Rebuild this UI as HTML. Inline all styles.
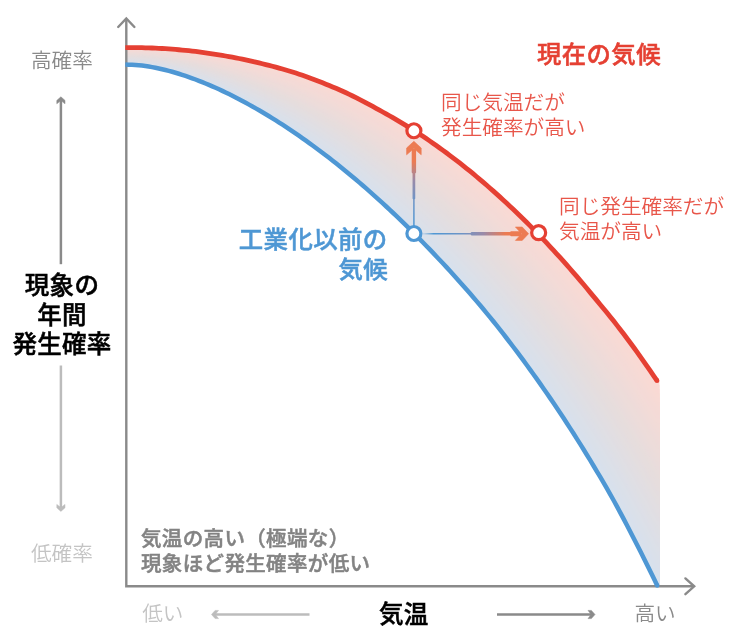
<!DOCTYPE html>
<html lang="ja"><head><meta charset="utf-8"><title>気温と現象の年間発生確率</title>
<style>
html,body{margin:0;padding:0;background:#fff;}
body{width:736px;height:636px;overflow:hidden;}
svg{display:block;}
text{font-family:"Liberation Sans","Noto Sans CJK JP",sans-serif;}
.b{font-weight:500;stroke-width:0.5px;}
.l{font-weight:350;}
</style></head><body>
<svg width="736" height="636" viewBox="0 0 736 636">
<defs>
<linearGradient id="gv" gradientUnits="userSpaceOnUse" x1="0" y1="226" x2="0" y2="150"><stop offset="0" stop-color="#4E97D4"/><stop offset="0.35" stop-color="#6E94C6"/><stop offset="0.6" stop-color="#9A8AA8"/><stop offset="0.85" stop-color="#EC7B52"/><stop offset="1" stop-color="#EC7B52"/></linearGradient>
<linearGradient id="gh" gradientUnits="userSpaceOnUse" x1="424" y1="0" x2="520" y2="0"><stop offset="0" stop-color="#4E97D4" stop-opacity="0.2"/><stop offset="0.1" stop-color="#4E97D4"/><stop offset="0.4" stop-color="#6E94C6"/><stop offset="0.62" stop-color="#9A8AA8"/><stop offset="0.85" stop-color="#EC7B52"/><stop offset="1" stop-color="#EC7B52"/></linearGradient>
</defs>
<rect width="736" height="636" fill="#fff"/>
<g>
<path d="M126.5,47.6 L131.4,47.6 L136.2,47.6 L141.1,47.7 L146.0,47.8 L150.8,48.0 L155.7,48.2 L160.6,48.4 L165.4,48.7 L170.3,49.0 L175.2,49.4 L180.0,49.8 L184.9,50.3 L189.8,50.8 L194.6,51.4 L199.5,52.0 L204.4,52.6 L209.2,53.3 L214.1,54.1 L219.0,54.9 L223.8,55.7 L228.7,56.5 L233.6,57.4 L238.4,58.4 L243.3,59.4 L248.2,60.4 L253.0,61.5 L257.9,62.7 L262.8,63.9 L267.6,65.1 L272.5,66.3 L277.4,67.6 L282.2,69.0 L287.1,70.4 L292.0,71.8 L296.8,73.4 L301.7,75.1 L306.6,76.8 L311.4,78.5 L316.3,80.4 L321.2,82.3 L326.0,84.2 L330.9,86.2 L335.8,88.2 L340.6,90.4 L345.5,92.6 L350.4,94.9 L355.2,97.3 L360.1,99.8 L365.0,102.3 L369.8,104.9 L374.7,107.5 L379.6,110.2 L384.4,112.9 L389.3,115.6 L394.2,118.4 L399.1,121.3 L403.9,124.2 L408.8,127.2 L413.7,130.3 L418.5,133.4 L423.4,136.7 L428.3,140.0 L433.1,143.3 L438.0,146.8 L442.9,150.3 L447.7,153.8 L452.6,157.5 L457.5,161.2 L462.3,165.0 L467.2,168.9 L472.1,172.9 L476.9,176.9 L481.8,181.0 L486.7,185.2 L491.5,189.5 L496.4,193.8 L501.3,198.2 L506.1,202.7 L511.0,207.2 L515.9,211.8 L520.7,216.5 L525.6,221.3 L530.5,226.1 L535.3,231.1 L540.2,236.1 L545.1,241.3 L549.9,246.4 L554.8,251.7 L559.7,257.0 L564.5,262.5 L569.4,268.0 L574.3,273.6 L579.1,279.2 L584.0,285.0 L588.9,290.8 L593.7,296.7 L598.6,302.6 L603.5,308.4 L608.3,314.4 L613.2,320.4 L618.1,326.7 L622.9,333.0 L627.8,339.4 L632.7,346.0 L637.5,352.7 L642.4,359.6 L647.3,366.5 L652.1,373.6 L657.0,380.7 L659.5,380.7 L659.5,585.4 L657.0,585.0 L652.1,575.0 L647.3,565.1 L642.4,555.4 L637.5,545.8 L632.7,536.2 L627.8,526.9 L622.9,517.6 L618.1,508.5 L613.2,499.6 L608.3,491.0 L603.5,482.6 L598.6,474.3 L593.7,466.1 L588.9,458.1 L584.0,450.2 L579.1,442.4 L574.3,434.7 L569.4,427.1 L564.5,419.6 L559.7,412.2 L554.8,405.0 L549.9,397.8 L545.1,390.7 L540.2,383.8 L535.3,376.9 L530.5,370.1 L525.6,363.4 L520.7,356.8 L515.9,350.3 L511.0,343.9 L506.1,337.6 L501.3,331.3 L496.4,325.1 L491.5,319.1 L486.7,313.2 L481.8,307.3 L476.9,301.5 L472.1,295.9 L467.2,290.3 L462.3,284.7 L457.5,279.2 L452.6,273.8 L447.7,268.5 L442.9,263.3 L438.0,258.1 L433.1,253.0 L428.3,247.9 L423.4,242.9 L418.5,237.9 L413.7,233.0 L408.8,228.1 L403.9,223.3 L399.1,218.6 L394.2,213.9 L389.3,209.4 L384.4,204.8 L379.6,200.4 L374.7,196.0 L369.8,191.6 L365.0,187.4 L360.1,183.2 L355.2,179.0 L350.4,175.0 L345.5,170.9 L340.6,167.0 L335.8,163.1 L330.9,159.3 L326.0,155.5 L321.2,151.8 L316.3,148.2 L311.4,144.6 L306.6,141.1 L301.7,137.7 L296.8,134.3 L292.0,131.0 L287.1,127.7 L282.2,124.5 L277.4,121.4 L272.5,118.4 L267.6,115.4 L262.8,112.5 L257.9,109.6 L253.0,106.8 L248.2,104.1 L243.3,101.5 L238.4,98.9 L233.6,96.4 L228.7,94.0 L223.8,91.6 L219.0,89.3 L214.1,87.1 L209.2,85.0 L204.4,83.0 L199.5,81.0 L194.6,79.2 L189.8,77.4 L184.9,75.7 L180.0,74.1 L175.2,72.6 L170.3,71.3 L165.4,70.0 L160.6,68.8 L155.7,67.8 L150.8,66.9 L146.0,66.1 L141.1,65.5 L136.2,65.0 L131.4,64.7 L126.5,64.6Z" fill="rgb(251,217,211)"/>
<path d="M126.5,47.9 L131.4,47.9 L136.2,48.0 L141.1,48.1 L146.0,48.2 L150.8,48.4 L155.7,48.6 L160.6,48.8 L165.4,49.2 L170.3,49.5 L175.2,49.9 L180.0,50.4 L184.9,50.8 L189.8,51.4 L194.6,52.0 L199.5,52.6 L204.4,53.3 L209.2,54.0 L214.1,54.8 L219.0,55.6 L223.8,56.4 L228.7,57.3 L233.6,58.3 L238.4,59.2 L243.3,60.3 L248.2,61.3 L253.0,62.5 L257.9,63.6 L262.8,64.9 L267.6,66.1 L272.5,67.4 L277.4,68.7 L282.2,70.1 L287.1,71.6 L292.0,73.1 L296.8,74.7 L301.7,76.4 L306.6,78.1 L311.4,79.9 L316.3,81.8 L321.2,83.7 L326.0,85.7 L330.9,87.7 L335.8,89.8 L340.6,92.0 L345.5,94.2 L350.4,96.5 L355.2,99.0 L360.1,101.5 L365.0,104.1 L369.8,106.7 L374.7,109.4 L379.6,112.1 L384.4,114.8 L389.3,117.6 L394.2,120.4 L399.1,123.3 L403.9,126.3 L408.8,129.3 L413.7,132.4 L418.5,135.6 L423.4,138.9 L428.3,142.2 L433.1,145.6 L438.0,149.1 L442.9,152.6 L447.7,156.2 L452.6,159.9 L457.5,163.7 L462.3,167.5 L467.2,171.5 L472.1,175.5 L476.9,179.5 L481.8,183.7 L486.7,187.9 L491.5,192.2 L496.4,196.5 L501.3,201.0 L506.1,205.5 L511.0,210.0 L515.9,214.7 L520.7,219.4 L525.6,224.2 L530.5,229.1 L535.3,234.1 L540.2,239.2 L545.1,244.4 L549.9,249.6 L554.8,254.9 L559.7,260.3 L564.5,265.7 L569.4,271.3 L574.3,276.9 L579.1,282.6 L584.0,288.4 L588.9,294.3 L593.7,300.2 L598.6,306.1 L603.5,312.1 L608.3,318.1 L613.2,324.2 L618.1,330.5 L622.9,336.8 L627.8,343.3 L632.7,349.9 L637.5,356.7 L642.4,363.7 L647.3,370.7 L652.1,377.8 L657.0,385.0 L659.5,385.0 L659.5,585.4 L657.0,585.0 L652.1,575.0 L647.3,565.1 L642.4,555.4 L637.5,545.8 L632.7,536.2 L627.8,526.9 L622.9,517.6 L618.1,508.5 L613.2,499.6 L608.3,491.0 L603.5,482.6 L598.6,474.3 L593.7,466.1 L588.9,458.1 L584.0,450.2 L579.1,442.4 L574.3,434.7 L569.4,427.1 L564.5,419.6 L559.7,412.2 L554.8,405.0 L549.9,397.8 L545.1,390.7 L540.2,383.8 L535.3,376.9 L530.5,370.1 L525.6,363.4 L520.7,356.8 L515.9,350.3 L511.0,343.9 L506.1,337.6 L501.3,331.3 L496.4,325.1 L491.5,319.1 L486.7,313.2 L481.8,307.3 L476.9,301.5 L472.1,295.9 L467.2,290.3 L462.3,284.7 L457.5,279.2 L452.6,273.8 L447.7,268.5 L442.9,263.3 L438.0,258.1 L433.1,253.0 L428.3,247.9 L423.4,242.9 L418.5,237.9 L413.7,233.0 L408.8,228.1 L403.9,223.3 L399.1,218.6 L394.2,213.9 L389.3,209.4 L384.4,204.8 L379.6,200.4 L374.7,196.0 L369.8,191.6 L365.0,187.4 L360.1,183.2 L355.2,179.0 L350.4,175.0 L345.5,170.9 L340.6,167.0 L335.8,163.1 L330.9,159.3 L326.0,155.5 L321.2,151.8 L316.3,148.2 L311.4,144.6 L306.6,141.1 L301.7,137.7 L296.8,134.3 L292.0,131.0 L287.1,127.7 L282.2,124.5 L277.4,121.4 L272.5,118.4 L267.6,115.4 L262.8,112.5 L257.9,109.6 L253.0,106.8 L248.2,104.1 L243.3,101.5 L238.4,98.9 L233.6,96.4 L228.7,94.0 L223.8,91.6 L219.0,89.3 L214.1,87.1 L209.2,85.0 L204.4,83.0 L199.5,81.0 L194.6,79.2 L189.8,77.4 L184.9,75.7 L180.0,74.1 L175.2,72.6 L170.3,71.3 L165.4,70.0 L160.6,68.8 L155.7,67.8 L150.8,66.9 L146.0,66.1 L141.1,65.5 L136.2,65.0 L131.4,64.7 L126.5,64.6Z" fill="rgb(250,217,212)"/>
<path d="M126.5,48.3 L131.4,48.3 L136.2,48.3 L141.1,48.4 L146.0,48.6 L150.8,48.8 L155.7,49.0 L160.6,49.3 L165.4,49.6 L170.3,50.0 L175.2,50.4 L180.0,50.9 L184.9,51.4 L189.8,51.9 L194.6,52.5 L199.5,53.2 L204.4,53.9 L209.2,54.7 L214.1,55.5 L219.0,56.3 L223.8,57.2 L228.7,58.1 L233.6,59.1 L238.4,60.1 L243.3,61.1 L248.2,62.3 L253.0,63.4 L257.9,64.6 L262.8,65.9 L267.6,67.2 L272.5,68.5 L277.4,69.9 L282.2,71.3 L287.1,72.8 L292.0,74.3 L296.8,75.9 L301.7,77.7 L306.6,79.5 L311.4,81.3 L316.3,83.2 L321.2,85.2 L326.0,87.2 L330.9,89.2 L335.8,91.4 L340.6,93.6 L345.5,95.8 L350.4,98.2 L355.2,100.7 L360.1,103.2 L365.0,105.8 L369.8,108.5 L374.7,111.2 L379.6,114.0 L384.4,116.7 L389.3,119.5 L394.2,122.4 L399.1,125.4 L403.9,128.4 L408.8,131.4 L413.7,134.6 L418.5,137.8 L423.4,141.1 L428.3,144.5 L433.1,147.9 L438.0,151.4 L442.9,155.0 L447.7,158.6 L452.6,162.3 L457.5,166.1 L462.3,170.0 L467.2,174.0 L472.1,178.0 L476.9,182.1 L481.8,186.3 L486.7,190.5 L491.5,194.9 L496.4,199.3 L501.3,203.7 L506.1,208.3 L511.0,212.9 L515.9,217.6 L520.7,222.4 L525.6,227.2 L530.5,232.1 L535.3,237.2 L540.2,242.3 L545.1,247.5 L549.9,252.8 L554.8,258.1 L559.7,263.5 L564.5,269.0 L569.4,274.6 L574.3,280.3 L579.1,286.0 L584.0,291.9 L588.9,297.8 L593.7,303.8 L598.6,309.7 L603.5,315.7 L608.3,321.7 L613.2,327.9 L618.1,334.2 L622.9,340.7 L627.8,347.2 L632.7,353.9 L637.5,360.8 L642.4,367.7 L647.3,374.8 L652.1,382.0 L657.0,389.2 L659.5,389.2 L659.5,585.4 L657.0,585.0 L652.1,575.0 L647.3,565.1 L642.4,555.4 L637.5,545.8 L632.7,536.2 L627.8,526.9 L622.9,517.6 L618.1,508.5 L613.2,499.6 L608.3,491.0 L603.5,482.6 L598.6,474.3 L593.7,466.1 L588.9,458.1 L584.0,450.2 L579.1,442.4 L574.3,434.7 L569.4,427.1 L564.5,419.6 L559.7,412.2 L554.8,405.0 L549.9,397.8 L545.1,390.7 L540.2,383.8 L535.3,376.9 L530.5,370.1 L525.6,363.4 L520.7,356.8 L515.9,350.3 L511.0,343.9 L506.1,337.6 L501.3,331.3 L496.4,325.1 L491.5,319.1 L486.7,313.2 L481.8,307.3 L476.9,301.5 L472.1,295.9 L467.2,290.3 L462.3,284.7 L457.5,279.2 L452.6,273.8 L447.7,268.5 L442.9,263.3 L438.0,258.1 L433.1,253.0 L428.3,247.9 L423.4,242.9 L418.5,237.9 L413.7,233.0 L408.8,228.1 L403.9,223.3 L399.1,218.6 L394.2,213.9 L389.3,209.4 L384.4,204.8 L379.6,200.4 L374.7,196.0 L369.8,191.6 L365.0,187.4 L360.1,183.2 L355.2,179.0 L350.4,175.0 L345.5,170.9 L340.6,167.0 L335.8,163.1 L330.9,159.3 L326.0,155.5 L321.2,151.8 L316.3,148.2 L311.4,144.6 L306.6,141.1 L301.7,137.7 L296.8,134.3 L292.0,131.0 L287.1,127.7 L282.2,124.5 L277.4,121.4 L272.5,118.4 L267.6,115.4 L262.8,112.5 L257.9,109.6 L253.0,106.8 L248.2,104.1 L243.3,101.5 L238.4,98.9 L233.6,96.4 L228.7,94.0 L223.8,91.6 L219.0,89.3 L214.1,87.1 L209.2,85.0 L204.4,83.0 L199.5,81.0 L194.6,79.2 L189.8,77.4 L184.9,75.7 L180.0,74.1 L175.2,72.6 L170.3,71.3 L165.4,70.0 L160.6,68.8 L155.7,67.8 L150.8,66.9 L146.0,66.1 L141.1,65.5 L136.2,65.0 L131.4,64.7 L126.5,64.6Z" fill="rgb(249,217,212)"/>
<path d="M126.5,48.7 L131.4,48.7 L136.2,48.7 L141.1,48.8 L146.0,49.0 L150.8,49.2 L155.7,49.4 L160.6,49.7 L165.4,50.0 L170.3,50.4 L175.2,50.9 L180.0,51.4 L184.9,51.9 L189.8,52.5 L194.6,53.1 L199.5,53.8 L204.4,54.5 L209.2,55.3 L214.1,56.1 L219.0,57.0 L223.8,57.9 L228.7,58.9 L233.6,59.9 L238.4,60.9 L243.3,62.0 L248.2,63.2 L253.0,64.4 L257.9,65.6 L262.8,66.9 L267.6,68.2 L272.5,69.6 L277.4,71.0 L282.2,72.4 L287.1,74.0 L292.0,75.5 L296.8,77.2 L301.7,79.0 L306.6,80.8 L311.4,82.7 L316.3,84.6 L321.2,86.6 L326.0,88.7 L330.9,90.8 L335.8,92.9 L340.6,95.2 L345.5,97.5 L350.4,99.9 L355.2,102.4 L360.1,105.0 L365.0,107.6 L369.8,110.3 L374.7,113.1 L379.6,115.8 L384.4,118.6 L389.3,121.5 L394.2,124.4 L399.1,127.4 L403.9,130.4 L408.8,133.5 L413.7,136.7 L418.5,140.0 L423.4,143.3 L428.3,146.7 L433.1,150.2 L438.0,153.7 L442.9,157.3 L447.7,161.0 L452.6,164.8 L457.5,168.6 L462.3,172.5 L467.2,176.5 L472.1,180.6 L476.9,184.7 L481.8,188.9 L486.7,193.2 L491.5,197.6 L496.4,202.0 L501.3,206.5 L506.1,211.1 L511.0,215.7 L515.9,220.5 L520.7,225.3 L525.6,230.2 L530.5,235.1 L535.3,240.2 L540.2,245.4 L545.1,250.6 L549.9,255.9 L554.8,261.3 L559.7,266.7 L564.5,272.3 L569.4,277.9 L574.3,283.6 L579.1,289.4 L584.0,295.3 L588.9,301.3 L593.7,307.3 L598.6,313.3 L603.5,319.3 L608.3,325.4 L613.2,331.6 L618.1,338.0 L622.9,344.5 L627.8,351.1 L632.7,357.9 L637.5,364.8 L642.4,371.8 L647.3,378.9 L652.1,386.2 L657.0,393.5 L659.5,393.5 L659.5,585.4 L657.0,585.0 L652.1,575.0 L647.3,565.1 L642.4,555.4 L637.5,545.8 L632.7,536.2 L627.8,526.9 L622.9,517.6 L618.1,508.5 L613.2,499.6 L608.3,491.0 L603.5,482.6 L598.6,474.3 L593.7,466.1 L588.9,458.1 L584.0,450.2 L579.1,442.4 L574.3,434.7 L569.4,427.1 L564.5,419.6 L559.7,412.2 L554.8,405.0 L549.9,397.8 L545.1,390.7 L540.2,383.8 L535.3,376.9 L530.5,370.1 L525.6,363.4 L520.7,356.8 L515.9,350.3 L511.0,343.9 L506.1,337.6 L501.3,331.3 L496.4,325.1 L491.5,319.1 L486.7,313.2 L481.8,307.3 L476.9,301.5 L472.1,295.9 L467.2,290.3 L462.3,284.7 L457.5,279.2 L452.6,273.8 L447.7,268.5 L442.9,263.3 L438.0,258.1 L433.1,253.0 L428.3,247.9 L423.4,242.9 L418.5,237.9 L413.7,233.0 L408.8,228.1 L403.9,223.3 L399.1,218.6 L394.2,213.9 L389.3,209.4 L384.4,204.8 L379.6,200.4 L374.7,196.0 L369.8,191.6 L365.0,187.4 L360.1,183.2 L355.2,179.0 L350.4,175.0 L345.5,170.9 L340.6,167.0 L335.8,163.1 L330.9,159.3 L326.0,155.5 L321.2,151.8 L316.3,148.2 L311.4,144.6 L306.6,141.1 L301.7,137.7 L296.8,134.3 L292.0,131.0 L287.1,127.7 L282.2,124.5 L277.4,121.4 L272.5,118.4 L267.6,115.4 L262.8,112.5 L257.9,109.6 L253.0,106.8 L248.2,104.1 L243.3,101.5 L238.4,98.9 L233.6,96.4 L228.7,94.0 L223.8,91.6 L219.0,89.3 L214.1,87.1 L209.2,85.0 L204.4,83.0 L199.5,81.0 L194.6,79.2 L189.8,77.4 L184.9,75.7 L180.0,74.1 L175.2,72.6 L170.3,71.3 L165.4,70.0 L160.6,68.8 L155.7,67.8 L150.8,66.9 L146.0,66.1 L141.1,65.5 L136.2,65.0 L131.4,64.7 L126.5,64.6Z" fill="rgb(248,218,212)"/>
<path d="M126.5,49.0 L131.4,49.0 L136.2,49.1 L141.1,49.2 L146.0,49.3 L150.8,49.6 L155.7,49.8 L160.6,50.1 L165.4,50.5 L170.3,50.9 L175.2,51.4 L180.0,51.9 L184.9,52.4 L189.8,53.0 L194.6,53.7 L199.5,54.4 L204.4,55.2 L209.2,56.0 L214.1,56.8 L219.0,57.7 L223.8,58.7 L228.7,59.7 L233.6,60.7 L238.4,61.8 L243.3,62.9 L248.2,64.1 L253.0,65.3 L257.9,66.6 L262.8,67.9 L267.6,69.3 L272.5,70.7 L277.4,72.1 L282.2,73.6 L287.1,75.1 L292.0,76.8 L296.8,78.5 L301.7,80.3 L306.6,82.1 L311.4,84.1 L316.3,86.0 L321.2,88.1 L326.0,90.1 L330.9,92.3 L335.8,94.5 L340.6,96.7 L345.5,99.1 L350.4,101.5 L355.2,104.1 L360.1,106.7 L365.0,109.4 L369.8,112.1 L374.7,114.9 L379.6,117.7 L384.4,120.6 L389.3,123.5 L394.2,126.4 L399.1,129.4 L403.9,132.5 L408.8,135.6 L413.7,138.9 L418.5,142.2 L423.4,145.5 L428.3,149.0 L433.1,152.5 L438.0,156.0 L442.9,159.7 L447.7,163.4 L452.6,167.2 L457.5,171.1 L462.3,175.0 L467.2,179.0 L472.1,183.1 L476.9,187.3 L481.8,191.5 L486.7,195.9 L491.5,200.3 L496.4,204.7 L501.3,209.3 L506.1,213.9 L511.0,218.6 L515.9,223.4 L520.7,228.2 L525.6,233.1 L530.5,238.1 L535.3,243.3 L540.2,248.4 L545.1,253.7 L549.9,259.1 L554.8,264.5 L559.7,270.0 L564.5,275.6 L569.4,281.2 L574.3,287.0 L579.1,292.8 L584.0,298.8 L588.9,304.8 L593.7,310.8 L598.6,316.9 L603.5,322.9 L608.3,329.1 L613.2,335.4 L618.1,341.8 L622.9,348.4 L627.8,355.0 L632.7,361.8 L637.5,368.8 L642.4,375.9 L647.3,383.1 L652.1,390.3 L657.0,397.7 L659.5,397.8 L659.5,585.4 L657.0,585.0 L652.1,575.0 L647.3,565.1 L642.4,555.4 L637.5,545.8 L632.7,536.2 L627.8,526.9 L622.9,517.6 L618.1,508.5 L613.2,499.6 L608.3,491.0 L603.5,482.6 L598.6,474.3 L593.7,466.1 L588.9,458.1 L584.0,450.2 L579.1,442.4 L574.3,434.7 L569.4,427.1 L564.5,419.6 L559.7,412.2 L554.8,405.0 L549.9,397.8 L545.1,390.7 L540.2,383.8 L535.3,376.9 L530.5,370.1 L525.6,363.4 L520.7,356.8 L515.9,350.3 L511.0,343.9 L506.1,337.6 L501.3,331.3 L496.4,325.1 L491.5,319.1 L486.7,313.2 L481.8,307.3 L476.9,301.5 L472.1,295.9 L467.2,290.3 L462.3,284.7 L457.5,279.2 L452.6,273.8 L447.7,268.5 L442.9,263.3 L438.0,258.1 L433.1,253.0 L428.3,247.9 L423.4,242.9 L418.5,237.9 L413.7,233.0 L408.8,228.1 L403.9,223.3 L399.1,218.6 L394.2,213.9 L389.3,209.4 L384.4,204.8 L379.6,200.4 L374.7,196.0 L369.8,191.6 L365.0,187.4 L360.1,183.2 L355.2,179.0 L350.4,175.0 L345.5,170.9 L340.6,167.0 L335.8,163.1 L330.9,159.3 L326.0,155.5 L321.2,151.8 L316.3,148.2 L311.4,144.6 L306.6,141.1 L301.7,137.7 L296.8,134.3 L292.0,131.0 L287.1,127.7 L282.2,124.5 L277.4,121.4 L272.5,118.4 L267.6,115.4 L262.8,112.5 L257.9,109.6 L253.0,106.8 L248.2,104.1 L243.3,101.5 L238.4,98.9 L233.6,96.4 L228.7,94.0 L223.8,91.6 L219.0,89.3 L214.1,87.1 L209.2,85.0 L204.4,83.0 L199.5,81.0 L194.6,79.2 L189.8,77.4 L184.9,75.7 L180.0,74.1 L175.2,72.6 L170.3,71.3 L165.4,70.0 L160.6,68.8 L155.7,67.8 L150.8,66.9 L146.0,66.1 L141.1,65.5 L136.2,65.0 L131.4,64.7 L126.5,64.6Z" fill="rgb(247,218,213)"/>
<path d="M126.5,49.4 L131.4,49.4 L136.2,49.4 L141.1,49.5 L146.0,49.7 L150.8,49.9 L155.7,50.2 L160.6,50.6 L165.4,50.9 L170.3,51.4 L175.2,51.8 L180.0,52.4 L184.9,53.0 L189.8,53.6 L194.6,54.3 L199.5,55.0 L204.4,55.8 L209.2,56.6 L214.1,57.5 L219.0,58.4 L223.8,59.4 L228.7,60.4 L233.6,61.5 L238.4,62.6 L243.3,63.8 L248.2,65.0 L253.0,66.2 L257.9,67.6 L262.8,68.9 L267.6,70.3 L272.5,71.7 L277.4,73.2 L282.2,74.8 L287.1,76.3 L292.0,78.0 L296.8,79.8 L301.7,81.6 L306.6,83.5 L311.4,85.4 L316.3,87.4 L321.2,89.5 L326.0,91.6 L330.9,93.8 L335.8,96.0 L340.6,98.3 L345.5,100.7 L350.4,103.2 L355.2,105.8 L360.1,108.4 L365.0,111.2 L369.8,113.9 L374.7,116.7 L379.6,119.6 L384.4,122.5 L389.3,125.4 L394.2,128.4 L399.1,131.4 L403.9,134.6 L408.8,137.7 L413.7,141.0 L418.5,144.3 L423.4,147.7 L428.3,151.2 L433.1,154.7 L438.0,158.4 L442.9,162.0 L447.7,165.8 L452.6,169.6 L457.5,173.5 L462.3,177.5 L467.2,181.6 L472.1,185.7 L476.9,189.9 L481.8,194.2 L486.7,198.5 L491.5,203.0 L496.4,207.5 L501.3,212.1 L506.1,216.7 L511.0,221.4 L515.9,226.2 L520.7,231.1 L525.6,236.1 L530.5,241.1 L535.3,246.3 L540.2,251.5 L545.1,256.8 L549.9,262.2 L554.8,267.7 L559.7,273.2 L564.5,278.8 L569.4,284.5 L574.3,290.3 L579.1,296.2 L584.0,302.2 L588.9,308.3 L593.7,314.4 L598.6,320.5 L603.5,326.6 L608.3,332.8 L613.2,339.1 L618.1,345.6 L622.9,352.2 L627.8,358.9 L632.7,365.8 L637.5,372.8 L642.4,380.0 L647.3,387.2 L652.1,394.5 L657.0,402.0 L659.5,402.0 L659.5,585.4 L657.0,585.0 L652.1,575.0 L647.3,565.1 L642.4,555.4 L637.5,545.8 L632.7,536.2 L627.8,526.9 L622.9,517.6 L618.1,508.5 L613.2,499.6 L608.3,491.0 L603.5,482.6 L598.6,474.3 L593.7,466.1 L588.9,458.1 L584.0,450.2 L579.1,442.4 L574.3,434.7 L569.4,427.1 L564.5,419.6 L559.7,412.2 L554.8,405.0 L549.9,397.8 L545.1,390.7 L540.2,383.8 L535.3,376.9 L530.5,370.1 L525.6,363.4 L520.7,356.8 L515.9,350.3 L511.0,343.9 L506.1,337.6 L501.3,331.3 L496.4,325.1 L491.5,319.1 L486.7,313.2 L481.8,307.3 L476.9,301.5 L472.1,295.9 L467.2,290.3 L462.3,284.7 L457.5,279.2 L452.6,273.8 L447.7,268.5 L442.9,263.3 L438.0,258.1 L433.1,253.0 L428.3,247.9 L423.4,242.9 L418.5,237.9 L413.7,233.0 L408.8,228.1 L403.9,223.3 L399.1,218.6 L394.2,213.9 L389.3,209.4 L384.4,204.8 L379.6,200.4 L374.7,196.0 L369.8,191.6 L365.0,187.4 L360.1,183.2 L355.2,179.0 L350.4,175.0 L345.5,170.9 L340.6,167.0 L335.8,163.1 L330.9,159.3 L326.0,155.5 L321.2,151.8 L316.3,148.2 L311.4,144.6 L306.6,141.1 L301.7,137.7 L296.8,134.3 L292.0,131.0 L287.1,127.7 L282.2,124.5 L277.4,121.4 L272.5,118.4 L267.6,115.4 L262.8,112.5 L257.9,109.6 L253.0,106.8 L248.2,104.1 L243.3,101.5 L238.4,98.9 L233.6,96.4 L228.7,94.0 L223.8,91.6 L219.0,89.3 L214.1,87.1 L209.2,85.0 L204.4,83.0 L199.5,81.0 L194.6,79.2 L189.8,77.4 L184.9,75.7 L180.0,74.1 L175.2,72.6 L170.3,71.3 L165.4,70.0 L160.6,68.8 L155.7,67.8 L150.8,66.9 L146.0,66.1 L141.1,65.5 L136.2,65.0 L131.4,64.7 L126.5,64.6Z" fill="rgb(246,218,213)"/>
<path d="M126.5,49.7 L131.4,49.7 L136.2,49.8 L141.1,49.9 L146.0,50.1 L150.8,50.3 L155.7,50.6 L160.6,51.0 L165.4,51.4 L170.3,51.8 L175.2,52.3 L180.0,52.9 L184.9,53.5 L189.8,54.1 L194.6,54.9 L199.5,55.6 L204.4,56.4 L209.2,57.3 L214.1,58.2 L219.0,59.2 L223.8,60.2 L228.7,61.2 L233.6,62.3 L238.4,63.5 L243.3,64.7 L248.2,65.9 L253.0,67.2 L257.9,68.5 L262.8,69.9 L267.6,71.4 L272.5,72.8 L277.4,74.3 L282.2,75.9 L287.1,77.5 L292.0,79.2 L296.8,81.0 L301.7,82.9 L306.6,84.8 L311.4,86.8 L316.3,88.9 L321.2,91.0 L326.0,93.1 L330.9,95.3 L335.8,97.6 L340.6,99.9 L345.5,102.4 L350.4,104.9 L355.2,107.5 L360.1,110.2 L365.0,112.9 L369.8,115.7 L374.7,118.6 L379.6,121.5 L384.4,124.4 L389.3,127.4 L394.2,130.4 L399.1,133.5 L403.9,136.6 L408.8,139.8 L413.7,143.1 L418.5,146.5 L423.4,149.9 L428.3,153.4 L433.1,157.0 L438.0,160.7 L442.9,164.4 L447.7,168.2 L452.6,172.0 L457.5,176.0 L462.3,180.0 L467.2,184.1 L472.1,188.3 L476.9,192.5 L481.8,196.8 L486.7,201.2 L491.5,205.7 L496.4,210.2 L501.3,214.8 L506.1,219.5 L511.0,224.3 L515.9,229.1 L520.7,234.0 L525.6,239.1 L530.5,244.1 L535.3,249.3 L540.2,254.6 L545.1,259.9 L549.9,265.4 L554.8,270.9 L559.7,276.4 L564.5,282.1 L569.4,287.9 L574.3,293.7 L579.1,299.6 L584.0,305.6 L588.9,311.7 L593.7,317.9 L598.6,324.0 L603.5,330.2 L608.3,336.4 L613.2,342.8 L618.1,349.4 L622.9,356.1 L627.8,362.8 L632.7,369.8 L637.5,376.9 L642.4,384.0 L647.3,391.3 L652.1,398.7 L657.0,406.2 L659.5,406.3 L659.5,585.4 L657.0,585.0 L652.1,575.0 L647.3,565.1 L642.4,555.4 L637.5,545.8 L632.7,536.2 L627.8,526.9 L622.9,517.6 L618.1,508.5 L613.2,499.6 L608.3,491.0 L603.5,482.6 L598.6,474.3 L593.7,466.1 L588.9,458.1 L584.0,450.2 L579.1,442.4 L574.3,434.7 L569.4,427.1 L564.5,419.6 L559.7,412.2 L554.8,405.0 L549.9,397.8 L545.1,390.7 L540.2,383.8 L535.3,376.9 L530.5,370.1 L525.6,363.4 L520.7,356.8 L515.9,350.3 L511.0,343.9 L506.1,337.6 L501.3,331.3 L496.4,325.1 L491.5,319.1 L486.7,313.2 L481.8,307.3 L476.9,301.5 L472.1,295.9 L467.2,290.3 L462.3,284.7 L457.5,279.2 L452.6,273.8 L447.7,268.5 L442.9,263.3 L438.0,258.1 L433.1,253.0 L428.3,247.9 L423.4,242.9 L418.5,237.9 L413.7,233.0 L408.8,228.1 L403.9,223.3 L399.1,218.6 L394.2,213.9 L389.3,209.4 L384.4,204.8 L379.6,200.4 L374.7,196.0 L369.8,191.6 L365.0,187.4 L360.1,183.2 L355.2,179.0 L350.4,175.0 L345.5,170.9 L340.6,167.0 L335.8,163.1 L330.9,159.3 L326.0,155.5 L321.2,151.8 L316.3,148.2 L311.4,144.6 L306.6,141.1 L301.7,137.7 L296.8,134.3 L292.0,131.0 L287.1,127.7 L282.2,124.5 L277.4,121.4 L272.5,118.4 L267.6,115.4 L262.8,112.5 L257.9,109.6 L253.0,106.8 L248.2,104.1 L243.3,101.5 L238.4,98.9 L233.6,96.4 L228.7,94.0 L223.8,91.6 L219.0,89.3 L214.1,87.1 L209.2,85.0 L204.4,83.0 L199.5,81.0 L194.6,79.2 L189.8,77.4 L184.9,75.7 L180.0,74.1 L175.2,72.6 L170.3,71.3 L165.4,70.0 L160.6,68.8 L155.7,67.8 L150.8,66.9 L146.0,66.1 L141.1,65.5 L136.2,65.0 L131.4,64.7 L126.5,64.6Z" fill="rgb(245,218,214)"/>
<path d="M126.5,50.1 L131.4,50.1 L136.2,50.2 L141.1,50.3 L146.0,50.5 L150.8,50.7 L155.7,51.0 L160.6,51.4 L165.4,51.8 L170.3,52.3 L175.2,52.8 L180.0,53.4 L184.9,54.0 L189.8,54.7 L194.6,55.4 L199.5,56.2 L204.4,57.1 L209.2,58.0 L214.1,58.9 L219.0,59.9 L223.8,60.9 L228.7,62.0 L233.6,63.1 L238.4,64.3 L243.3,65.5 L248.2,66.8 L253.0,68.1 L257.9,69.5 L262.8,70.9 L267.6,72.4 L272.5,73.9 L277.4,75.5 L282.2,77.1 L287.1,78.7 L292.0,80.5 L296.8,82.3 L301.7,84.2 L306.6,86.2 L311.4,88.2 L316.3,90.3 L321.2,92.4 L326.0,94.6 L330.9,96.9 L335.8,99.2 L340.6,101.5 L345.5,104.0 L350.4,106.6 L355.2,109.2 L360.1,111.9 L365.0,114.7 L369.8,117.5 L374.7,120.4 L379.6,123.4 L384.4,126.3 L389.3,129.3 L394.2,132.4 L399.1,135.5 L403.9,138.7 L408.8,141.9 L413.7,145.3 L418.5,148.7 L423.4,152.2 L428.3,155.7 L433.1,159.3 L438.0,163.0 L442.9,166.7 L447.7,170.6 L452.6,174.5 L457.5,178.4 L462.3,182.5 L467.2,186.6 L472.1,190.8 L476.9,195.1 L481.8,199.4 L486.7,203.9 L491.5,208.4 L496.4,212.9 L501.3,217.6 L506.1,222.3 L511.0,227.1 L515.9,232.0 L520.7,237.0 L525.6,242.0 L530.5,247.1 L535.3,252.4 L540.2,257.7 L545.1,263.1 L549.9,268.5 L554.8,274.1 L559.7,279.7 L564.5,285.4 L569.4,291.2 L574.3,297.0 L579.1,303.0 L584.0,309.1 L588.9,315.2 L593.7,321.4 L598.6,327.6 L603.5,333.8 L608.3,340.1 L613.2,346.6 L618.1,353.2 L622.9,359.9 L627.8,366.7 L632.7,373.7 L637.5,380.9 L642.4,388.1 L647.3,395.5 L652.1,402.9 L657.0,410.5 L659.5,410.6 L659.5,585.4 L657.0,585.0 L652.1,575.0 L647.3,565.1 L642.4,555.4 L637.5,545.8 L632.7,536.2 L627.8,526.9 L622.9,517.6 L618.1,508.5 L613.2,499.6 L608.3,491.0 L603.5,482.6 L598.6,474.3 L593.7,466.1 L588.9,458.1 L584.0,450.2 L579.1,442.4 L574.3,434.7 L569.4,427.1 L564.5,419.6 L559.7,412.2 L554.8,405.0 L549.9,397.8 L545.1,390.7 L540.2,383.8 L535.3,376.9 L530.5,370.1 L525.6,363.4 L520.7,356.8 L515.9,350.3 L511.0,343.9 L506.1,337.6 L501.3,331.3 L496.4,325.1 L491.5,319.1 L486.7,313.2 L481.8,307.3 L476.9,301.5 L472.1,295.9 L467.2,290.3 L462.3,284.7 L457.5,279.2 L452.6,273.8 L447.7,268.5 L442.9,263.3 L438.0,258.1 L433.1,253.0 L428.3,247.9 L423.4,242.9 L418.5,237.9 L413.7,233.0 L408.8,228.1 L403.9,223.3 L399.1,218.6 L394.2,213.9 L389.3,209.4 L384.4,204.8 L379.6,200.4 L374.7,196.0 L369.8,191.6 L365.0,187.4 L360.1,183.2 L355.2,179.0 L350.4,175.0 L345.5,170.9 L340.6,167.0 L335.8,163.1 L330.9,159.3 L326.0,155.5 L321.2,151.8 L316.3,148.2 L311.4,144.6 L306.6,141.1 L301.7,137.7 L296.8,134.3 L292.0,131.0 L287.1,127.7 L282.2,124.5 L277.4,121.4 L272.5,118.4 L267.6,115.4 L262.8,112.5 L257.9,109.6 L253.0,106.8 L248.2,104.1 L243.3,101.5 L238.4,98.9 L233.6,96.4 L228.7,94.0 L223.8,91.6 L219.0,89.3 L214.1,87.1 L209.2,85.0 L204.4,83.0 L199.5,81.0 L194.6,79.2 L189.8,77.4 L184.9,75.7 L180.0,74.1 L175.2,72.6 L170.3,71.3 L165.4,70.0 L160.6,68.8 L155.7,67.8 L150.8,66.9 L146.0,66.1 L141.1,65.5 L136.2,65.0 L131.4,64.7 L126.5,64.6Z" fill="rgb(244,218,214)"/>
<path d="M126.5,50.4 L131.4,50.4 L136.2,50.5 L141.1,50.7 L146.0,50.9 L150.8,51.1 L155.7,51.4 L160.6,51.8 L165.4,52.3 L170.3,52.7 L175.2,53.3 L180.0,53.9 L184.9,54.5 L189.8,55.3 L194.6,56.0 L199.5,56.8 L204.4,57.7 L209.2,58.6 L214.1,59.6 L219.0,60.6 L223.8,61.7 L228.7,62.8 L233.6,63.9 L238.4,65.1 L243.3,66.4 L248.2,67.7 L253.0,69.1 L257.9,70.5 L262.8,72.0 L267.6,73.5 L272.5,75.0 L277.4,76.6 L282.2,78.2 L287.1,79.9 L292.0,81.7 L296.8,83.6 L301.7,85.5 L306.6,87.5 L311.4,89.6 L316.3,91.7 L321.2,93.9 L326.0,96.1 L330.9,98.4 L335.8,100.7 L340.6,103.1 L345.5,105.6 L350.4,108.2 L355.2,110.9 L360.1,113.7 L365.0,116.5 L369.8,119.4 L374.7,122.3 L379.6,125.2 L384.4,128.2 L389.3,131.3 L394.2,134.4 L399.1,137.5 L403.9,140.8 L408.8,144.0 L413.7,147.4 L418.5,150.9 L423.4,154.4 L428.3,157.9 L433.1,161.6 L438.0,165.3 L442.9,169.1 L447.7,173.0 L452.6,176.9 L457.5,180.9 L462.3,185.0 L467.2,189.2 L472.1,193.4 L476.9,197.7 L481.8,202.1 L486.7,206.5 L491.5,211.1 L496.4,215.7 L501.3,220.4 L506.1,225.1 L511.0,230.0 L515.9,234.9 L520.7,239.9 L525.6,245.0 L530.5,250.1 L535.3,255.4 L540.2,260.7 L545.1,266.2 L549.9,271.7 L554.8,277.2 L559.7,282.9 L564.5,288.7 L569.4,294.5 L574.3,300.4 L579.1,306.4 L584.0,312.5 L588.9,318.7 L593.7,324.9 L598.6,331.2 L603.5,337.5 L608.3,343.8 L613.2,350.3 L618.1,357.0 L622.9,363.7 L627.8,370.6 L632.7,377.7 L637.5,384.9 L642.4,392.2 L647.3,399.6 L652.1,407.1 L657.0,414.7 L659.5,414.8 L659.5,585.4 L657.0,585.0 L652.1,575.0 L647.3,565.1 L642.4,555.4 L637.5,545.8 L632.7,536.2 L627.8,526.9 L622.9,517.6 L618.1,508.5 L613.2,499.6 L608.3,491.0 L603.5,482.6 L598.6,474.3 L593.7,466.1 L588.9,458.1 L584.0,450.2 L579.1,442.4 L574.3,434.7 L569.4,427.1 L564.5,419.6 L559.7,412.2 L554.8,405.0 L549.9,397.8 L545.1,390.7 L540.2,383.8 L535.3,376.9 L530.5,370.1 L525.6,363.4 L520.7,356.8 L515.9,350.3 L511.0,343.9 L506.1,337.6 L501.3,331.3 L496.4,325.1 L491.5,319.1 L486.7,313.2 L481.8,307.3 L476.9,301.5 L472.1,295.9 L467.2,290.3 L462.3,284.7 L457.5,279.2 L452.6,273.8 L447.7,268.5 L442.9,263.3 L438.0,258.1 L433.1,253.0 L428.3,247.9 L423.4,242.9 L418.5,237.9 L413.7,233.0 L408.8,228.1 L403.9,223.3 L399.1,218.6 L394.2,213.9 L389.3,209.4 L384.4,204.8 L379.6,200.4 L374.7,196.0 L369.8,191.6 L365.0,187.4 L360.1,183.2 L355.2,179.0 L350.4,175.0 L345.5,170.9 L340.6,167.0 L335.8,163.1 L330.9,159.3 L326.0,155.5 L321.2,151.8 L316.3,148.2 L311.4,144.6 L306.6,141.1 L301.7,137.7 L296.8,134.3 L292.0,131.0 L287.1,127.7 L282.2,124.5 L277.4,121.4 L272.5,118.4 L267.6,115.4 L262.8,112.5 L257.9,109.6 L253.0,106.8 L248.2,104.1 L243.3,101.5 L238.4,98.9 L233.6,96.4 L228.7,94.0 L223.8,91.6 L219.0,89.3 L214.1,87.1 L209.2,85.0 L204.4,83.0 L199.5,81.0 L194.6,79.2 L189.8,77.4 L184.9,75.7 L180.0,74.1 L175.2,72.6 L170.3,71.3 L165.4,70.0 L160.6,68.8 L155.7,67.8 L150.8,66.9 L146.0,66.1 L141.1,65.5 L136.2,65.0 L131.4,64.7 L126.5,64.6Z" fill="rgb(244,218,215)"/>
<path d="M126.5,50.8 L131.4,50.8 L136.2,50.9 L141.1,51.0 L146.0,51.2 L150.8,51.5 L155.7,51.9 L160.6,52.3 L165.4,52.7 L170.3,53.2 L175.2,53.8 L180.0,54.4 L184.9,55.1 L189.8,55.8 L194.6,56.6 L199.5,57.4 L204.4,58.3 L209.2,59.3 L214.1,60.3 L219.0,61.3 L223.8,62.4 L228.7,63.6 L233.6,64.7 L238.4,66.0 L243.3,67.3 L248.2,68.6 L253.0,70.0 L257.9,71.5 L262.8,73.0 L267.6,74.5 L272.5,76.1 L277.4,77.7 L282.2,79.4 L287.1,81.1 L292.0,82.9 L296.8,84.8 L301.7,86.8 L306.6,88.8 L311.4,90.9 L316.3,93.1 L321.2,95.3 L326.0,97.6 L330.9,99.9 L335.8,102.3 L340.6,104.7 L345.5,107.3 L350.4,109.9 L355.2,112.6 L360.1,115.4 L365.0,118.3 L369.8,121.2 L374.7,124.1 L379.6,127.1 L384.4,130.1 L389.3,133.2 L394.2,136.4 L399.1,139.6 L403.9,142.8 L408.8,146.2 L413.7,149.6 L418.5,153.0 L423.4,156.6 L428.3,160.2 L433.1,163.9 L438.0,167.6 L442.9,171.5 L447.7,175.3 L452.6,179.3 L457.5,183.4 L462.3,187.5 L467.2,191.7 L472.1,195.9 L476.9,200.3 L481.8,204.7 L486.7,209.2 L491.5,213.8 L496.4,218.4 L501.3,223.1 L506.1,227.9 L511.0,232.8 L515.9,237.8 L520.7,242.8 L525.6,247.9 L530.5,253.1 L535.3,258.4 L540.2,263.8 L545.1,269.3 L549.9,274.8 L554.8,280.4 L559.7,286.1 L564.5,291.9 L569.4,297.8 L574.3,303.8 L579.1,309.8 L584.0,316.0 L588.9,322.2 L593.7,328.5 L598.6,334.8 L603.5,341.1 L608.3,347.5 L613.2,354.0 L618.1,360.8 L622.9,367.6 L627.8,374.5 L632.7,381.7 L637.5,388.9 L642.4,396.3 L647.3,403.8 L652.1,411.3 L657.0,419.0 L659.5,419.1 L659.5,585.4 L657.0,585.0 L652.1,575.0 L647.3,565.1 L642.4,555.4 L637.5,545.8 L632.7,536.2 L627.8,526.9 L622.9,517.6 L618.1,508.5 L613.2,499.6 L608.3,491.0 L603.5,482.6 L598.6,474.3 L593.7,466.1 L588.9,458.1 L584.0,450.2 L579.1,442.4 L574.3,434.7 L569.4,427.1 L564.5,419.6 L559.7,412.2 L554.8,405.0 L549.9,397.8 L545.1,390.7 L540.2,383.8 L535.3,376.9 L530.5,370.1 L525.6,363.4 L520.7,356.8 L515.9,350.3 L511.0,343.9 L506.1,337.6 L501.3,331.3 L496.4,325.1 L491.5,319.1 L486.7,313.2 L481.8,307.3 L476.9,301.5 L472.1,295.9 L467.2,290.3 L462.3,284.7 L457.5,279.2 L452.6,273.8 L447.7,268.5 L442.9,263.3 L438.0,258.1 L433.1,253.0 L428.3,247.9 L423.4,242.9 L418.5,237.9 L413.7,233.0 L408.8,228.1 L403.9,223.3 L399.1,218.6 L394.2,213.9 L389.3,209.4 L384.4,204.8 L379.6,200.4 L374.7,196.0 L369.8,191.6 L365.0,187.4 L360.1,183.2 L355.2,179.0 L350.4,175.0 L345.5,170.9 L340.6,167.0 L335.8,163.1 L330.9,159.3 L326.0,155.5 L321.2,151.8 L316.3,148.2 L311.4,144.6 L306.6,141.1 L301.7,137.7 L296.8,134.3 L292.0,131.0 L287.1,127.7 L282.2,124.5 L277.4,121.4 L272.5,118.4 L267.6,115.4 L262.8,112.5 L257.9,109.6 L253.0,106.8 L248.2,104.1 L243.3,101.5 L238.4,98.9 L233.6,96.4 L228.7,94.0 L223.8,91.6 L219.0,89.3 L214.1,87.1 L209.2,85.0 L204.4,83.0 L199.5,81.0 L194.6,79.2 L189.8,77.4 L184.9,75.7 L180.0,74.1 L175.2,72.6 L170.3,71.3 L165.4,70.0 L160.6,68.8 L155.7,67.8 L150.8,66.9 L146.0,66.1 L141.1,65.5 L136.2,65.0 L131.4,64.7 L126.5,64.6Z" fill="rgb(243,219,215)"/>
<path d="M126.5,51.1 L131.4,51.2 L136.2,51.2 L141.1,51.4 L146.0,51.6 L150.8,51.9 L155.7,52.3 L160.6,52.7 L165.4,53.1 L170.3,53.7 L175.2,54.3 L180.0,54.9 L184.9,55.6 L189.8,56.4 L194.6,57.2 L199.5,58.0 L204.4,59.0 L209.2,59.9 L214.1,61.0 L219.0,62.0 L223.8,63.2 L228.7,64.3 L233.6,65.6 L238.4,66.8 L243.3,68.2 L248.2,69.5 L253.0,71.0 L257.9,72.4 L262.8,74.0 L267.6,75.6 L272.5,77.2 L277.4,78.8 L282.2,80.5 L287.1,82.3 L292.0,84.2 L296.8,86.1 L301.7,88.1 L306.6,90.2 L311.4,92.3 L316.3,94.5 L321.2,96.8 L326.0,99.1 L330.9,101.4 L335.8,103.8 L340.6,106.3 L345.5,108.9 L350.4,111.6 L355.2,114.3 L360.1,117.1 L365.0,120.0 L369.8,123.0 L374.7,126.0 L379.6,129.0 L384.4,132.1 L389.3,135.2 L394.2,138.3 L399.1,141.6 L403.9,144.9 L408.8,148.3 L413.7,151.7 L418.5,155.2 L423.4,158.8 L428.3,162.4 L433.1,166.2 L438.0,169.9 L442.9,173.8 L447.7,177.7 L452.6,181.7 L457.5,185.8 L462.3,190.0 L467.2,194.2 L472.1,198.5 L476.9,202.9 L481.8,207.3 L486.7,211.9 L491.5,216.5 L496.4,221.2 L501.3,225.9 L506.1,230.8 L511.0,235.7 L515.9,240.7 L520.7,245.7 L525.6,250.9 L530.5,256.1 L535.3,261.5 L540.2,266.9 L545.1,272.4 L549.9,278.0 L554.8,283.6 L559.7,289.4 L564.5,295.2 L569.4,301.1 L574.3,307.1 L579.1,313.2 L584.0,319.4 L588.9,325.7 L593.7,332.0 L598.6,338.3 L603.5,344.7 L608.3,351.2 L613.2,357.8 L618.1,364.5 L622.9,371.4 L627.8,378.5 L632.7,385.6 L637.5,392.9 L642.4,400.4 L647.3,407.9 L652.1,415.5 L657.0,423.3 L659.5,423.3 L659.5,585.4 L657.0,585.0 L652.1,575.0 L647.3,565.1 L642.4,555.4 L637.5,545.8 L632.7,536.2 L627.8,526.9 L622.9,517.6 L618.1,508.5 L613.2,499.6 L608.3,491.0 L603.5,482.6 L598.6,474.3 L593.7,466.1 L588.9,458.1 L584.0,450.2 L579.1,442.4 L574.3,434.7 L569.4,427.1 L564.5,419.6 L559.7,412.2 L554.8,405.0 L549.9,397.8 L545.1,390.7 L540.2,383.8 L535.3,376.9 L530.5,370.1 L525.6,363.4 L520.7,356.8 L515.9,350.3 L511.0,343.9 L506.1,337.6 L501.3,331.3 L496.4,325.1 L491.5,319.1 L486.7,313.2 L481.8,307.3 L476.9,301.5 L472.1,295.9 L467.2,290.3 L462.3,284.7 L457.5,279.2 L452.6,273.8 L447.7,268.5 L442.9,263.3 L438.0,258.1 L433.1,253.0 L428.3,247.9 L423.4,242.9 L418.5,237.9 L413.7,233.0 L408.8,228.1 L403.9,223.3 L399.1,218.6 L394.2,213.9 L389.3,209.4 L384.4,204.8 L379.6,200.4 L374.7,196.0 L369.8,191.6 L365.0,187.4 L360.1,183.2 L355.2,179.0 L350.4,175.0 L345.5,170.9 L340.6,167.0 L335.8,163.1 L330.9,159.3 L326.0,155.5 L321.2,151.8 L316.3,148.2 L311.4,144.6 L306.6,141.1 L301.7,137.7 L296.8,134.3 L292.0,131.0 L287.1,127.7 L282.2,124.5 L277.4,121.4 L272.5,118.4 L267.6,115.4 L262.8,112.5 L257.9,109.6 L253.0,106.8 L248.2,104.1 L243.3,101.5 L238.4,98.9 L233.6,96.4 L228.7,94.0 L223.8,91.6 L219.0,89.3 L214.1,87.1 L209.2,85.0 L204.4,83.0 L199.5,81.0 L194.6,79.2 L189.8,77.4 L184.9,75.7 L180.0,74.1 L175.2,72.6 L170.3,71.3 L165.4,70.0 L160.6,68.8 L155.7,67.8 L150.8,66.9 L146.0,66.1 L141.1,65.5 L136.2,65.0 L131.4,64.7 L126.5,64.6Z" fill="rgb(242,219,215)"/>
<path d="M126.5,51.5 L131.4,51.5 L136.2,51.6 L141.1,51.8 L146.0,52.0 L150.8,52.3 L155.7,52.7 L160.6,53.1 L165.4,53.6 L170.3,54.1 L175.2,54.7 L180.0,55.4 L184.9,56.1 L189.8,56.9 L194.6,57.7 L199.5,58.6 L204.4,59.6 L209.2,60.6 L214.1,61.7 L219.0,62.8 L223.8,63.9 L228.7,65.1 L233.6,66.4 L238.4,67.7 L243.3,69.0 L248.2,70.4 L253.0,71.9 L257.9,73.4 L262.8,75.0 L267.6,76.6 L272.5,78.2 L277.4,79.9 L282.2,81.7 L287.1,83.5 L292.0,85.4 L296.8,87.4 L301.7,89.4 L306.6,91.5 L311.4,93.7 L316.3,95.9 L321.2,98.2 L326.0,100.5 L330.9,102.9 L335.8,105.4 L340.6,107.9 L345.5,110.5 L350.4,113.2 L355.2,116.0 L360.1,118.9 L365.0,121.8 L369.8,124.8 L374.7,127.8 L379.6,130.9 L384.4,134.0 L389.3,137.1 L394.2,140.3 L399.1,143.6 L403.9,146.9 L408.8,150.4 L413.7,153.8 L418.5,157.4 L423.4,161.0 L428.3,164.7 L433.1,168.4 L438.0,172.3 L442.9,176.2 L447.7,180.1 L452.6,184.2 L457.5,188.3 L462.3,192.5 L467.2,196.7 L472.1,201.1 L476.9,205.5 L481.8,210.0 L486.7,214.5 L491.5,219.2 L496.4,223.9 L501.3,228.7 L506.1,233.6 L511.0,238.5 L515.9,243.6 L520.7,248.7 L525.6,253.9 L530.5,259.1 L535.3,264.5 L540.2,270.0 L545.1,275.5 L549.9,281.1 L554.8,286.8 L559.7,292.6 L564.5,298.5 L569.4,304.4 L574.3,310.5 L579.1,316.6 L584.0,322.8 L588.9,329.2 L593.7,335.5 L598.6,341.9 L603.5,348.3 L608.3,354.8 L613.2,361.5 L618.1,368.3 L622.9,375.3 L627.8,382.4 L632.7,389.6 L637.5,397.0 L642.4,404.4 L647.3,412.0 L652.1,419.7 L657.0,427.5 L659.5,427.6 L659.5,585.4 L657.0,585.0 L652.1,575.0 L647.3,565.1 L642.4,555.4 L637.5,545.8 L632.7,536.2 L627.8,526.9 L622.9,517.6 L618.1,508.5 L613.2,499.6 L608.3,491.0 L603.5,482.6 L598.6,474.3 L593.7,466.1 L588.9,458.1 L584.0,450.2 L579.1,442.4 L574.3,434.7 L569.4,427.1 L564.5,419.6 L559.7,412.2 L554.8,405.0 L549.9,397.8 L545.1,390.7 L540.2,383.8 L535.3,376.9 L530.5,370.1 L525.6,363.4 L520.7,356.8 L515.9,350.3 L511.0,343.9 L506.1,337.6 L501.3,331.3 L496.4,325.1 L491.5,319.1 L486.7,313.2 L481.8,307.3 L476.9,301.5 L472.1,295.9 L467.2,290.3 L462.3,284.7 L457.5,279.2 L452.6,273.8 L447.7,268.5 L442.9,263.3 L438.0,258.1 L433.1,253.0 L428.3,247.9 L423.4,242.9 L418.5,237.9 L413.7,233.0 L408.8,228.1 L403.9,223.3 L399.1,218.6 L394.2,213.9 L389.3,209.4 L384.4,204.8 L379.6,200.4 L374.7,196.0 L369.8,191.6 L365.0,187.4 L360.1,183.2 L355.2,179.0 L350.4,175.0 L345.5,170.9 L340.6,167.0 L335.8,163.1 L330.9,159.3 L326.0,155.5 L321.2,151.8 L316.3,148.2 L311.4,144.6 L306.6,141.1 L301.7,137.7 L296.8,134.3 L292.0,131.0 L287.1,127.7 L282.2,124.5 L277.4,121.4 L272.5,118.4 L267.6,115.4 L262.8,112.5 L257.9,109.6 L253.0,106.8 L248.2,104.1 L243.3,101.5 L238.4,98.9 L233.6,96.4 L228.7,94.0 L223.8,91.6 L219.0,89.3 L214.1,87.1 L209.2,85.0 L204.4,83.0 L199.5,81.0 L194.6,79.2 L189.8,77.4 L184.9,75.7 L180.0,74.1 L175.2,72.6 L170.3,71.3 L165.4,70.0 L160.6,68.8 L155.7,67.8 L150.8,66.9 L146.0,66.1 L141.1,65.5 L136.2,65.0 L131.4,64.7 L126.5,64.6Z" fill="rgb(241,219,216)"/>
<path d="M126.5,51.8 L131.4,51.9 L136.2,52.0 L141.1,52.1 L146.0,52.4 L150.8,52.7 L155.7,53.1 L160.6,53.5 L165.4,54.0 L170.3,54.6 L175.2,55.2 L180.0,55.9 L184.9,56.7 L189.8,57.5 L194.6,58.3 L199.5,59.2 L204.4,60.2 L209.2,61.3 L214.1,62.3 L219.0,63.5 L223.8,64.7 L228.7,65.9 L233.6,67.2 L238.4,68.5 L243.3,69.9 L248.2,71.4 L253.0,72.9 L257.9,74.4 L262.8,76.0 L267.6,77.6 L272.5,79.3 L277.4,81.1 L282.2,82.9 L287.1,84.7 L292.0,86.6 L296.8,88.6 L301.7,90.7 L306.6,92.9 L311.4,95.1 L316.3,97.3 L321.2,99.7 L326.0,102.0 L330.9,104.5 L335.8,107.0 L340.6,109.5 L345.5,112.2 L350.4,114.9 L355.2,117.7 L360.1,120.6 L365.0,123.6 L369.8,126.6 L374.7,129.6 L379.6,132.7 L384.4,135.9 L389.3,139.1 L394.2,142.3 L399.1,145.6 L403.9,149.0 L408.8,152.5 L413.7,156.0 L418.5,159.6 L423.4,163.2 L428.3,166.9 L433.1,170.7 L438.0,174.6 L442.9,178.5 L447.7,182.5 L452.6,186.6 L457.5,190.7 L462.3,195.0 L467.2,199.3 L472.1,203.6 L476.9,208.1 L481.8,212.6 L486.7,217.2 L491.5,221.9 L496.4,226.6 L501.3,231.5 L506.1,236.4 L511.0,241.4 L515.9,246.4 L520.7,251.6 L525.6,256.8 L530.5,262.1 L535.3,267.5 L540.2,273.0 L545.1,278.6 L549.9,284.3 L554.8,290.0 L559.7,295.8 L564.5,301.7 L569.4,307.7 L574.3,313.8 L579.1,320.0 L584.0,326.3 L588.9,332.6 L593.7,339.1 L598.6,345.5 L603.5,352.0 L608.3,358.5 L613.2,365.2 L618.1,372.1 L622.9,379.1 L627.8,386.3 L632.7,393.5 L637.5,401.0 L642.4,408.5 L647.3,416.2 L652.1,423.9 L657.0,431.8 L659.5,431.9 L659.5,585.4 L657.0,585.0 L652.1,575.0 L647.3,565.1 L642.4,555.4 L637.5,545.8 L632.7,536.2 L627.8,526.9 L622.9,517.6 L618.1,508.5 L613.2,499.6 L608.3,491.0 L603.5,482.6 L598.6,474.3 L593.7,466.1 L588.9,458.1 L584.0,450.2 L579.1,442.4 L574.3,434.7 L569.4,427.1 L564.5,419.6 L559.7,412.2 L554.8,405.0 L549.9,397.8 L545.1,390.7 L540.2,383.8 L535.3,376.9 L530.5,370.1 L525.6,363.4 L520.7,356.8 L515.9,350.3 L511.0,343.9 L506.1,337.6 L501.3,331.3 L496.4,325.1 L491.5,319.1 L486.7,313.2 L481.8,307.3 L476.9,301.5 L472.1,295.9 L467.2,290.3 L462.3,284.7 L457.5,279.2 L452.6,273.8 L447.7,268.5 L442.9,263.3 L438.0,258.1 L433.1,253.0 L428.3,247.9 L423.4,242.9 L418.5,237.9 L413.7,233.0 L408.8,228.1 L403.9,223.3 L399.1,218.6 L394.2,213.9 L389.3,209.4 L384.4,204.8 L379.6,200.4 L374.7,196.0 L369.8,191.6 L365.0,187.4 L360.1,183.2 L355.2,179.0 L350.4,175.0 L345.5,170.9 L340.6,167.0 L335.8,163.1 L330.9,159.3 L326.0,155.5 L321.2,151.8 L316.3,148.2 L311.4,144.6 L306.6,141.1 L301.7,137.7 L296.8,134.3 L292.0,131.0 L287.1,127.7 L282.2,124.5 L277.4,121.4 L272.5,118.4 L267.6,115.4 L262.8,112.5 L257.9,109.6 L253.0,106.8 L248.2,104.1 L243.3,101.5 L238.4,98.9 L233.6,96.4 L228.7,94.0 L223.8,91.6 L219.0,89.3 L214.1,87.1 L209.2,85.0 L204.4,83.0 L199.5,81.0 L194.6,79.2 L189.8,77.4 L184.9,75.7 L180.0,74.1 L175.2,72.6 L170.3,71.3 L165.4,70.0 L160.6,68.8 L155.7,67.8 L150.8,66.9 L146.0,66.1 L141.1,65.5 L136.2,65.0 L131.4,64.7 L126.5,64.6Z" fill="rgb(240,219,216)"/>
<path d="M126.5,52.2 L131.4,52.2 L136.2,52.3 L141.1,52.5 L146.0,52.8 L150.8,53.1 L155.7,53.5 L160.6,54.0 L165.4,54.5 L170.3,55.1 L175.2,55.7 L180.0,56.4 L184.9,57.2 L189.8,58.0 L194.6,58.9 L199.5,59.9 L204.4,60.9 L209.2,61.9 L214.1,63.0 L219.0,64.2 L223.8,65.4 L228.7,66.7 L233.6,68.0 L238.4,69.4 L243.3,70.8 L248.2,72.3 L253.0,73.8 L257.9,75.4 L262.8,77.0 L267.6,78.7 L272.5,80.4 L277.4,82.2 L282.2,84.0 L287.1,85.9 L292.0,87.9 L296.8,89.9 L301.7,92.0 L306.6,94.2 L311.4,96.4 L316.3,98.7 L321.2,101.1 L326.0,103.5 L330.9,106.0 L335.8,108.5 L340.6,111.1 L345.5,113.8 L350.4,116.6 L355.2,119.4 L360.1,122.3 L365.0,125.3 L369.8,128.4 L374.7,131.5 L379.6,134.6 L384.4,137.8 L389.3,141.0 L394.2,144.3 L399.1,147.7 L403.9,151.1 L408.8,154.6 L413.7,158.1 L418.5,161.7 L423.4,165.4 L428.3,169.2 L433.1,173.0 L438.0,176.9 L442.9,180.9 L447.7,184.9 L452.6,189.0 L457.5,193.2 L462.3,197.5 L467.2,201.8 L472.1,206.2 L476.9,210.7 L481.8,215.2 L486.7,219.9 L491.5,224.6 L496.4,229.4 L501.3,234.2 L506.1,239.2 L511.0,244.2 L515.9,249.3 L520.7,254.5 L525.6,259.8 L530.5,265.1 L535.3,270.6 L540.2,276.1 L545.1,281.7 L549.9,287.4 L554.8,293.2 L559.7,299.1 L564.5,305.0 L569.4,311.1 L574.3,317.2 L579.1,323.4 L584.0,329.7 L588.9,336.1 L593.7,342.6 L598.6,349.1 L603.5,355.6 L608.3,362.2 L613.2,369.0 L618.1,375.9 L622.9,383.0 L627.8,390.2 L632.7,397.5 L637.5,405.0 L642.4,412.6 L647.3,420.3 L652.1,428.1 L657.0,436.0 L659.5,436.1 L659.5,585.4 L657.0,585.0 L652.1,575.0 L647.3,565.1 L642.4,555.4 L637.5,545.8 L632.7,536.2 L627.8,526.9 L622.9,517.6 L618.1,508.5 L613.2,499.6 L608.3,491.0 L603.5,482.6 L598.6,474.3 L593.7,466.1 L588.9,458.1 L584.0,450.2 L579.1,442.4 L574.3,434.7 L569.4,427.1 L564.5,419.6 L559.7,412.2 L554.8,405.0 L549.9,397.8 L545.1,390.7 L540.2,383.8 L535.3,376.9 L530.5,370.1 L525.6,363.4 L520.7,356.8 L515.9,350.3 L511.0,343.9 L506.1,337.6 L501.3,331.3 L496.4,325.1 L491.5,319.1 L486.7,313.2 L481.8,307.3 L476.9,301.5 L472.1,295.9 L467.2,290.3 L462.3,284.7 L457.5,279.2 L452.6,273.8 L447.7,268.5 L442.9,263.3 L438.0,258.1 L433.1,253.0 L428.3,247.9 L423.4,242.9 L418.5,237.9 L413.7,233.0 L408.8,228.1 L403.9,223.3 L399.1,218.6 L394.2,213.9 L389.3,209.4 L384.4,204.8 L379.6,200.4 L374.7,196.0 L369.8,191.6 L365.0,187.4 L360.1,183.2 L355.2,179.0 L350.4,175.0 L345.5,170.9 L340.6,167.0 L335.8,163.1 L330.9,159.3 L326.0,155.5 L321.2,151.8 L316.3,148.2 L311.4,144.6 L306.6,141.1 L301.7,137.7 L296.8,134.3 L292.0,131.0 L287.1,127.7 L282.2,124.5 L277.4,121.4 L272.5,118.4 L267.6,115.4 L262.8,112.5 L257.9,109.6 L253.0,106.8 L248.2,104.1 L243.3,101.5 L238.4,98.9 L233.6,96.4 L228.7,94.0 L223.8,91.6 L219.0,89.3 L214.1,87.1 L209.2,85.0 L204.4,83.0 L199.5,81.0 L194.6,79.2 L189.8,77.4 L184.9,75.7 L180.0,74.1 L175.2,72.6 L170.3,71.3 L165.4,70.0 L160.6,68.8 L155.7,67.8 L150.8,66.9 L146.0,66.1 L141.1,65.5 L136.2,65.0 L131.4,64.7 L126.5,64.6Z" fill="rgb(239,219,217)"/>
<path d="M126.5,52.6 L131.4,52.6 L136.2,52.7 L141.1,52.9 L146.0,53.2 L150.8,53.5 L155.7,53.9 L160.6,54.4 L165.4,54.9 L170.3,55.5 L175.2,56.2 L180.0,56.9 L184.9,57.7 L189.8,58.6 L194.6,59.5 L199.5,60.5 L204.4,61.5 L209.2,62.6 L214.1,63.7 L219.0,64.9 L223.8,66.2 L228.7,67.5 L233.6,68.8 L238.4,70.2 L243.3,71.7 L248.2,73.2 L253.0,74.7 L257.9,76.4 L262.8,78.0 L267.6,79.7 L272.5,81.5 L277.4,83.3 L282.2,85.2 L287.1,87.1 L292.0,89.1 L296.8,91.2 L301.7,93.3 L306.6,95.5 L311.4,97.8 L316.3,100.2 L321.2,102.5 L326.0,105.0 L330.9,107.5 L335.8,110.1 L340.6,112.7 L345.5,115.4 L350.4,118.2 L355.2,121.1 L360.1,124.1 L365.0,127.1 L369.8,130.2 L374.7,133.3 L379.6,136.5 L384.4,139.7 L389.3,143.0 L394.2,146.3 L399.1,149.7 L403.9,153.1 L408.8,156.7 L413.7,160.2 L418.5,163.9 L423.4,167.6 L428.3,171.4 L433.1,175.3 L438.0,179.2 L442.9,183.2 L447.7,187.3 L452.6,191.4 L457.5,195.6 L462.3,199.9 L467.2,204.3 L472.1,208.8 L476.9,213.3 L481.8,217.9 L486.7,222.5 L491.5,227.3 L496.4,232.1 L501.3,237.0 L506.1,242.0 L511.0,247.1 L515.9,252.2 L520.7,257.4 L525.6,262.7 L530.5,268.1 L535.3,273.6 L540.2,279.2 L545.1,284.9 L549.9,290.6 L554.8,296.4 L559.7,302.3 L564.5,308.3 L569.4,314.4 L574.3,320.5 L579.1,326.8 L584.0,333.2 L588.9,339.6 L593.7,346.1 L598.6,352.6 L603.5,359.2 L608.3,365.9 L613.2,372.7 L618.1,379.7 L622.9,386.8 L627.8,394.1 L632.7,401.5 L637.5,409.0 L642.4,416.7 L647.3,424.4 L652.1,432.3 L657.0,440.3 L659.5,440.4 L659.5,585.4 L657.0,585.0 L652.1,575.0 L647.3,565.1 L642.4,555.4 L637.5,545.8 L632.7,536.2 L627.8,526.9 L622.9,517.6 L618.1,508.5 L613.2,499.6 L608.3,491.0 L603.5,482.6 L598.6,474.3 L593.7,466.1 L588.9,458.1 L584.0,450.2 L579.1,442.4 L574.3,434.7 L569.4,427.1 L564.5,419.6 L559.7,412.2 L554.8,405.0 L549.9,397.8 L545.1,390.7 L540.2,383.8 L535.3,376.9 L530.5,370.1 L525.6,363.4 L520.7,356.8 L515.9,350.3 L511.0,343.9 L506.1,337.6 L501.3,331.3 L496.4,325.1 L491.5,319.1 L486.7,313.2 L481.8,307.3 L476.9,301.5 L472.1,295.9 L467.2,290.3 L462.3,284.7 L457.5,279.2 L452.6,273.8 L447.7,268.5 L442.9,263.3 L438.0,258.1 L433.1,253.0 L428.3,247.9 L423.4,242.9 L418.5,237.9 L413.7,233.0 L408.8,228.1 L403.9,223.3 L399.1,218.6 L394.2,213.9 L389.3,209.4 L384.4,204.8 L379.6,200.4 L374.7,196.0 L369.8,191.6 L365.0,187.4 L360.1,183.2 L355.2,179.0 L350.4,175.0 L345.5,170.9 L340.6,167.0 L335.8,163.1 L330.9,159.3 L326.0,155.5 L321.2,151.8 L316.3,148.2 L311.4,144.6 L306.6,141.1 L301.7,137.7 L296.8,134.3 L292.0,131.0 L287.1,127.7 L282.2,124.5 L277.4,121.4 L272.5,118.4 L267.6,115.4 L262.8,112.5 L257.9,109.6 L253.0,106.8 L248.2,104.1 L243.3,101.5 L238.4,98.9 L233.6,96.4 L228.7,94.0 L223.8,91.6 L219.0,89.3 L214.1,87.1 L209.2,85.0 L204.4,83.0 L199.5,81.0 L194.6,79.2 L189.8,77.4 L184.9,75.7 L180.0,74.1 L175.2,72.6 L170.3,71.3 L165.4,70.0 L160.6,68.8 L155.7,67.8 L150.8,66.9 L146.0,66.1 L141.1,65.5 L136.2,65.0 L131.4,64.7 L126.5,64.6Z" fill="rgb(238,219,217)"/>
<path d="M126.5,52.9 L131.4,52.9 L136.2,53.1 L141.1,53.3 L146.0,53.5 L150.8,53.9 L155.7,54.3 L160.6,54.8 L165.4,55.4 L170.3,56.0 L175.2,56.7 L180.0,57.4 L184.9,58.2 L189.8,59.1 L194.6,60.1 L199.5,61.1 L204.4,62.1 L209.2,63.2 L214.1,64.4 L219.0,65.6 L223.8,66.9 L228.7,68.2 L233.6,69.6 L238.4,71.0 L243.3,72.5 L248.2,74.1 L253.0,75.7 L257.9,77.3 L262.8,79.0 L267.6,80.8 L272.5,82.6 L277.4,84.4 L282.2,86.3 L287.1,88.3 L292.0,90.3 L296.8,92.4 L301.7,94.6 L306.6,96.9 L311.4,99.2 L316.3,101.6 L321.2,104.0 L326.0,106.5 L330.9,109.0 L335.8,111.6 L340.6,114.3 L345.5,117.1 L350.4,119.9 L355.2,122.8 L360.1,125.8 L365.0,128.9 L369.8,132.0 L374.7,135.2 L379.6,138.4 L384.4,141.6 L389.3,144.9 L394.2,148.3 L399.1,151.7 L403.9,155.2 L408.8,158.8 L413.7,162.4 L418.5,166.1 L423.4,169.9 L428.3,173.7 L433.1,177.6 L438.0,181.5 L442.9,185.6 L447.7,189.7 L452.6,193.9 L457.5,198.1 L462.3,202.4 L467.2,206.8 L472.1,211.3 L476.9,215.9 L481.8,220.5 L486.7,225.2 L491.5,230.0 L496.4,234.8 L501.3,239.8 L506.1,244.8 L511.0,249.9 L515.9,255.1 L520.7,260.4 L525.6,265.7 L530.5,271.1 L535.3,276.7 L540.2,282.3 L545.1,288.0 L549.9,293.7 L554.8,299.6 L559.7,305.5 L564.5,311.6 L569.4,317.7 L574.3,323.9 L579.1,330.2 L584.0,336.6 L588.9,343.1 L593.7,349.7 L598.6,356.2 L603.5,362.8 L608.3,369.6 L613.2,376.4 L618.1,383.5 L622.9,390.7 L627.8,398.0 L632.7,405.4 L637.5,413.0 L642.4,420.8 L647.3,428.6 L652.1,436.5 L657.0,444.5 L659.5,444.7 L659.5,585.4 L657.0,585.0 L652.1,575.0 L647.3,565.1 L642.4,555.4 L637.5,545.8 L632.7,536.2 L627.8,526.9 L622.9,517.6 L618.1,508.5 L613.2,499.6 L608.3,491.0 L603.5,482.6 L598.6,474.3 L593.7,466.1 L588.9,458.1 L584.0,450.2 L579.1,442.4 L574.3,434.7 L569.4,427.1 L564.5,419.6 L559.7,412.2 L554.8,405.0 L549.9,397.8 L545.1,390.7 L540.2,383.8 L535.3,376.9 L530.5,370.1 L525.6,363.4 L520.7,356.8 L515.9,350.3 L511.0,343.9 L506.1,337.6 L501.3,331.3 L496.4,325.1 L491.5,319.1 L486.7,313.2 L481.8,307.3 L476.9,301.5 L472.1,295.9 L467.2,290.3 L462.3,284.7 L457.5,279.2 L452.6,273.8 L447.7,268.5 L442.9,263.3 L438.0,258.1 L433.1,253.0 L428.3,247.9 L423.4,242.9 L418.5,237.9 L413.7,233.0 L408.8,228.1 L403.9,223.3 L399.1,218.6 L394.2,213.9 L389.3,209.4 L384.4,204.8 L379.6,200.4 L374.7,196.0 L369.8,191.6 L365.0,187.4 L360.1,183.2 L355.2,179.0 L350.4,175.0 L345.5,170.9 L340.6,167.0 L335.8,163.1 L330.9,159.3 L326.0,155.5 L321.2,151.8 L316.3,148.2 L311.4,144.6 L306.6,141.1 L301.7,137.7 L296.8,134.3 L292.0,131.0 L287.1,127.7 L282.2,124.5 L277.4,121.4 L272.5,118.4 L267.6,115.4 L262.8,112.5 L257.9,109.6 L253.0,106.8 L248.2,104.1 L243.3,101.5 L238.4,98.9 L233.6,96.4 L228.7,94.0 L223.8,91.6 L219.0,89.3 L214.1,87.1 L209.2,85.0 L204.4,83.0 L199.5,81.0 L194.6,79.2 L189.8,77.4 L184.9,75.7 L180.0,74.1 L175.2,72.6 L170.3,71.3 L165.4,70.0 L160.6,68.8 L155.7,67.8 L150.8,66.9 L146.0,66.1 L141.1,65.5 L136.2,65.0 L131.4,64.7 L126.5,64.6Z" fill="rgb(237,220,217)"/>
<path d="M126.5,53.3 L131.4,53.3 L136.2,53.4 L141.1,53.6 L146.0,53.9 L150.8,54.3 L155.7,54.7 L160.6,55.2 L165.4,55.8 L170.3,56.5 L175.2,57.2 L180.0,57.9 L184.9,58.8 L189.8,59.7 L194.6,60.6 L199.5,61.7 L204.4,62.7 L209.2,63.9 L214.1,65.1 L219.0,66.3 L223.8,67.7 L228.7,69.0 L233.6,70.4 L238.4,71.9 L243.3,73.4 L248.2,75.0 L253.0,76.6 L257.9,78.3 L262.8,80.1 L267.6,81.8 L272.5,83.7 L277.4,85.6 L282.2,87.5 L287.1,89.5 L292.0,91.6 L296.8,93.7 L301.7,95.9 L306.6,98.2 L311.4,100.6 L316.3,103.0 L321.2,105.4 L326.0,108.0 L330.9,110.6 L335.8,113.2 L340.6,115.9 L345.5,118.7 L350.4,121.6 L355.2,124.5 L360.1,127.6 L365.0,130.7 L369.8,133.8 L374.7,137.0 L379.6,140.3 L384.4,143.5 L389.3,146.9 L394.2,150.3 L399.1,153.7 L403.9,157.3 L408.8,160.9 L413.7,164.5 L418.5,168.3 L423.4,172.1 L428.3,175.9 L433.1,179.9 L438.0,183.9 L442.9,187.9 L447.7,192.1 L452.6,196.3 L457.5,200.6 L462.3,204.9 L467.2,209.4 L472.1,213.9 L476.9,218.5 L481.8,223.1 L486.7,227.9 L491.5,232.7 L496.4,237.6 L501.3,242.6 L506.1,247.6 L511.0,252.8 L515.9,258.0 L520.7,263.3 L525.6,268.7 L530.5,274.1 L535.3,279.7 L540.2,285.4 L545.1,291.1 L549.9,296.9 L554.8,302.8 L559.7,308.8 L564.5,314.8 L569.4,321.0 L574.3,327.3 L579.1,333.6 L584.0,340.0 L588.9,346.6 L593.7,353.2 L598.6,359.8 L603.5,366.5 L608.3,373.2 L613.2,380.2 L618.1,387.3 L622.9,394.5 L627.8,401.9 L632.7,409.4 L637.5,417.1 L642.4,424.8 L647.3,432.7 L652.1,440.7 L657.0,448.8 L659.5,448.9 L659.5,585.4 L657.0,585.0 L652.1,575.0 L647.3,565.1 L642.4,555.4 L637.5,545.8 L632.7,536.2 L627.8,526.9 L622.9,517.6 L618.1,508.5 L613.2,499.6 L608.3,491.0 L603.5,482.6 L598.6,474.3 L593.7,466.1 L588.9,458.1 L584.0,450.2 L579.1,442.4 L574.3,434.7 L569.4,427.1 L564.5,419.6 L559.7,412.2 L554.8,405.0 L549.9,397.8 L545.1,390.7 L540.2,383.8 L535.3,376.9 L530.5,370.1 L525.6,363.4 L520.7,356.8 L515.9,350.3 L511.0,343.9 L506.1,337.6 L501.3,331.3 L496.4,325.1 L491.5,319.1 L486.7,313.2 L481.8,307.3 L476.9,301.5 L472.1,295.9 L467.2,290.3 L462.3,284.7 L457.5,279.2 L452.6,273.8 L447.7,268.5 L442.9,263.3 L438.0,258.1 L433.1,253.0 L428.3,247.9 L423.4,242.9 L418.5,237.9 L413.7,233.0 L408.8,228.1 L403.9,223.3 L399.1,218.6 L394.2,213.9 L389.3,209.4 L384.4,204.8 L379.6,200.4 L374.7,196.0 L369.8,191.6 L365.0,187.4 L360.1,183.2 L355.2,179.0 L350.4,175.0 L345.5,170.9 L340.6,167.0 L335.8,163.1 L330.9,159.3 L326.0,155.5 L321.2,151.8 L316.3,148.2 L311.4,144.6 L306.6,141.1 L301.7,137.7 L296.8,134.3 L292.0,131.0 L287.1,127.7 L282.2,124.5 L277.4,121.4 L272.5,118.4 L267.6,115.4 L262.8,112.5 L257.9,109.6 L253.0,106.8 L248.2,104.1 L243.3,101.5 L238.4,98.9 L233.6,96.4 L228.7,94.0 L223.8,91.6 L219.0,89.3 L214.1,87.1 L209.2,85.0 L204.4,83.0 L199.5,81.0 L194.6,79.2 L189.8,77.4 L184.9,75.7 L180.0,74.1 L175.2,72.6 L170.3,71.3 L165.4,70.0 L160.6,68.8 L155.7,67.8 L150.8,66.9 L146.0,66.1 L141.1,65.5 L136.2,65.0 L131.4,64.7 L126.5,64.6Z" fill="rgb(237,220,218)"/>
<path d="M126.5,53.6 L131.4,53.7 L136.2,53.8 L141.1,54.0 L146.0,54.3 L150.8,54.7 L155.7,55.1 L160.6,55.7 L165.4,56.2 L170.3,56.9 L175.2,57.6 L180.0,58.4 L184.9,59.3 L189.8,60.2 L194.6,61.2 L199.5,62.3 L204.4,63.4 L209.2,64.6 L214.1,65.8 L219.0,67.1 L223.8,68.4 L228.7,69.8 L233.6,71.2 L238.4,72.7 L243.3,74.3 L248.2,75.9 L253.0,77.6 L257.9,79.3 L262.8,81.1 L267.6,82.9 L272.5,84.8 L277.4,86.7 L282.2,88.6 L287.1,90.7 L292.0,92.8 L296.8,95.0 L301.7,97.2 L306.6,99.6 L311.4,102.0 L316.3,104.4 L321.2,106.9 L326.0,109.5 L330.9,112.1 L335.8,114.8 L340.6,117.5 L345.5,120.3 L350.4,123.2 L355.2,126.2 L360.1,129.3 L365.0,132.4 L369.8,135.6 L374.7,138.9 L379.6,142.1 L384.4,145.5 L389.3,148.8 L394.2,152.3 L399.1,155.8 L403.9,159.3 L408.8,163.0 L413.7,166.7 L418.5,170.4 L423.4,174.3 L428.3,178.2 L433.1,182.2 L438.0,186.2 L442.9,190.3 L447.7,194.5 L452.6,198.7 L457.5,203.0 L462.3,207.4 L467.2,211.9 L472.1,216.4 L476.9,221.1 L481.8,225.7 L486.7,230.5 L491.5,235.4 L496.4,240.3 L501.3,245.3 L506.1,250.4 L511.0,255.6 L515.9,260.9 L520.7,266.2 L525.6,271.6 L530.5,277.1 L535.3,282.7 L540.2,288.4 L545.1,294.2 L549.9,300.1 L554.8,306.0 L559.7,312.0 L564.5,318.1 L569.4,324.3 L574.3,330.6 L579.1,337.0 L584.0,343.5 L588.9,350.1 L593.7,356.7 L598.6,363.4 L603.5,370.1 L608.3,376.9 L613.2,383.9 L618.1,391.1 L622.9,398.4 L627.8,405.8 L632.7,413.4 L637.5,421.1 L642.4,428.9 L647.3,436.9 L652.1,444.9 L657.0,453.1 L659.5,453.2 L659.5,585.4 L657.0,585.0 L652.1,575.0 L647.3,565.1 L642.4,555.4 L637.5,545.8 L632.7,536.2 L627.8,526.9 L622.9,517.6 L618.1,508.5 L613.2,499.6 L608.3,491.0 L603.5,482.6 L598.6,474.3 L593.7,466.1 L588.9,458.1 L584.0,450.2 L579.1,442.4 L574.3,434.7 L569.4,427.1 L564.5,419.6 L559.7,412.2 L554.8,405.0 L549.9,397.8 L545.1,390.7 L540.2,383.8 L535.3,376.9 L530.5,370.1 L525.6,363.4 L520.7,356.8 L515.9,350.3 L511.0,343.9 L506.1,337.6 L501.3,331.3 L496.4,325.1 L491.5,319.1 L486.7,313.2 L481.8,307.3 L476.9,301.5 L472.1,295.9 L467.2,290.3 L462.3,284.7 L457.5,279.2 L452.6,273.8 L447.7,268.5 L442.9,263.3 L438.0,258.1 L433.1,253.0 L428.3,247.9 L423.4,242.9 L418.5,237.9 L413.7,233.0 L408.8,228.1 L403.9,223.3 L399.1,218.6 L394.2,213.9 L389.3,209.4 L384.4,204.8 L379.6,200.4 L374.7,196.0 L369.8,191.6 L365.0,187.4 L360.1,183.2 L355.2,179.0 L350.4,175.0 L345.5,170.9 L340.6,167.0 L335.8,163.1 L330.9,159.3 L326.0,155.5 L321.2,151.8 L316.3,148.2 L311.4,144.6 L306.6,141.1 L301.7,137.7 L296.8,134.3 L292.0,131.0 L287.1,127.7 L282.2,124.5 L277.4,121.4 L272.5,118.4 L267.6,115.4 L262.8,112.5 L257.9,109.6 L253.0,106.8 L248.2,104.1 L243.3,101.5 L238.4,98.9 L233.6,96.4 L228.7,94.0 L223.8,91.6 L219.0,89.3 L214.1,87.1 L209.2,85.0 L204.4,83.0 L199.5,81.0 L194.6,79.2 L189.8,77.4 L184.9,75.7 L180.0,74.1 L175.2,72.6 L170.3,71.3 L165.4,70.0 L160.6,68.8 L155.7,67.8 L150.8,66.9 L146.0,66.1 L141.1,65.5 L136.2,65.0 L131.4,64.7 L126.5,64.6Z" fill="rgb(236,220,218)"/>
<path d="M126.5,54.0 L131.4,54.0 L136.2,54.1 L141.1,54.4 L146.0,54.7 L150.8,55.1 L155.7,55.5 L160.6,56.1 L165.4,56.7 L170.3,57.4 L175.2,58.1 L180.0,59.0 L184.9,59.8 L189.8,60.8 L194.6,61.8 L199.5,62.9 L204.4,64.0 L209.2,65.2 L214.1,66.5 L219.0,67.8 L223.8,69.1 L228.7,70.6 L233.6,72.0 L238.4,73.6 L243.3,75.2 L248.2,76.8 L253.0,78.5 L257.9,80.3 L262.8,82.1 L267.6,83.9 L272.5,85.8 L277.4,87.8 L282.2,89.8 L287.1,91.9 L292.0,94.0 L296.8,96.2 L301.7,98.5 L306.6,100.9 L311.4,103.3 L316.3,105.8 L321.2,108.3 L326.0,110.9 L330.9,113.6 L335.8,116.3 L340.6,119.1 L345.5,122.0 L350.4,124.9 L355.2,127.9 L360.1,131.0 L365.0,134.2 L369.8,137.4 L374.7,140.7 L379.6,144.0 L384.4,147.4 L389.3,150.8 L394.2,154.3 L399.1,157.8 L403.9,161.4 L408.8,165.1 L413.7,168.8 L418.5,172.6 L423.4,176.5 L428.3,180.4 L433.1,184.4 L438.0,188.5 L442.9,192.6 L447.7,196.8 L452.6,201.1 L457.5,205.5 L462.3,209.9 L467.2,214.4 L472.1,219.0 L476.9,223.7 L481.8,228.4 L486.7,233.2 L491.5,238.1 L496.4,243.0 L501.3,248.1 L506.1,253.2 L511.0,258.5 L515.9,263.8 L520.7,269.1 L525.6,274.6 L530.5,280.1 L535.3,285.8 L540.2,291.5 L545.1,297.3 L549.9,303.2 L554.8,309.2 L559.7,315.2 L564.5,321.4 L569.4,327.6 L574.3,334.0 L579.1,340.4 L584.0,346.9 L588.9,353.5 L593.7,360.2 L598.6,367.0 L603.5,373.7 L608.3,380.6 L613.2,387.6 L618.1,394.8 L622.9,402.2 L627.8,409.7 L632.7,417.3 L637.5,425.1 L642.4,433.0 L647.3,441.0 L652.1,449.1 L657.0,457.3 L659.5,457.5 L659.5,585.4 L657.0,585.0 L652.1,575.0 L647.3,565.1 L642.4,555.4 L637.5,545.8 L632.7,536.2 L627.8,526.9 L622.9,517.6 L618.1,508.5 L613.2,499.6 L608.3,491.0 L603.5,482.6 L598.6,474.3 L593.7,466.1 L588.9,458.1 L584.0,450.2 L579.1,442.4 L574.3,434.7 L569.4,427.1 L564.5,419.6 L559.7,412.2 L554.8,405.0 L549.9,397.8 L545.1,390.7 L540.2,383.8 L535.3,376.9 L530.5,370.1 L525.6,363.4 L520.7,356.8 L515.9,350.3 L511.0,343.9 L506.1,337.6 L501.3,331.3 L496.4,325.1 L491.5,319.1 L486.7,313.2 L481.8,307.3 L476.9,301.5 L472.1,295.9 L467.2,290.3 L462.3,284.7 L457.5,279.2 L452.6,273.8 L447.7,268.5 L442.9,263.3 L438.0,258.1 L433.1,253.0 L428.3,247.9 L423.4,242.9 L418.5,237.9 L413.7,233.0 L408.8,228.1 L403.9,223.3 L399.1,218.6 L394.2,213.9 L389.3,209.4 L384.4,204.8 L379.6,200.4 L374.7,196.0 L369.8,191.6 L365.0,187.4 L360.1,183.2 L355.2,179.0 L350.4,175.0 L345.5,170.9 L340.6,167.0 L335.8,163.1 L330.9,159.3 L326.0,155.5 L321.2,151.8 L316.3,148.2 L311.4,144.6 L306.6,141.1 L301.7,137.7 L296.8,134.3 L292.0,131.0 L287.1,127.7 L282.2,124.5 L277.4,121.4 L272.5,118.4 L267.6,115.4 L262.8,112.5 L257.9,109.6 L253.0,106.8 L248.2,104.1 L243.3,101.5 L238.4,98.9 L233.6,96.4 L228.7,94.0 L223.8,91.6 L219.0,89.3 L214.1,87.1 L209.2,85.0 L204.4,83.0 L199.5,81.0 L194.6,79.2 L189.8,77.4 L184.9,75.7 L180.0,74.1 L175.2,72.6 L170.3,71.3 L165.4,70.0 L160.6,68.8 L155.7,67.8 L150.8,66.9 L146.0,66.1 L141.1,65.5 L136.2,65.0 L131.4,64.7 L126.5,64.6Z" fill="rgb(235,220,219)"/>
<path d="M126.5,54.3 L131.4,54.4 L136.2,54.5 L141.1,54.7 L146.0,55.1 L150.8,55.5 L155.7,55.9 L160.6,56.5 L165.4,57.1 L170.3,57.8 L175.2,58.6 L180.0,59.5 L184.9,60.4 L189.8,61.3 L194.6,62.4 L199.5,63.5 L204.4,64.6 L209.2,65.9 L214.1,67.2 L219.0,68.5 L223.8,69.9 L228.7,71.3 L233.6,72.9 L238.4,74.4 L243.3,76.0 L248.2,77.7 L253.0,79.5 L257.9,81.2 L262.8,83.1 L267.6,85.0 L272.5,86.9 L277.4,88.9 L282.2,91.0 L287.1,93.1 L292.0,95.3 L296.8,97.5 L301.7,99.8 L306.6,102.2 L311.4,104.7 L316.3,107.2 L321.2,109.8 L326.0,112.4 L330.9,115.1 L335.8,117.9 L340.6,120.7 L345.5,123.6 L350.4,126.6 L355.2,129.6 L360.1,132.8 L365.0,136.0 L369.8,139.2 L374.7,142.5 L379.6,145.9 L384.4,149.3 L389.3,152.7 L394.2,156.2 L399.1,159.8 L403.9,163.5 L408.8,167.2 L413.7,170.9 L418.5,174.8 L423.4,178.7 L428.3,182.7 L433.1,186.7 L438.0,190.8 L442.9,195.0 L447.7,199.2 L452.6,203.6 L457.5,207.9 L462.3,212.4 L467.2,217.0 L472.1,221.6 L476.9,226.3 L481.8,231.0 L486.7,235.9 L491.5,240.8 L496.4,245.8 L501.3,250.9 L506.1,256.1 L511.0,261.3 L515.9,266.6 L520.7,272.1 L525.6,277.5 L530.5,283.1 L535.3,288.8 L540.2,294.6 L545.1,300.4 L549.9,306.4 L554.8,312.4 L559.7,318.5 L564.5,324.7 L569.4,330.9 L574.3,337.3 L579.1,343.8 L584.0,350.4 L588.9,357.0 L593.7,363.8 L598.6,370.5 L603.5,377.4 L608.3,384.3 L613.2,391.3 L618.1,398.6 L622.9,406.1 L627.8,413.6 L632.7,421.3 L637.5,429.1 L642.4,437.1 L647.3,445.1 L652.1,453.3 L657.0,461.6 L659.5,461.7 L659.5,585.4 L657.0,585.0 L652.1,575.0 L647.3,565.1 L642.4,555.4 L637.5,545.8 L632.7,536.2 L627.8,526.9 L622.9,517.6 L618.1,508.5 L613.2,499.6 L608.3,491.0 L603.5,482.6 L598.6,474.3 L593.7,466.1 L588.9,458.1 L584.0,450.2 L579.1,442.4 L574.3,434.7 L569.4,427.1 L564.5,419.6 L559.7,412.2 L554.8,405.0 L549.9,397.8 L545.1,390.7 L540.2,383.8 L535.3,376.9 L530.5,370.1 L525.6,363.4 L520.7,356.8 L515.9,350.3 L511.0,343.9 L506.1,337.6 L501.3,331.3 L496.4,325.1 L491.5,319.1 L486.7,313.2 L481.8,307.3 L476.9,301.5 L472.1,295.9 L467.2,290.3 L462.3,284.7 L457.5,279.2 L452.6,273.8 L447.7,268.5 L442.9,263.3 L438.0,258.1 L433.1,253.0 L428.3,247.9 L423.4,242.9 L418.5,237.9 L413.7,233.0 L408.8,228.1 L403.9,223.3 L399.1,218.6 L394.2,213.9 L389.3,209.4 L384.4,204.8 L379.6,200.4 L374.7,196.0 L369.8,191.6 L365.0,187.4 L360.1,183.2 L355.2,179.0 L350.4,175.0 L345.5,170.9 L340.6,167.0 L335.8,163.1 L330.9,159.3 L326.0,155.5 L321.2,151.8 L316.3,148.2 L311.4,144.6 L306.6,141.1 L301.7,137.7 L296.8,134.3 L292.0,131.0 L287.1,127.7 L282.2,124.5 L277.4,121.4 L272.5,118.4 L267.6,115.4 L262.8,112.5 L257.9,109.6 L253.0,106.8 L248.2,104.1 L243.3,101.5 L238.4,98.9 L233.6,96.4 L228.7,94.0 L223.8,91.6 L219.0,89.3 L214.1,87.1 L209.2,85.0 L204.4,83.0 L199.5,81.0 L194.6,79.2 L189.8,77.4 L184.9,75.7 L180.0,74.1 L175.2,72.6 L170.3,71.3 L165.4,70.0 L160.6,68.8 L155.7,67.8 L150.8,66.9 L146.0,66.1 L141.1,65.5 L136.2,65.0 L131.4,64.7 L126.5,64.6Z" fill="rgb(234,220,219)"/>
<path d="M126.5,54.7 L131.4,54.7 L136.2,54.9 L141.1,55.1 L146.0,55.4 L150.8,55.9 L155.7,56.4 L160.6,56.9 L165.4,57.6 L170.3,58.3 L175.2,59.1 L180.0,60.0 L184.9,60.9 L189.8,61.9 L194.6,63.0 L199.5,64.1 L204.4,65.3 L209.2,66.5 L214.1,67.8 L219.0,69.2 L223.8,70.6 L228.7,72.1 L233.6,73.7 L238.4,75.3 L243.3,76.9 L248.2,78.6 L253.0,80.4 L257.9,82.2 L262.8,84.1 L267.6,86.0 L272.5,88.0 L277.4,90.0 L282.2,92.1 L287.1,94.3 L292.0,96.5 L296.8,98.8 L301.7,101.2 L306.6,103.6 L311.4,106.1 L316.3,108.6 L321.2,111.2 L326.0,113.9 L330.9,116.6 L335.8,119.4 L340.6,122.3 L345.5,125.2 L350.4,128.2 L355.2,131.3 L360.1,134.5 L365.0,137.7 L369.8,141.0 L374.7,144.4 L379.6,147.8 L384.4,151.2 L389.3,154.7 L394.2,158.2 L399.1,161.8 L403.9,165.5 L408.8,169.3 L413.7,173.1 L418.5,177.0 L423.4,180.9 L428.3,184.9 L433.1,189.0 L438.0,193.1 L442.9,197.4 L447.7,201.6 L452.6,206.0 L457.5,210.4 L462.3,214.9 L467.2,219.5 L472.1,224.1 L476.9,228.8 L481.8,233.6 L486.7,238.5 L491.5,243.5 L496.4,248.5 L501.3,253.6 L506.1,258.9 L511.0,264.2 L515.9,269.5 L520.7,275.0 L525.6,280.5 L530.5,286.1 L535.3,291.8 L540.2,297.7 L545.1,303.5 L549.9,309.5 L554.8,315.6 L559.7,321.7 L564.5,327.9 L569.4,334.3 L574.3,340.7 L579.1,347.2 L584.0,353.8 L588.9,360.5 L593.7,367.3 L598.6,374.1 L603.5,381.0 L608.3,388.0 L613.2,395.1 L618.1,402.4 L622.9,409.9 L627.8,417.5 L632.7,425.3 L637.5,433.2 L642.4,441.2 L647.3,449.3 L652.1,457.5 L657.0,465.8 L659.5,466.0 L659.5,585.4 L657.0,585.0 L652.1,575.0 L647.3,565.1 L642.4,555.4 L637.5,545.8 L632.7,536.2 L627.8,526.9 L622.9,517.6 L618.1,508.5 L613.2,499.6 L608.3,491.0 L603.5,482.6 L598.6,474.3 L593.7,466.1 L588.9,458.1 L584.0,450.2 L579.1,442.4 L574.3,434.7 L569.4,427.1 L564.5,419.6 L559.7,412.2 L554.8,405.0 L549.9,397.8 L545.1,390.7 L540.2,383.8 L535.3,376.9 L530.5,370.1 L525.6,363.4 L520.7,356.8 L515.9,350.3 L511.0,343.9 L506.1,337.6 L501.3,331.3 L496.4,325.1 L491.5,319.1 L486.7,313.2 L481.8,307.3 L476.9,301.5 L472.1,295.9 L467.2,290.3 L462.3,284.7 L457.5,279.2 L452.6,273.8 L447.7,268.5 L442.9,263.3 L438.0,258.1 L433.1,253.0 L428.3,247.9 L423.4,242.9 L418.5,237.9 L413.7,233.0 L408.8,228.1 L403.9,223.3 L399.1,218.6 L394.2,213.9 L389.3,209.4 L384.4,204.8 L379.6,200.4 L374.7,196.0 L369.8,191.6 L365.0,187.4 L360.1,183.2 L355.2,179.0 L350.4,175.0 L345.5,170.9 L340.6,167.0 L335.8,163.1 L330.9,159.3 L326.0,155.5 L321.2,151.8 L316.3,148.2 L311.4,144.6 L306.6,141.1 L301.7,137.7 L296.8,134.3 L292.0,131.0 L287.1,127.7 L282.2,124.5 L277.4,121.4 L272.5,118.4 L267.6,115.4 L262.8,112.5 L257.9,109.6 L253.0,106.8 L248.2,104.1 L243.3,101.5 L238.4,98.9 L233.6,96.4 L228.7,94.0 L223.8,91.6 L219.0,89.3 L214.1,87.1 L209.2,85.0 L204.4,83.0 L199.5,81.0 L194.6,79.2 L189.8,77.4 L184.9,75.7 L180.0,74.1 L175.2,72.6 L170.3,71.3 L165.4,70.0 L160.6,68.8 L155.7,67.8 L150.8,66.9 L146.0,66.1 L141.1,65.5 L136.2,65.0 L131.4,64.7 L126.5,64.6Z" fill="rgb(233,220,220)"/>
<path d="M126.5,55.0 L131.4,55.1 L136.2,55.2 L141.1,55.5 L146.0,55.8 L150.8,56.3 L155.7,56.8 L160.6,57.4 L165.4,58.0 L170.3,58.8 L175.2,59.6 L180.0,60.5 L184.9,61.4 L189.8,62.4 L194.6,63.5 L199.5,64.7 L204.4,65.9 L209.2,67.2 L214.1,68.5 L219.0,69.9 L223.8,71.4 L228.7,72.9 L233.6,74.5 L238.4,76.1 L243.3,77.8 L248.2,79.5 L253.0,81.3 L257.9,83.2 L262.8,85.1 L267.6,87.1 L272.5,89.1 L277.4,91.2 L282.2,93.3 L287.1,95.5 L292.0,97.7 L296.8,100.0 L301.7,102.5 L306.6,104.9 L311.4,107.5 L316.3,110.0 L321.2,112.7 L326.0,115.4 L330.9,118.2 L335.8,121.0 L340.6,123.9 L345.5,126.9 L350.4,129.9 L355.2,133.0 L360.1,136.3 L365.0,139.5 L369.8,142.8 L374.7,146.2 L379.6,149.7 L384.4,153.1 L389.3,156.6 L394.2,160.2 L399.1,163.9 L403.9,167.6 L408.8,171.4 L413.7,175.2 L418.5,179.1 L423.4,183.1 L428.3,187.2 L433.1,191.3 L438.0,195.5 L442.9,199.7 L447.7,204.0 L452.6,208.4 L457.5,212.9 L462.3,217.4 L467.2,222.0 L472.1,226.7 L476.9,231.4 L481.8,236.3 L486.7,241.2 L491.5,246.2 L496.4,251.3 L501.3,256.4 L506.1,261.7 L511.0,267.0 L515.9,272.4 L520.7,277.9 L525.6,283.5 L530.5,289.1 L535.3,294.9 L540.2,300.7 L545.1,306.7 L549.9,312.7 L554.8,318.8 L559.7,324.9 L564.5,331.2 L569.4,337.6 L574.3,344.0 L579.1,350.6 L584.0,357.2 L588.9,364.0 L593.7,370.8 L598.6,377.7 L603.5,384.6 L608.3,391.6 L613.2,398.8 L618.1,406.2 L622.9,413.8 L627.8,421.4 L632.7,429.2 L637.5,437.2 L642.4,445.2 L647.3,453.4 L652.1,461.7 L657.0,470.1 L659.5,470.3 L659.5,585.4 L657.0,585.0 L652.1,575.0 L647.3,565.1 L642.4,555.4 L637.5,545.8 L632.7,536.2 L627.8,526.9 L622.9,517.6 L618.1,508.5 L613.2,499.6 L608.3,491.0 L603.5,482.6 L598.6,474.3 L593.7,466.1 L588.9,458.1 L584.0,450.2 L579.1,442.4 L574.3,434.7 L569.4,427.1 L564.5,419.6 L559.7,412.2 L554.8,405.0 L549.9,397.8 L545.1,390.7 L540.2,383.8 L535.3,376.9 L530.5,370.1 L525.6,363.4 L520.7,356.8 L515.9,350.3 L511.0,343.9 L506.1,337.6 L501.3,331.3 L496.4,325.1 L491.5,319.1 L486.7,313.2 L481.8,307.3 L476.9,301.5 L472.1,295.9 L467.2,290.3 L462.3,284.7 L457.5,279.2 L452.6,273.8 L447.7,268.5 L442.9,263.3 L438.0,258.1 L433.1,253.0 L428.3,247.9 L423.4,242.9 L418.5,237.9 L413.7,233.0 L408.8,228.1 L403.9,223.3 L399.1,218.6 L394.2,213.9 L389.3,209.4 L384.4,204.8 L379.6,200.4 L374.7,196.0 L369.8,191.6 L365.0,187.4 L360.1,183.2 L355.2,179.0 L350.4,175.0 L345.5,170.9 L340.6,167.0 L335.8,163.1 L330.9,159.3 L326.0,155.5 L321.2,151.8 L316.3,148.2 L311.4,144.6 L306.6,141.1 L301.7,137.7 L296.8,134.3 L292.0,131.0 L287.1,127.7 L282.2,124.5 L277.4,121.4 L272.5,118.4 L267.6,115.4 L262.8,112.5 L257.9,109.6 L253.0,106.8 L248.2,104.1 L243.3,101.5 L238.4,98.9 L233.6,96.4 L228.7,94.0 L223.8,91.6 L219.0,89.3 L214.1,87.1 L209.2,85.0 L204.4,83.0 L199.5,81.0 L194.6,79.2 L189.8,77.4 L184.9,75.7 L180.0,74.1 L175.2,72.6 L170.3,71.3 L165.4,70.0 L160.6,68.8 L155.7,67.8 L150.8,66.9 L146.0,66.1 L141.1,65.5 L136.2,65.0 L131.4,64.7 L126.5,64.6Z" fill="rgb(232,221,220)"/>
<path d="M126.5,55.4 L131.4,55.4 L136.2,55.6 L141.1,55.9 L146.0,56.2 L150.8,56.6 L155.7,57.2 L160.6,57.8 L165.4,58.5 L170.3,59.2 L175.2,60.1 L180.0,61.0 L184.9,62.0 L189.8,63.0 L194.6,64.1 L199.5,65.3 L204.4,66.5 L209.2,67.9 L214.1,69.2 L219.0,70.7 L223.8,72.1 L228.7,73.7 L233.6,75.3 L238.4,77.0 L243.3,78.7 L248.2,80.4 L253.0,82.3 L257.9,84.2 L262.8,86.1 L267.6,88.1 L272.5,90.2 L277.4,92.3 L282.2,94.4 L287.1,96.7 L292.0,99.0 L296.8,101.3 L301.7,103.8 L306.6,106.3 L311.4,108.8 L316.3,111.5 L321.2,114.1 L326.0,116.9 L330.9,119.7 L335.8,122.6 L340.6,125.5 L345.5,128.5 L350.4,131.6 L355.2,134.7 L360.1,138.0 L365.0,141.3 L369.8,144.7 L374.7,148.1 L379.6,151.5 L384.4,155.0 L389.3,158.6 L394.2,162.2 L399.1,165.9 L403.9,169.7 L408.8,173.5 L413.7,177.4 L418.5,181.3 L423.4,185.3 L428.3,189.4 L433.1,193.6 L438.0,197.8 L442.9,202.1 L447.7,206.4 L452.6,210.8 L457.5,215.3 L462.3,219.9 L467.2,224.5 L472.1,229.3 L476.9,234.0 L481.8,238.9 L486.7,243.8 L491.5,248.9 L496.4,254.0 L501.3,259.2 L506.1,264.5 L511.0,269.8 L515.9,275.3 L520.7,280.8 L525.6,286.4 L530.5,292.1 L535.3,297.9 L540.2,303.8 L545.1,309.8 L549.9,315.8 L554.8,321.9 L559.7,328.2 L564.5,334.5 L569.4,340.9 L574.3,347.4 L579.1,354.0 L584.0,360.7 L588.9,367.5 L593.7,374.4 L598.6,381.3 L603.5,388.2 L608.3,395.3 L613.2,402.5 L618.1,410.0 L622.9,417.6 L627.8,425.3 L632.7,433.2 L637.5,441.2 L642.4,449.3 L647.3,457.5 L652.1,465.9 L657.0,474.3 L659.5,474.5 L659.5,585.4 L657.0,585.0 L652.1,575.0 L647.3,565.1 L642.4,555.4 L637.5,545.8 L632.7,536.2 L627.8,526.9 L622.9,517.6 L618.1,508.5 L613.2,499.6 L608.3,491.0 L603.5,482.6 L598.6,474.3 L593.7,466.1 L588.9,458.1 L584.0,450.2 L579.1,442.4 L574.3,434.7 L569.4,427.1 L564.5,419.6 L559.7,412.2 L554.8,405.0 L549.9,397.8 L545.1,390.7 L540.2,383.8 L535.3,376.9 L530.5,370.1 L525.6,363.4 L520.7,356.8 L515.9,350.3 L511.0,343.9 L506.1,337.6 L501.3,331.3 L496.4,325.1 L491.5,319.1 L486.7,313.2 L481.8,307.3 L476.9,301.5 L472.1,295.9 L467.2,290.3 L462.3,284.7 L457.5,279.2 L452.6,273.8 L447.7,268.5 L442.9,263.3 L438.0,258.1 L433.1,253.0 L428.3,247.9 L423.4,242.9 L418.5,237.9 L413.7,233.0 L408.8,228.1 L403.9,223.3 L399.1,218.6 L394.2,213.9 L389.3,209.4 L384.4,204.8 L379.6,200.4 L374.7,196.0 L369.8,191.6 L365.0,187.4 L360.1,183.2 L355.2,179.0 L350.4,175.0 L345.5,170.9 L340.6,167.0 L335.8,163.1 L330.9,159.3 L326.0,155.5 L321.2,151.8 L316.3,148.2 L311.4,144.6 L306.6,141.1 L301.7,137.7 L296.8,134.3 L292.0,131.0 L287.1,127.7 L282.2,124.5 L277.4,121.4 L272.5,118.4 L267.6,115.4 L262.8,112.5 L257.9,109.6 L253.0,106.8 L248.2,104.1 L243.3,101.5 L238.4,98.9 L233.6,96.4 L228.7,94.0 L223.8,91.6 L219.0,89.3 L214.1,87.1 L209.2,85.0 L204.4,83.0 L199.5,81.0 L194.6,79.2 L189.8,77.4 L184.9,75.7 L180.0,74.1 L175.2,72.6 L170.3,71.3 L165.4,70.0 L160.6,68.8 L155.7,67.8 L150.8,66.9 L146.0,66.1 L141.1,65.5 L136.2,65.0 L131.4,64.7 L126.5,64.6Z" fill="rgb(231,221,220)"/>
<path d="M126.5,55.7 L131.4,55.8 L136.2,56.0 L141.1,56.2 L146.0,56.6 L150.8,57.0 L155.7,57.6 L160.6,58.2 L165.4,58.9 L170.3,59.7 L175.2,60.5 L180.0,61.5 L184.9,62.5 L189.8,63.6 L194.6,64.7 L199.5,65.9 L204.4,67.2 L209.2,68.5 L214.1,69.9 L219.0,71.4 L223.8,72.9 L228.7,74.5 L233.6,76.1 L238.4,77.8 L243.3,79.5 L248.2,81.4 L253.0,83.2 L257.9,85.2 L262.8,87.1 L267.6,89.2 L272.5,91.3 L277.4,93.4 L282.2,95.6 L287.1,97.9 L292.0,100.2 L296.8,102.6 L301.7,105.1 L306.6,107.6 L311.4,110.2 L316.3,112.9 L321.2,115.6 L326.0,118.4 L330.9,121.2 L335.8,124.1 L340.6,127.1 L345.5,130.1 L350.4,133.2 L355.2,136.5 L360.1,139.7 L365.0,143.1 L369.8,146.5 L374.7,149.9 L379.6,153.4 L384.4,156.9 L389.3,160.5 L394.2,164.2 L399.1,167.9 L403.9,171.7 L408.8,175.6 L413.7,179.5 L418.5,183.5 L423.4,187.6 L428.3,191.7 L433.1,195.9 L438.0,200.1 L442.9,204.4 L447.7,208.8 L452.6,213.2 L457.5,217.8 L462.3,222.4 L467.2,227.1 L472.1,231.8 L476.9,236.6 L481.8,241.5 L486.7,246.5 L491.5,251.6 L496.4,256.7 L501.3,262.0 L506.1,267.3 L511.0,272.7 L515.9,278.2 L520.7,283.7 L525.6,289.4 L530.5,295.1 L535.3,301.0 L540.2,306.9 L545.1,312.9 L549.9,319.0 L554.8,325.1 L559.7,331.4 L564.5,337.8 L569.4,344.2 L574.3,350.8 L579.1,357.4 L584.0,364.1 L588.9,371.0 L593.7,377.9 L598.6,384.8 L603.5,391.9 L608.3,399.0 L613.2,406.3 L618.1,413.8 L622.9,421.5 L627.8,429.2 L632.7,437.1 L637.5,445.2 L642.4,453.4 L647.3,461.7 L652.1,470.1 L657.0,478.6 L659.5,478.8 L659.5,585.4 L657.0,585.0 L652.1,575.0 L647.3,565.1 L642.4,555.4 L637.5,545.8 L632.7,536.2 L627.8,526.9 L622.9,517.6 L618.1,508.5 L613.2,499.6 L608.3,491.0 L603.5,482.6 L598.6,474.3 L593.7,466.1 L588.9,458.1 L584.0,450.2 L579.1,442.4 L574.3,434.7 L569.4,427.1 L564.5,419.6 L559.7,412.2 L554.8,405.0 L549.9,397.8 L545.1,390.7 L540.2,383.8 L535.3,376.9 L530.5,370.1 L525.6,363.4 L520.7,356.8 L515.9,350.3 L511.0,343.9 L506.1,337.6 L501.3,331.3 L496.4,325.1 L491.5,319.1 L486.7,313.2 L481.8,307.3 L476.9,301.5 L472.1,295.9 L467.2,290.3 L462.3,284.7 L457.5,279.2 L452.6,273.8 L447.7,268.5 L442.9,263.3 L438.0,258.1 L433.1,253.0 L428.3,247.9 L423.4,242.9 L418.5,237.9 L413.7,233.0 L408.8,228.1 L403.9,223.3 L399.1,218.6 L394.2,213.9 L389.3,209.4 L384.4,204.8 L379.6,200.4 L374.7,196.0 L369.8,191.6 L365.0,187.4 L360.1,183.2 L355.2,179.0 L350.4,175.0 L345.5,170.9 L340.6,167.0 L335.8,163.1 L330.9,159.3 L326.0,155.5 L321.2,151.8 L316.3,148.2 L311.4,144.6 L306.6,141.1 L301.7,137.7 L296.8,134.3 L292.0,131.0 L287.1,127.7 L282.2,124.5 L277.4,121.4 L272.5,118.4 L267.6,115.4 L262.8,112.5 L257.9,109.6 L253.0,106.8 L248.2,104.1 L243.3,101.5 L238.4,98.9 L233.6,96.4 L228.7,94.0 L223.8,91.6 L219.0,89.3 L214.1,87.1 L209.2,85.0 L204.4,83.0 L199.5,81.0 L194.6,79.2 L189.8,77.4 L184.9,75.7 L180.0,74.1 L175.2,72.6 L170.3,71.3 L165.4,70.0 L160.6,68.8 L155.7,67.8 L150.8,66.9 L146.0,66.1 L141.1,65.5 L136.2,65.0 L131.4,64.7 L126.5,64.6Z" fill="rgb(230,221,221)"/>
<path d="M126.5,56.1 L131.4,56.2 L136.2,56.3 L141.1,56.6 L146.0,57.0 L150.8,57.4 L155.7,58.0 L160.6,58.6 L165.4,59.4 L170.3,60.2 L175.2,61.0 L180.0,62.0 L184.9,63.0 L189.8,64.1 L194.6,65.3 L199.5,66.5 L204.4,67.8 L209.2,69.2 L214.1,70.6 L219.0,72.1 L223.8,73.6 L228.7,75.2 L233.6,76.9 L238.4,78.6 L243.3,80.4 L248.2,82.3 L253.0,84.2 L257.9,86.1 L262.8,88.2 L267.6,90.2 L272.5,92.3 L277.4,94.5 L282.2,96.8 L287.1,99.0 L292.0,101.4 L296.8,103.9 L301.7,106.4 L306.6,108.9 L311.4,111.6 L316.3,114.3 L321.2,117.0 L326.0,119.9 L330.9,122.7 L335.8,125.7 L340.6,128.7 L345.5,131.8 L350.4,134.9 L355.2,138.2 L360.1,141.5 L365.0,144.8 L369.8,148.3 L374.7,151.8 L379.6,155.3 L384.4,158.9 L389.3,162.5 L394.2,166.2 L399.1,170.0 L403.9,173.8 L408.8,177.7 L413.7,181.6 L418.5,185.7 L423.4,189.8 L428.3,193.9 L433.1,198.1 L438.0,202.4 L442.9,206.8 L447.7,211.2 L452.6,215.7 L457.5,220.2 L462.3,224.9 L467.2,229.6 L472.1,234.4 L476.9,239.2 L481.8,244.2 L486.7,249.2 L491.5,254.3 L496.4,259.5 L501.3,264.7 L506.1,270.1 L511.0,275.5 L515.9,281.1 L520.7,286.7 L525.6,292.4 L530.5,298.1 L535.3,304.0 L540.2,310.0 L545.1,316.0 L549.9,322.1 L554.8,328.3 L559.7,334.6 L564.5,341.0 L569.4,347.5 L574.3,354.1 L579.1,360.8 L584.0,367.6 L588.9,374.5 L593.7,381.4 L598.6,388.4 L603.5,395.5 L608.3,402.7 L613.2,410.0 L618.1,417.6 L622.9,425.3 L627.8,433.1 L632.7,441.1 L637.5,449.2 L642.4,457.5 L647.3,465.8 L652.1,474.3 L657.0,482.8 L659.5,483.0 L659.5,585.4 L657.0,585.0 L652.1,575.0 L647.3,565.1 L642.4,555.4 L637.5,545.8 L632.7,536.2 L627.8,526.9 L622.9,517.6 L618.1,508.5 L613.2,499.6 L608.3,491.0 L603.5,482.6 L598.6,474.3 L593.7,466.1 L588.9,458.1 L584.0,450.2 L579.1,442.4 L574.3,434.7 L569.4,427.1 L564.5,419.6 L559.7,412.2 L554.8,405.0 L549.9,397.8 L545.1,390.7 L540.2,383.8 L535.3,376.9 L530.5,370.1 L525.6,363.4 L520.7,356.8 L515.9,350.3 L511.0,343.9 L506.1,337.6 L501.3,331.3 L496.4,325.1 L491.5,319.1 L486.7,313.2 L481.8,307.3 L476.9,301.5 L472.1,295.9 L467.2,290.3 L462.3,284.7 L457.5,279.2 L452.6,273.8 L447.7,268.5 L442.9,263.3 L438.0,258.1 L433.1,253.0 L428.3,247.9 L423.4,242.9 L418.5,237.9 L413.7,233.0 L408.8,228.1 L403.9,223.3 L399.1,218.6 L394.2,213.9 L389.3,209.4 L384.4,204.8 L379.6,200.4 L374.7,196.0 L369.8,191.6 L365.0,187.4 L360.1,183.2 L355.2,179.0 L350.4,175.0 L345.5,170.9 L340.6,167.0 L335.8,163.1 L330.9,159.3 L326.0,155.5 L321.2,151.8 L316.3,148.2 L311.4,144.6 L306.6,141.1 L301.7,137.7 L296.8,134.3 L292.0,131.0 L287.1,127.7 L282.2,124.5 L277.4,121.4 L272.5,118.4 L267.6,115.4 L262.8,112.5 L257.9,109.6 L253.0,106.8 L248.2,104.1 L243.3,101.5 L238.4,98.9 L233.6,96.4 L228.7,94.0 L223.8,91.6 L219.0,89.3 L214.1,87.1 L209.2,85.0 L204.4,83.0 L199.5,81.0 L194.6,79.2 L189.8,77.4 L184.9,75.7 L180.0,74.1 L175.2,72.6 L170.3,71.3 L165.4,70.0 L160.6,68.8 L155.7,67.8 L150.8,66.9 L146.0,66.1 L141.1,65.5 L136.2,65.0 L131.4,64.7 L126.5,64.6Z" fill="rgb(230,221,221)"/>
<path d="M126.5,56.4 L131.4,56.5 L136.2,56.7 L141.1,57.0 L146.0,57.3 L150.8,57.8 L155.7,58.4 L160.6,59.1 L165.4,59.8 L170.3,60.6 L175.2,61.5 L180.0,62.5 L184.9,63.5 L189.8,64.7 L194.6,65.9 L199.5,67.1 L204.4,68.4 L209.2,69.8 L214.1,71.3 L219.0,72.8 L223.8,74.4 L228.7,76.0 L233.6,77.7 L238.4,79.5 L243.3,81.3 L248.2,83.2 L253.0,85.1 L257.9,87.1 L262.8,89.2 L267.6,91.3 L272.5,93.4 L277.4,95.6 L282.2,97.9 L287.1,100.2 L292.0,102.6 L296.8,105.1 L301.7,107.7 L306.6,110.3 L311.4,113.0 L316.3,115.7 L321.2,118.5 L326.0,121.3 L330.9,124.3 L335.8,127.2 L340.6,130.3 L345.5,133.4 L350.4,136.6 L355.2,139.9 L360.1,143.2 L365.0,146.6 L369.8,150.1 L374.7,153.6 L379.6,157.2 L384.4,160.8 L389.3,164.5 L394.2,168.2 L399.1,172.0 L403.9,175.8 L408.8,179.8 L413.7,183.8 L418.5,187.8 L423.4,192.0 L428.3,196.2 L433.1,200.4 L438.0,204.7 L442.9,209.1 L447.7,213.6 L452.6,218.1 L457.5,222.7 L462.3,227.4 L467.2,232.1 L472.1,236.9 L476.9,241.8 L481.8,246.8 L486.7,251.8 L491.5,257.0 L496.4,262.2 L501.3,267.5 L506.1,272.9 L511.0,278.4 L515.9,283.9 L520.7,289.6 L525.6,295.3 L530.5,301.1 L535.3,307.0 L540.2,313.0 L545.1,319.1 L549.9,325.3 L554.8,331.5 L559.7,337.9 L564.5,344.3 L569.4,350.8 L574.3,357.5 L579.1,364.2 L584.0,371.0 L588.9,377.9 L593.7,384.9 L598.6,392.0 L603.5,399.1 L608.3,406.4 L613.2,413.7 L618.1,421.4 L622.9,429.1 L627.8,437.0 L632.7,445.1 L637.5,453.3 L642.4,461.5 L647.3,469.9 L652.1,478.5 L657.0,487.1 L659.5,487.3 L659.5,585.4 L657.0,585.0 L652.1,575.0 L647.3,565.1 L642.4,555.4 L637.5,545.8 L632.7,536.2 L627.8,526.9 L622.9,517.6 L618.1,508.5 L613.2,499.6 L608.3,491.0 L603.5,482.6 L598.6,474.3 L593.7,466.1 L588.9,458.1 L584.0,450.2 L579.1,442.4 L574.3,434.7 L569.4,427.1 L564.5,419.6 L559.7,412.2 L554.8,405.0 L549.9,397.8 L545.1,390.7 L540.2,383.8 L535.3,376.9 L530.5,370.1 L525.6,363.4 L520.7,356.8 L515.9,350.3 L511.0,343.9 L506.1,337.6 L501.3,331.3 L496.4,325.1 L491.5,319.1 L486.7,313.2 L481.8,307.3 L476.9,301.5 L472.1,295.9 L467.2,290.3 L462.3,284.7 L457.5,279.2 L452.6,273.8 L447.7,268.5 L442.9,263.3 L438.0,258.1 L433.1,253.0 L428.3,247.9 L423.4,242.9 L418.5,237.9 L413.7,233.0 L408.8,228.1 L403.9,223.3 L399.1,218.6 L394.2,213.9 L389.3,209.4 L384.4,204.8 L379.6,200.4 L374.7,196.0 L369.8,191.6 L365.0,187.4 L360.1,183.2 L355.2,179.0 L350.4,175.0 L345.5,170.9 L340.6,167.0 L335.8,163.1 L330.9,159.3 L326.0,155.5 L321.2,151.8 L316.3,148.2 L311.4,144.6 L306.6,141.1 L301.7,137.7 L296.8,134.3 L292.0,131.0 L287.1,127.7 L282.2,124.5 L277.4,121.4 L272.5,118.4 L267.6,115.4 L262.8,112.5 L257.9,109.6 L253.0,106.8 L248.2,104.1 L243.3,101.5 L238.4,98.9 L233.6,96.4 L228.7,94.0 L223.8,91.6 L219.0,89.3 L214.1,87.1 L209.2,85.0 L204.4,83.0 L199.5,81.0 L194.6,79.2 L189.8,77.4 L184.9,75.7 L180.0,74.1 L175.2,72.6 L170.3,71.3 L165.4,70.0 L160.6,68.8 L155.7,67.8 L150.8,66.9 L146.0,66.1 L141.1,65.5 L136.2,65.0 L131.4,64.7 L126.5,64.6Z" fill="rgb(229,221,222)"/>
<path d="M126.5,56.8 L131.4,56.9 L136.2,57.0 L141.1,57.3 L146.0,57.7 L150.8,58.2 L155.7,58.8 L160.6,59.5 L165.4,60.2 L170.3,61.1 L175.2,62.0 L180.0,63.0 L184.9,64.1 L189.8,65.2 L194.6,66.4 L199.5,67.7 L204.4,69.1 L209.2,70.5 L214.1,72.0 L219.0,73.5 L223.8,75.1 L228.7,76.8 L233.6,78.5 L238.4,80.3 L243.3,82.2 L248.2,84.1 L253.0,86.1 L257.9,88.1 L262.8,90.2 L267.6,92.3 L272.5,94.5 L277.4,96.8 L282.2,99.1 L287.1,101.4 L292.0,103.9 L296.8,106.4 L301.7,109.0 L306.6,111.6 L311.4,114.3 L316.3,117.1 L321.2,119.9 L326.0,122.8 L330.9,125.8 L335.8,128.8 L340.6,131.9 L345.5,135.0 L350.4,138.3 L355.2,141.6 L360.1,144.9 L365.0,148.4 L369.8,151.9 L374.7,155.4 L379.6,159.0 L384.4,162.7 L389.3,166.4 L394.2,170.2 L399.1,174.0 L403.9,177.9 L408.8,181.9 L413.7,185.9 L418.5,190.0 L423.4,194.2 L428.3,198.4 L433.1,202.7 L438.0,207.1 L442.9,211.5 L447.7,216.0 L452.6,220.5 L457.5,225.2 L462.3,229.9 L467.2,234.6 L472.1,239.5 L476.9,244.4 L481.8,249.4 L486.7,254.5 L491.5,259.7 L496.4,264.9 L501.3,270.3 L506.1,275.7 L511.0,281.2 L515.9,286.8 L520.7,292.5 L525.6,298.3 L530.5,304.1 L535.3,310.1 L540.2,316.1 L545.1,322.2 L549.9,328.4 L554.8,334.7 L559.7,341.1 L564.5,347.6 L569.4,354.2 L574.3,360.8 L579.1,367.6 L584.0,374.5 L588.9,381.4 L593.7,388.5 L598.6,395.6 L603.5,402.8 L608.3,410.0 L613.2,417.5 L618.1,425.2 L622.9,433.0 L627.8,440.9 L632.7,449.0 L637.5,457.3 L642.4,465.6 L647.3,474.1 L652.1,482.7 L657.0,491.4 L659.5,491.6 L659.5,585.4 L657.0,585.0 L652.1,575.0 L647.3,565.1 L642.4,555.4 L637.5,545.8 L632.7,536.2 L627.8,526.9 L622.9,517.6 L618.1,508.5 L613.2,499.6 L608.3,491.0 L603.5,482.6 L598.6,474.3 L593.7,466.1 L588.9,458.1 L584.0,450.2 L579.1,442.4 L574.3,434.7 L569.4,427.1 L564.5,419.6 L559.7,412.2 L554.8,405.0 L549.9,397.8 L545.1,390.7 L540.2,383.8 L535.3,376.9 L530.5,370.1 L525.6,363.4 L520.7,356.8 L515.9,350.3 L511.0,343.9 L506.1,337.6 L501.3,331.3 L496.4,325.1 L491.5,319.1 L486.7,313.2 L481.8,307.3 L476.9,301.5 L472.1,295.9 L467.2,290.3 L462.3,284.7 L457.5,279.2 L452.6,273.8 L447.7,268.5 L442.9,263.3 L438.0,258.1 L433.1,253.0 L428.3,247.9 L423.4,242.9 L418.5,237.9 L413.7,233.0 L408.8,228.1 L403.9,223.3 L399.1,218.6 L394.2,213.9 L389.3,209.4 L384.4,204.8 L379.6,200.4 L374.7,196.0 L369.8,191.6 L365.0,187.4 L360.1,183.2 L355.2,179.0 L350.4,175.0 L345.5,170.9 L340.6,167.0 L335.8,163.1 L330.9,159.3 L326.0,155.5 L321.2,151.8 L316.3,148.2 L311.4,144.6 L306.6,141.1 L301.7,137.7 L296.8,134.3 L292.0,131.0 L287.1,127.7 L282.2,124.5 L277.4,121.4 L272.5,118.4 L267.6,115.4 L262.8,112.5 L257.9,109.6 L253.0,106.8 L248.2,104.1 L243.3,101.5 L238.4,98.9 L233.6,96.4 L228.7,94.0 L223.8,91.6 L219.0,89.3 L214.1,87.1 L209.2,85.0 L204.4,83.0 L199.5,81.0 L194.6,79.2 L189.8,77.4 L184.9,75.7 L180.0,74.1 L175.2,72.6 L170.3,71.3 L165.4,70.0 L160.6,68.8 L155.7,67.8 L150.8,66.9 L146.0,66.1 L141.1,65.5 L136.2,65.0 L131.4,64.7 L126.5,64.6Z" fill="rgb(228,221,223)"/>
<path d="M126.5,57.2 L131.4,57.2 L136.2,57.4 L141.1,57.7 L146.0,58.1 L150.8,58.6 L155.7,59.2 L160.6,59.9 L165.4,60.7 L170.3,61.5 L175.2,62.5 L180.0,63.5 L184.9,64.6 L189.8,65.8 L194.6,67.0 L199.5,68.3 L204.4,69.7 L209.2,71.2 L214.1,72.7 L219.0,74.2 L223.8,75.9 L228.7,77.6 L233.6,79.3 L238.4,81.2 L243.3,83.1 L248.2,85.0 L253.0,87.0 L257.9,89.1 L262.8,91.2 L267.6,93.4 L272.5,95.6 L277.4,97.9 L282.2,100.2 L287.1,102.6 L292.0,105.1 L296.8,107.7 L301.7,110.3 L306.6,113.0 L311.4,115.7 L316.3,118.5 L321.2,121.4 L326.0,124.3 L330.9,127.3 L335.8,130.4 L340.6,133.5 L345.5,136.7 L350.4,139.9 L355.2,143.3 L360.1,146.7 L365.0,150.2 L369.8,153.7 L374.7,157.3 L379.6,160.9 L384.4,164.6 L389.3,168.4 L394.2,172.2 L399.1,176.0 L403.9,180.0 L408.8,184.0 L413.7,188.1 L418.5,192.2 L423.4,196.4 L428.3,200.7 L433.1,205.0 L438.0,209.4 L442.9,213.8 L447.7,218.4 L452.6,222.9 L457.5,227.6 L462.3,232.4 L467.2,237.2 L472.1,242.1 L476.9,247.0 L481.8,252.1 L486.7,257.2 L491.5,262.4 L496.4,267.7 L501.3,273.1 L506.1,278.5 L511.0,284.1 L515.9,289.7 L520.7,295.4 L525.6,301.2 L530.5,307.1 L535.3,313.1 L540.2,319.2 L545.1,325.3 L549.9,331.6 L554.8,337.9 L559.7,344.3 L564.5,350.9 L569.4,357.5 L574.3,364.2 L579.1,371.0 L584.0,377.9 L588.9,384.9 L593.7,392.0 L598.6,399.2 L603.5,406.4 L608.3,413.7 L613.2,421.2 L618.1,428.9 L622.9,436.8 L627.8,444.8 L632.7,453.0 L637.5,461.3 L642.4,469.7 L647.3,478.2 L652.1,486.9 L657.0,495.6 L659.5,495.8 L659.5,585.4 L657.0,585.0 L652.1,575.0 L647.3,565.1 L642.4,555.4 L637.5,545.8 L632.7,536.2 L627.8,526.9 L622.9,517.6 L618.1,508.5 L613.2,499.6 L608.3,491.0 L603.5,482.6 L598.6,474.3 L593.7,466.1 L588.9,458.1 L584.0,450.2 L579.1,442.4 L574.3,434.7 L569.4,427.1 L564.5,419.6 L559.7,412.2 L554.8,405.0 L549.9,397.8 L545.1,390.7 L540.2,383.8 L535.3,376.9 L530.5,370.1 L525.6,363.4 L520.7,356.8 L515.9,350.3 L511.0,343.9 L506.1,337.6 L501.3,331.3 L496.4,325.1 L491.5,319.1 L486.7,313.2 L481.8,307.3 L476.9,301.5 L472.1,295.9 L467.2,290.3 L462.3,284.7 L457.5,279.2 L452.6,273.8 L447.7,268.5 L442.9,263.3 L438.0,258.1 L433.1,253.0 L428.3,247.9 L423.4,242.9 L418.5,237.9 L413.7,233.0 L408.8,228.1 L403.9,223.3 L399.1,218.6 L394.2,213.9 L389.3,209.4 L384.4,204.8 L379.6,200.4 L374.7,196.0 L369.8,191.6 L365.0,187.4 L360.1,183.2 L355.2,179.0 L350.4,175.0 L345.5,170.9 L340.6,167.0 L335.8,163.1 L330.9,159.3 L326.0,155.5 L321.2,151.8 L316.3,148.2 L311.4,144.6 L306.6,141.1 L301.7,137.7 L296.8,134.3 L292.0,131.0 L287.1,127.7 L282.2,124.5 L277.4,121.4 L272.5,118.4 L267.6,115.4 L262.8,112.5 L257.9,109.6 L253.0,106.8 L248.2,104.1 L243.3,101.5 L238.4,98.9 L233.6,96.4 L228.7,94.0 L223.8,91.6 L219.0,89.3 L214.1,87.1 L209.2,85.0 L204.4,83.0 L199.5,81.0 L194.6,79.2 L189.8,77.4 L184.9,75.7 L180.0,74.1 L175.2,72.6 L170.3,71.3 L165.4,70.0 L160.6,68.8 L155.7,67.8 L150.8,66.9 L146.0,66.1 L141.1,65.5 L136.2,65.0 L131.4,64.7 L126.5,64.6Z" fill="rgb(228,222,223)"/>
<path d="M126.5,57.5 L131.4,57.6 L136.2,57.8 L141.1,58.1 L146.0,58.5 L150.8,59.0 L155.7,59.6 L160.6,60.3 L165.4,61.1 L170.3,62.0 L175.2,63.0 L180.0,64.0 L184.9,65.1 L189.8,66.3 L194.6,67.6 L199.5,68.9 L204.4,70.3 L209.2,71.8 L214.1,73.4 L219.0,75.0 L223.8,76.6 L228.7,78.4 L233.6,80.2 L238.4,82.0 L243.3,83.9 L248.2,85.9 L253.0,87.9 L257.9,90.0 L262.8,92.2 L267.6,94.4 L272.5,96.7 L277.4,99.0 L282.2,101.4 L287.1,103.8 L292.0,106.3 L296.8,108.9 L301.7,111.6 L306.6,114.3 L311.4,117.1 L316.3,119.9 L321.2,122.8 L326.0,125.8 L330.9,128.8 L335.8,131.9 L340.6,135.1 L345.5,138.3 L350.4,141.6 L355.2,145.0 L360.1,148.4 L365.0,151.9 L369.8,155.5 L374.7,159.1 L379.6,162.8 L384.4,166.5 L389.3,170.3 L394.2,174.2 L399.1,178.1 L403.9,182.0 L408.8,186.1 L413.7,190.2 L418.5,194.4 L423.4,198.6 L428.3,202.9 L433.1,207.3 L438.0,211.7 L442.9,216.2 L447.7,220.7 L452.6,225.4 L457.5,230.1 L462.3,234.9 L467.2,239.7 L472.1,244.6 L476.9,249.6 L481.8,254.7 L486.7,259.8 L491.5,265.1 L496.4,270.4 L501.3,275.8 L506.1,281.3 L511.0,286.9 L515.9,292.6 L520.7,298.4 L525.6,304.2 L530.5,310.1 L535.3,316.1 L540.2,322.3 L545.1,328.5 L549.9,334.7 L554.8,341.1 L559.7,347.6 L564.5,354.1 L569.4,360.8 L574.3,367.5 L579.1,374.4 L584.0,381.3 L588.9,388.4 L593.7,395.5 L598.6,402.7 L603.5,410.0 L608.3,417.4 L613.2,424.9 L618.1,432.7 L622.9,440.7 L627.8,448.7 L632.7,457.0 L637.5,465.3 L642.4,473.8 L647.3,482.4 L652.1,491.1 L657.0,499.9 L659.5,500.1 L659.5,585.4 L657.0,585.0 L652.1,575.0 L647.3,565.1 L642.4,555.4 L637.5,545.8 L632.7,536.2 L627.8,526.9 L622.9,517.6 L618.1,508.5 L613.2,499.6 L608.3,491.0 L603.5,482.6 L598.6,474.3 L593.7,466.1 L588.9,458.1 L584.0,450.2 L579.1,442.4 L574.3,434.7 L569.4,427.1 L564.5,419.6 L559.7,412.2 L554.8,405.0 L549.9,397.8 L545.1,390.7 L540.2,383.8 L535.3,376.9 L530.5,370.1 L525.6,363.4 L520.7,356.8 L515.9,350.3 L511.0,343.9 L506.1,337.6 L501.3,331.3 L496.4,325.1 L491.5,319.1 L486.7,313.2 L481.8,307.3 L476.9,301.5 L472.1,295.9 L467.2,290.3 L462.3,284.7 L457.5,279.2 L452.6,273.8 L447.7,268.5 L442.9,263.3 L438.0,258.1 L433.1,253.0 L428.3,247.9 L423.4,242.9 L418.5,237.9 L413.7,233.0 L408.8,228.1 L403.9,223.3 L399.1,218.6 L394.2,213.9 L389.3,209.4 L384.4,204.8 L379.6,200.4 L374.7,196.0 L369.8,191.6 L365.0,187.4 L360.1,183.2 L355.2,179.0 L350.4,175.0 L345.5,170.9 L340.6,167.0 L335.8,163.1 L330.9,159.3 L326.0,155.5 L321.2,151.8 L316.3,148.2 L311.4,144.6 L306.6,141.1 L301.7,137.7 L296.8,134.3 L292.0,131.0 L287.1,127.7 L282.2,124.5 L277.4,121.4 L272.5,118.4 L267.6,115.4 L262.8,112.5 L257.9,109.6 L253.0,106.8 L248.2,104.1 L243.3,101.5 L238.4,98.9 L233.6,96.4 L228.7,94.0 L223.8,91.6 L219.0,89.3 L214.1,87.1 L209.2,85.0 L204.4,83.0 L199.5,81.0 L194.6,79.2 L189.8,77.4 L184.9,75.7 L180.0,74.1 L175.2,72.6 L170.3,71.3 L165.4,70.0 L160.6,68.8 L155.7,67.8 L150.8,66.9 L146.0,66.1 L141.1,65.5 L136.2,65.0 L131.4,64.7 L126.5,64.6Z" fill="rgb(227,222,224)"/>
<path d="M126.5,57.9 L131.4,57.9 L136.2,58.1 L141.1,58.4 L146.0,58.9 L150.8,59.4 L155.7,60.0 L160.6,60.8 L165.4,61.6 L170.3,62.5 L175.2,63.5 L180.0,64.5 L184.9,65.7 L189.8,66.9 L194.6,68.2 L199.5,69.5 L204.4,71.0 L209.2,72.5 L214.1,74.0 L219.0,75.7 L223.8,77.4 L228.7,79.1 L233.6,81.0 L238.4,82.9 L243.3,84.8 L248.2,86.8 L253.0,88.9 L257.9,91.0 L262.8,93.2 L267.6,95.5 L272.5,97.8 L277.4,100.1 L282.2,102.5 L287.1,105.0 L292.0,107.6 L296.8,110.2 L301.7,112.9 L306.6,115.7 L311.4,118.5 L316.3,121.4 L321.2,124.3 L326.0,127.3 L330.9,130.4 L335.8,133.5 L340.6,136.7 L345.5,139.9 L350.4,143.3 L355.2,146.7 L360.1,150.2 L365.0,153.7 L369.8,157.3 L374.7,161.0 L379.6,164.7 L384.4,168.4 L389.3,172.3 L394.2,176.1 L399.1,180.1 L403.9,184.1 L408.8,188.2 L413.7,192.3 L418.5,196.5 L423.4,200.8 L428.3,205.2 L433.1,209.6 L438.0,214.0 L442.9,218.5 L447.7,223.1 L452.6,227.8 L457.5,232.5 L462.3,237.3 L467.2,242.2 L472.1,247.2 L476.9,252.2 L481.8,257.3 L486.7,262.5 L491.5,267.8 L496.4,273.1 L501.3,278.6 L506.1,284.2 L511.0,289.8 L515.9,295.5 L520.7,301.3 L525.6,307.2 L530.5,313.1 L535.3,319.2 L540.2,325.3 L545.1,331.6 L549.9,337.9 L554.8,344.3 L559.7,350.8 L564.5,357.4 L569.4,364.1 L574.3,370.9 L579.1,377.8 L584.0,384.8 L588.9,391.9 L593.7,399.1 L598.6,406.3 L603.5,413.6 L608.3,421.1 L613.2,428.7 L618.1,436.5 L622.9,444.5 L627.8,452.7 L632.7,460.9 L637.5,469.4 L642.4,477.9 L647.3,486.5 L652.1,495.3 L657.0,504.1 L659.5,504.4 L659.5,585.4 L657.0,585.0 L652.1,575.0 L647.3,565.1 L642.4,555.4 L637.5,545.8 L632.7,536.2 L627.8,526.9 L622.9,517.6 L618.1,508.5 L613.2,499.6 L608.3,491.0 L603.5,482.6 L598.6,474.3 L593.7,466.1 L588.9,458.1 L584.0,450.2 L579.1,442.4 L574.3,434.7 L569.4,427.1 L564.5,419.6 L559.7,412.2 L554.8,405.0 L549.9,397.8 L545.1,390.7 L540.2,383.8 L535.3,376.9 L530.5,370.1 L525.6,363.4 L520.7,356.8 L515.9,350.3 L511.0,343.9 L506.1,337.6 L501.3,331.3 L496.4,325.1 L491.5,319.1 L486.7,313.2 L481.8,307.3 L476.9,301.5 L472.1,295.9 L467.2,290.3 L462.3,284.7 L457.5,279.2 L452.6,273.8 L447.7,268.5 L442.9,263.3 L438.0,258.1 L433.1,253.0 L428.3,247.9 L423.4,242.9 L418.5,237.9 L413.7,233.0 L408.8,228.1 L403.9,223.3 L399.1,218.6 L394.2,213.9 L389.3,209.4 L384.4,204.8 L379.6,200.4 L374.7,196.0 L369.8,191.6 L365.0,187.4 L360.1,183.2 L355.2,179.0 L350.4,175.0 L345.5,170.9 L340.6,167.0 L335.8,163.1 L330.9,159.3 L326.0,155.5 L321.2,151.8 L316.3,148.2 L311.4,144.6 L306.6,141.1 L301.7,137.7 L296.8,134.3 L292.0,131.0 L287.1,127.7 L282.2,124.5 L277.4,121.4 L272.5,118.4 L267.6,115.4 L262.8,112.5 L257.9,109.6 L253.0,106.8 L248.2,104.1 L243.3,101.5 L238.4,98.9 L233.6,96.4 L228.7,94.0 L223.8,91.6 L219.0,89.3 L214.1,87.1 L209.2,85.0 L204.4,83.0 L199.5,81.0 L194.6,79.2 L189.8,77.4 L184.9,75.7 L180.0,74.1 L175.2,72.6 L170.3,71.3 L165.4,70.0 L160.6,68.8 L155.7,67.8 L150.8,66.9 L146.0,66.1 L141.1,65.5 L136.2,65.0 L131.4,64.7 L126.5,64.6Z" fill="rgb(226,222,225)"/>
<path d="M126.5,58.2 L131.4,58.3 L136.2,58.5 L141.1,58.8 L146.0,59.3 L150.8,59.8 L155.7,60.4 L160.6,61.2 L165.4,62.0 L170.3,62.9 L175.2,63.9 L180.0,65.0 L184.9,66.2 L189.8,67.4 L194.6,68.7 L199.5,70.1 L204.4,71.6 L209.2,73.1 L214.1,74.7 L219.0,76.4 L223.8,78.1 L228.7,79.9 L233.6,81.8 L238.4,83.7 L243.3,85.7 L248.2,87.7 L253.0,89.8 L257.9,92.0 L262.8,94.2 L267.6,96.5 L272.5,98.8 L277.4,101.2 L282.2,103.7 L287.1,106.2 L292.0,108.8 L296.8,111.5 L301.7,114.2 L306.6,117.0 L311.4,119.8 L316.3,122.8 L321.2,125.7 L326.0,128.8 L330.9,131.9 L335.8,135.0 L340.6,138.3 L345.5,141.6 L350.4,144.9 L355.2,148.4 L360.1,151.9 L365.0,155.5 L369.8,159.1 L374.7,162.8 L379.6,166.6 L384.4,170.4 L389.3,174.2 L394.2,178.1 L399.1,182.1 L403.9,186.2 L408.8,190.3 L413.7,194.5 L418.5,198.7 L423.4,203.0 L428.3,207.4 L433.1,211.8 L438.0,216.3 L442.9,220.9 L447.7,225.5 L452.6,230.2 L457.5,235.0 L462.3,239.8 L467.2,244.8 L472.1,249.8 L476.9,254.8 L481.8,260.0 L486.7,265.2 L491.5,270.5 L496.4,275.9 L501.3,281.4 L506.1,287.0 L511.0,292.6 L515.9,298.4 L520.7,304.2 L525.6,310.1 L530.5,316.1 L535.3,322.2 L540.2,328.4 L545.1,334.7 L549.9,341.0 L554.8,347.5 L559.7,354.0 L564.5,360.7 L569.4,367.4 L574.3,374.2 L579.1,381.2 L584.0,388.2 L588.9,395.4 L593.7,402.6 L598.6,409.9 L603.5,417.3 L608.3,424.7 L613.2,432.4 L618.1,440.3 L622.9,448.4 L627.8,456.6 L632.7,464.9 L637.5,473.4 L642.4,481.9 L647.3,490.6 L652.1,499.4 L657.0,508.4 L659.5,508.6 L659.5,585.4 L657.0,585.0 L652.1,575.0 L647.3,565.1 L642.4,555.4 L637.5,545.8 L632.7,536.2 L627.8,526.9 L622.9,517.6 L618.1,508.5 L613.2,499.6 L608.3,491.0 L603.5,482.6 L598.6,474.3 L593.7,466.1 L588.9,458.1 L584.0,450.2 L579.1,442.4 L574.3,434.7 L569.4,427.1 L564.5,419.6 L559.7,412.2 L554.8,405.0 L549.9,397.8 L545.1,390.7 L540.2,383.8 L535.3,376.9 L530.5,370.1 L525.6,363.4 L520.7,356.8 L515.9,350.3 L511.0,343.9 L506.1,337.6 L501.3,331.3 L496.4,325.1 L491.5,319.1 L486.7,313.2 L481.8,307.3 L476.9,301.5 L472.1,295.9 L467.2,290.3 L462.3,284.7 L457.5,279.2 L452.6,273.8 L447.7,268.5 L442.9,263.3 L438.0,258.1 L433.1,253.0 L428.3,247.9 L423.4,242.9 L418.5,237.9 L413.7,233.0 L408.8,228.1 L403.9,223.3 L399.1,218.6 L394.2,213.9 L389.3,209.4 L384.4,204.8 L379.6,200.4 L374.7,196.0 L369.8,191.6 L365.0,187.4 L360.1,183.2 L355.2,179.0 L350.4,175.0 L345.5,170.9 L340.6,167.0 L335.8,163.1 L330.9,159.3 L326.0,155.5 L321.2,151.8 L316.3,148.2 L311.4,144.6 L306.6,141.1 L301.7,137.7 L296.8,134.3 L292.0,131.0 L287.1,127.7 L282.2,124.5 L277.4,121.4 L272.5,118.4 L267.6,115.4 L262.8,112.5 L257.9,109.6 L253.0,106.8 L248.2,104.1 L243.3,101.5 L238.4,98.9 L233.6,96.4 L228.7,94.0 L223.8,91.6 L219.0,89.3 L214.1,87.1 L209.2,85.0 L204.4,83.0 L199.5,81.0 L194.6,79.2 L189.8,77.4 L184.9,75.7 L180.0,74.1 L175.2,72.6 L170.3,71.3 L165.4,70.0 L160.6,68.8 L155.7,67.8 L150.8,66.9 L146.0,66.1 L141.1,65.5 L136.2,65.0 L131.4,64.7 L126.5,64.6Z" fill="rgb(226,222,226)"/>
<path d="M126.5,58.6 L131.4,58.7 L136.2,58.9 L141.1,59.2 L146.0,59.6 L150.8,60.2 L155.7,60.9 L160.6,61.6 L165.4,62.5 L170.3,63.4 L175.2,64.4 L180.0,65.5 L184.9,66.7 L189.8,68.0 L194.6,69.3 L199.5,70.7 L204.4,72.2 L209.2,73.8 L214.1,75.4 L219.0,77.1 L223.8,78.9 L228.7,80.7 L233.6,82.6 L238.4,84.5 L243.3,86.6 L248.2,88.6 L253.0,90.8 L257.9,93.0 L262.8,95.2 L267.6,97.6 L272.5,99.9 L277.4,102.4 L282.2,104.9 L287.1,107.4 L292.0,110.0 L296.8,112.7 L301.7,115.5 L306.6,118.3 L311.4,121.2 L316.3,124.2 L321.2,127.2 L326.0,130.3 L330.9,133.4 L335.8,136.6 L340.6,139.9 L345.5,143.2 L350.4,146.6 L355.2,150.1 L360.1,153.6 L365.0,157.2 L369.8,160.9 L374.7,164.7 L379.6,168.4 L384.4,172.3 L389.3,176.2 L394.2,180.1 L399.1,184.1 L403.9,188.2 L408.8,192.4 L413.7,196.6 L418.5,200.9 L423.4,205.3 L428.3,209.7 L433.1,214.1 L438.0,218.7 L442.9,223.3 L447.7,227.9 L452.6,232.6 L457.5,237.4 L462.3,242.3 L467.2,247.3 L472.1,252.3 L476.9,257.4 L481.8,262.6 L486.7,267.8 L491.5,273.2 L496.4,278.6 L501.3,284.2 L506.1,289.8 L511.0,295.5 L515.9,301.3 L520.7,307.1 L525.6,313.1 L530.5,319.1 L535.3,325.3 L540.2,331.5 L545.1,337.8 L549.9,344.2 L554.8,350.7 L559.7,357.3 L564.5,363.9 L569.4,370.7 L574.3,377.6 L579.1,384.6 L584.0,391.7 L588.9,398.8 L593.7,406.1 L598.6,413.5 L603.5,420.9 L608.3,428.4 L613.2,436.1 L618.1,444.1 L622.9,452.2 L627.8,460.5 L632.7,468.9 L637.5,477.4 L642.4,486.0 L647.3,494.8 L652.1,503.6 L657.0,512.6 L659.5,512.9 L659.5,585.4 L657.0,585.0 L652.1,575.0 L647.3,565.1 L642.4,555.4 L637.5,545.8 L632.7,536.2 L627.8,526.9 L622.9,517.6 L618.1,508.5 L613.2,499.6 L608.3,491.0 L603.5,482.6 L598.6,474.3 L593.7,466.1 L588.9,458.1 L584.0,450.2 L579.1,442.4 L574.3,434.7 L569.4,427.1 L564.5,419.6 L559.7,412.2 L554.8,405.0 L549.9,397.8 L545.1,390.7 L540.2,383.8 L535.3,376.9 L530.5,370.1 L525.6,363.4 L520.7,356.8 L515.9,350.3 L511.0,343.9 L506.1,337.6 L501.3,331.3 L496.4,325.1 L491.5,319.1 L486.7,313.2 L481.8,307.3 L476.9,301.5 L472.1,295.9 L467.2,290.3 L462.3,284.7 L457.5,279.2 L452.6,273.8 L447.7,268.5 L442.9,263.3 L438.0,258.1 L433.1,253.0 L428.3,247.9 L423.4,242.9 L418.5,237.9 L413.7,233.0 L408.8,228.1 L403.9,223.3 L399.1,218.6 L394.2,213.9 L389.3,209.4 L384.4,204.8 L379.6,200.4 L374.7,196.0 L369.8,191.6 L365.0,187.4 L360.1,183.2 L355.2,179.0 L350.4,175.0 L345.5,170.9 L340.6,167.0 L335.8,163.1 L330.9,159.3 L326.0,155.5 L321.2,151.8 L316.3,148.2 L311.4,144.6 L306.6,141.1 L301.7,137.7 L296.8,134.3 L292.0,131.0 L287.1,127.7 L282.2,124.5 L277.4,121.4 L272.5,118.4 L267.6,115.4 L262.8,112.5 L257.9,109.6 L253.0,106.8 L248.2,104.1 L243.3,101.5 L238.4,98.9 L233.6,96.4 L228.7,94.0 L223.8,91.6 L219.0,89.3 L214.1,87.1 L209.2,85.0 L204.4,83.0 L199.5,81.0 L194.6,79.2 L189.8,77.4 L184.9,75.7 L180.0,74.1 L175.2,72.6 L170.3,71.3 L165.4,70.0 L160.6,68.8 L155.7,67.8 L150.8,66.9 L146.0,66.1 L141.1,65.5 L136.2,65.0 L131.4,64.7 L126.5,64.6Z" fill="rgb(225,222,226)"/>
<path d="M126.5,58.9 L131.4,59.0 L136.2,59.2 L141.1,59.6 L146.0,60.0 L150.8,60.6 L155.7,61.3 L160.6,62.0 L165.4,62.9 L170.3,63.9 L175.2,64.9 L180.0,66.0 L184.9,67.2 L189.8,68.5 L194.6,69.9 L199.5,71.3 L204.4,72.9 L209.2,74.4 L214.1,76.1 L219.0,77.8 L223.8,79.6 L228.7,81.5 L233.6,83.4 L238.4,85.4 L243.3,87.4 L248.2,89.5 L253.0,91.7 L257.9,94.0 L262.8,96.3 L267.6,98.6 L272.5,101.0 L277.4,103.5 L282.2,106.0 L287.1,108.6 L292.0,111.3 L296.8,114.0 L301.7,116.8 L306.6,119.7 L311.4,122.6 L316.3,125.6 L321.2,128.6 L326.0,131.8 L330.9,134.9 L335.8,138.2 L340.6,141.5 L345.5,144.8 L350.4,148.3 L355.2,151.8 L360.1,155.4 L365.0,159.0 L369.8,162.7 L374.7,166.5 L379.6,170.3 L384.4,174.2 L389.3,178.1 L394.2,182.1 L399.1,186.2 L403.9,190.3 L408.8,194.5 L413.7,198.7 L418.5,203.1 L423.4,207.5 L428.3,211.9 L433.1,216.4 L438.0,221.0 L442.9,225.6 L447.7,230.3 L452.6,235.1 L457.5,239.9 L462.3,244.8 L467.2,249.8 L472.1,254.9 L476.9,260.0 L481.8,265.2 L486.7,270.5 L491.5,275.9 L496.4,281.4 L501.3,286.9 L506.1,292.6 L511.0,298.3 L515.9,304.1 L520.7,310.1 L525.6,316.0 L530.5,322.1 L535.3,328.3 L540.2,334.6 L545.1,340.9 L549.9,347.3 L554.8,353.9 L559.7,360.5 L564.5,367.2 L569.4,374.0 L574.3,381.0 L579.1,388.0 L584.0,395.1 L588.9,402.3 L593.7,409.6 L598.6,417.0 L603.5,424.5 L608.3,432.1 L613.2,439.9 L618.1,447.9 L622.9,456.1 L627.8,464.4 L632.7,472.8 L637.5,481.4 L642.4,490.1 L647.3,498.9 L652.1,507.8 L657.0,516.9 L659.5,517.2 L659.5,585.4 L657.0,585.0 L652.1,575.0 L647.3,565.1 L642.4,555.4 L637.5,545.8 L632.7,536.2 L627.8,526.9 L622.9,517.6 L618.1,508.5 L613.2,499.6 L608.3,491.0 L603.5,482.6 L598.6,474.3 L593.7,466.1 L588.9,458.1 L584.0,450.2 L579.1,442.4 L574.3,434.7 L569.4,427.1 L564.5,419.6 L559.7,412.2 L554.8,405.0 L549.9,397.8 L545.1,390.7 L540.2,383.8 L535.3,376.9 L530.5,370.1 L525.6,363.4 L520.7,356.8 L515.9,350.3 L511.0,343.9 L506.1,337.6 L501.3,331.3 L496.4,325.1 L491.5,319.1 L486.7,313.2 L481.8,307.3 L476.9,301.5 L472.1,295.9 L467.2,290.3 L462.3,284.7 L457.5,279.2 L452.6,273.8 L447.7,268.5 L442.9,263.3 L438.0,258.1 L433.1,253.0 L428.3,247.9 L423.4,242.9 L418.5,237.9 L413.7,233.0 L408.8,228.1 L403.9,223.3 L399.1,218.6 L394.2,213.9 L389.3,209.4 L384.4,204.8 L379.6,200.4 L374.7,196.0 L369.8,191.6 L365.0,187.4 L360.1,183.2 L355.2,179.0 L350.4,175.0 L345.5,170.9 L340.6,167.0 L335.8,163.1 L330.9,159.3 L326.0,155.5 L321.2,151.8 L316.3,148.2 L311.4,144.6 L306.6,141.1 L301.7,137.7 L296.8,134.3 L292.0,131.0 L287.1,127.7 L282.2,124.5 L277.4,121.4 L272.5,118.4 L267.6,115.4 L262.8,112.5 L257.9,109.6 L253.0,106.8 L248.2,104.1 L243.3,101.5 L238.4,98.9 L233.6,96.4 L228.7,94.0 L223.8,91.6 L219.0,89.3 L214.1,87.1 L209.2,85.0 L204.4,83.0 L199.5,81.0 L194.6,79.2 L189.8,77.4 L184.9,75.7 L180.0,74.1 L175.2,72.6 L170.3,71.3 L165.4,70.0 L160.6,68.8 L155.7,67.8 L150.8,66.9 L146.0,66.1 L141.1,65.5 L136.2,65.0 L131.4,64.7 L126.5,64.6Z" fill="rgb(224,222,227)"/>
<path d="M126.5,59.3 L131.4,59.4 L136.2,59.6 L141.1,59.9 L146.0,60.4 L150.8,61.0 L155.7,61.7 L160.6,62.5 L165.4,63.3 L170.3,64.3 L175.2,65.4 L180.0,66.5 L184.9,67.8 L189.8,69.1 L194.6,70.5 L199.5,71.9 L204.4,73.5 L209.2,75.1 L214.1,76.8 L219.0,78.6 L223.8,80.4 L228.7,82.3 L233.6,84.2 L238.4,86.2 L243.3,88.3 L248.2,90.5 L253.0,92.7 L257.9,94.9 L262.8,97.3 L267.6,99.7 L272.5,102.1 L277.4,104.6 L282.2,107.2 L287.1,109.8 L292.0,112.5 L296.8,115.3 L301.7,118.1 L306.6,121.0 L311.4,124.0 L316.3,127.0 L321.2,130.1 L326.0,133.2 L330.9,136.4 L335.8,139.7 L340.6,143.0 L345.5,146.5 L350.4,149.9 L355.2,153.5 L360.1,157.1 L365.0,160.8 L369.8,164.5 L374.7,168.3 L379.6,172.2 L384.4,176.1 L389.3,180.1 L394.2,184.1 L399.1,188.2 L403.9,192.4 L408.8,196.6 L413.7,200.9 L418.5,205.2 L423.4,209.7 L428.3,214.2 L433.1,218.7 L438.0,223.3 L442.9,228.0 L447.7,232.7 L452.6,237.5 L457.5,242.4 L462.3,247.3 L467.2,252.3 L472.1,257.4 L476.9,262.6 L481.8,267.8 L486.7,273.2 L491.5,278.6 L496.4,284.1 L501.3,289.7 L506.1,295.4 L511.0,301.2 L515.9,307.0 L520.7,313.0 L525.6,319.0 L530.5,325.1 L535.3,331.3 L540.2,337.6 L545.1,344.0 L549.9,350.5 L554.8,357.1 L559.7,363.7 L564.5,370.5 L569.4,377.4 L574.3,384.3 L579.1,391.4 L584.0,398.5 L588.9,405.8 L593.7,413.2 L598.6,420.6 L603.5,428.1 L608.3,435.8 L613.2,443.6 L618.1,451.7 L622.9,459.9 L627.8,468.3 L632.7,476.8 L637.5,485.4 L642.4,494.2 L647.3,503.0 L652.1,512.0 L657.0,521.1 L659.5,521.4 L659.5,585.4 L657.0,585.0 L652.1,575.0 L647.3,565.1 L642.4,555.4 L637.5,545.8 L632.7,536.2 L627.8,526.9 L622.9,517.6 L618.1,508.5 L613.2,499.6 L608.3,491.0 L603.5,482.6 L598.6,474.3 L593.7,466.1 L588.9,458.1 L584.0,450.2 L579.1,442.4 L574.3,434.7 L569.4,427.1 L564.5,419.6 L559.7,412.2 L554.8,405.0 L549.9,397.8 L545.1,390.7 L540.2,383.8 L535.3,376.9 L530.5,370.1 L525.6,363.4 L520.7,356.8 L515.9,350.3 L511.0,343.9 L506.1,337.6 L501.3,331.3 L496.4,325.1 L491.5,319.1 L486.7,313.2 L481.8,307.3 L476.9,301.5 L472.1,295.9 L467.2,290.3 L462.3,284.7 L457.5,279.2 L452.6,273.8 L447.7,268.5 L442.9,263.3 L438.0,258.1 L433.1,253.0 L428.3,247.9 L423.4,242.9 L418.5,237.9 L413.7,233.0 L408.8,228.1 L403.9,223.3 L399.1,218.6 L394.2,213.9 L389.3,209.4 L384.4,204.8 L379.6,200.4 L374.7,196.0 L369.8,191.6 L365.0,187.4 L360.1,183.2 L355.2,179.0 L350.4,175.0 L345.5,170.9 L340.6,167.0 L335.8,163.1 L330.9,159.3 L326.0,155.5 L321.2,151.8 L316.3,148.2 L311.4,144.6 L306.6,141.1 L301.7,137.7 L296.8,134.3 L292.0,131.0 L287.1,127.7 L282.2,124.5 L277.4,121.4 L272.5,118.4 L267.6,115.4 L262.8,112.5 L257.9,109.6 L253.0,106.8 L248.2,104.1 L243.3,101.5 L238.4,98.9 L233.6,96.4 L228.7,94.0 L223.8,91.6 L219.0,89.3 L214.1,87.1 L209.2,85.0 L204.4,83.0 L199.5,81.0 L194.6,79.2 L189.8,77.4 L184.9,75.7 L180.0,74.1 L175.2,72.6 L170.3,71.3 L165.4,70.0 L160.6,68.8 L155.7,67.8 L150.8,66.9 L146.0,66.1 L141.1,65.5 L136.2,65.0 L131.4,64.7 L126.5,64.6Z" fill="rgb(224,223,228)"/>
<path d="M126.5,59.6 L131.4,59.7 L136.2,59.9 L141.1,60.3 L146.0,60.8 L150.8,61.4 L155.7,62.1 L160.6,62.9 L165.4,63.8 L170.3,64.8 L175.2,65.9 L180.0,67.0 L184.9,68.3 L189.8,69.6 L194.6,71.1 L199.5,72.6 L204.4,74.1 L209.2,75.8 L214.1,77.5 L219.0,79.3 L223.8,81.1 L228.7,83.0 L233.6,85.0 L238.4,87.1 L243.3,89.2 L248.2,91.4 L253.0,93.6 L257.9,95.9 L262.8,98.3 L267.6,100.7 L272.5,103.2 L277.4,105.7 L282.2,108.3 L287.1,111.0 L292.0,113.7 L296.8,116.5 L301.7,119.4 L306.6,122.4 L311.4,125.4 L316.3,128.4 L321.2,131.5 L326.0,134.7 L330.9,138.0 L335.8,141.3 L340.6,144.6 L345.5,148.1 L350.4,151.6 L355.2,155.2 L360.1,158.8 L365.0,162.6 L369.8,166.3 L374.7,170.2 L379.6,174.1 L384.4,178.0 L389.3,182.0 L394.2,186.1 L399.1,190.2 L403.9,194.4 L408.8,198.7 L413.7,203.0 L418.5,207.4 L423.4,211.9 L428.3,216.4 L433.1,221.0 L438.0,225.6 L442.9,230.3 L447.7,235.1 L452.6,239.9 L457.5,244.8 L462.3,249.8 L467.2,254.9 L472.1,260.0 L476.9,265.2 L481.8,270.5 L486.7,275.8 L491.5,281.3 L496.4,286.8 L501.3,292.5 L506.1,298.2 L511.0,304.0 L515.9,309.9 L520.7,315.9 L525.6,322.0 L530.5,328.1 L535.3,334.4 L540.2,340.7 L545.1,347.1 L549.9,353.7 L554.8,360.3 L559.7,367.0 L564.5,373.8 L569.4,380.7 L574.3,387.7 L579.1,394.8 L584.0,402.0 L588.9,409.3 L593.7,416.7 L598.6,424.2 L603.5,431.8 L608.3,439.5 L613.2,447.3 L618.1,455.5 L622.9,463.8 L627.8,472.2 L632.7,480.7 L637.5,489.5 L642.4,498.3 L647.3,507.2 L652.1,516.2 L657.0,525.4 L659.5,525.7 L659.5,585.4 L657.0,585.0 L652.1,575.0 L647.3,565.1 L642.4,555.4 L637.5,545.8 L632.7,536.2 L627.8,526.9 L622.9,517.6 L618.1,508.5 L613.2,499.6 L608.3,491.0 L603.5,482.6 L598.6,474.3 L593.7,466.1 L588.9,458.1 L584.0,450.2 L579.1,442.4 L574.3,434.7 L569.4,427.1 L564.5,419.6 L559.7,412.2 L554.8,405.0 L549.9,397.8 L545.1,390.7 L540.2,383.8 L535.3,376.9 L530.5,370.1 L525.6,363.4 L520.7,356.8 L515.9,350.3 L511.0,343.9 L506.1,337.6 L501.3,331.3 L496.4,325.1 L491.5,319.1 L486.7,313.2 L481.8,307.3 L476.9,301.5 L472.1,295.9 L467.2,290.3 L462.3,284.7 L457.5,279.2 L452.6,273.8 L447.7,268.5 L442.9,263.3 L438.0,258.1 L433.1,253.0 L428.3,247.9 L423.4,242.9 L418.5,237.9 L413.7,233.0 L408.8,228.1 L403.9,223.3 L399.1,218.6 L394.2,213.9 L389.3,209.4 L384.4,204.8 L379.6,200.4 L374.7,196.0 L369.8,191.6 L365.0,187.4 L360.1,183.2 L355.2,179.0 L350.4,175.0 L345.5,170.9 L340.6,167.0 L335.8,163.1 L330.9,159.3 L326.0,155.5 L321.2,151.8 L316.3,148.2 L311.4,144.6 L306.6,141.1 L301.7,137.7 L296.8,134.3 L292.0,131.0 L287.1,127.7 L282.2,124.5 L277.4,121.4 L272.5,118.4 L267.6,115.4 L262.8,112.5 L257.9,109.6 L253.0,106.8 L248.2,104.1 L243.3,101.5 L238.4,98.9 L233.6,96.4 L228.7,94.0 L223.8,91.6 L219.0,89.3 L214.1,87.1 L209.2,85.0 L204.4,83.0 L199.5,81.0 L194.6,79.2 L189.8,77.4 L184.9,75.7 L180.0,74.1 L175.2,72.6 L170.3,71.3 L165.4,70.0 L160.6,68.8 L155.7,67.8 L150.8,66.9 L146.0,66.1 L141.1,65.5 L136.2,65.0 L131.4,64.7 L126.5,64.6Z" fill="rgb(223,223,228)"/>
<path d="M126.5,60.0 L131.4,60.1 L136.2,60.3 L141.1,60.7 L146.0,61.2 L150.8,61.8 L155.7,62.5 L160.6,63.3 L165.4,64.2 L170.3,65.2 L175.2,66.4 L180.0,67.5 L184.9,68.8 L189.8,70.2 L194.6,71.6 L199.5,73.2 L204.4,74.8 L209.2,76.4 L214.1,78.2 L219.0,80.0 L223.8,81.9 L228.7,83.8 L233.6,85.8 L238.4,87.9 L243.3,90.1 L248.2,92.3 L253.0,94.6 L257.9,96.9 L262.8,99.3 L267.6,101.8 L272.5,104.3 L277.4,106.8 L282.2,109.5 L287.1,112.2 L292.0,115.0 L296.8,117.8 L301.7,120.7 L306.6,123.7 L311.4,126.7 L316.3,129.8 L321.2,133.0 L326.0,136.2 L330.9,139.5 L335.8,142.8 L340.6,146.2 L345.5,149.7 L350.4,153.3 L355.2,156.9 L360.1,160.6 L365.0,164.3 L369.8,168.2 L374.7,172.0 L379.6,176.0 L384.4,179.9 L389.3,184.0 L394.2,188.1 L399.1,192.2 L403.9,196.5 L408.8,200.8 L413.7,205.2 L418.5,209.6 L423.4,214.1 L428.3,218.7 L433.1,223.3 L438.0,227.9 L442.9,232.7 L447.7,237.5 L452.6,242.3 L457.5,247.3 L462.3,252.3 L467.2,257.4 L472.1,262.6 L476.9,267.8 L481.8,273.1 L486.7,278.5 L491.5,284.0 L496.4,289.6 L501.3,295.2 L506.1,301.0 L511.0,306.9 L515.9,312.8 L520.7,318.8 L525.6,324.9 L530.5,331.1 L535.3,337.4 L540.2,343.8 L545.1,350.3 L549.9,356.8 L554.8,363.5 L559.7,370.2 L564.5,377.0 L569.4,384.0 L574.3,391.0 L579.1,398.2 L584.0,405.4 L588.9,412.8 L593.7,420.2 L598.6,427.8 L603.5,435.4 L608.3,443.1 L613.2,451.1 L618.1,459.2 L622.9,467.6 L627.8,476.1 L632.7,484.7 L637.5,493.5 L642.4,502.3 L647.3,511.3 L652.1,520.4 L657.0,529.7 L659.5,530.0 L659.5,585.4 L657.0,585.0 L652.1,575.0 L647.3,565.1 L642.4,555.4 L637.5,545.8 L632.7,536.2 L627.8,526.9 L622.9,517.6 L618.1,508.5 L613.2,499.6 L608.3,491.0 L603.5,482.6 L598.6,474.3 L593.7,466.1 L588.9,458.1 L584.0,450.2 L579.1,442.4 L574.3,434.7 L569.4,427.1 L564.5,419.6 L559.7,412.2 L554.8,405.0 L549.9,397.8 L545.1,390.7 L540.2,383.8 L535.3,376.9 L530.5,370.1 L525.6,363.4 L520.7,356.8 L515.9,350.3 L511.0,343.9 L506.1,337.6 L501.3,331.3 L496.4,325.1 L491.5,319.1 L486.7,313.2 L481.8,307.3 L476.9,301.5 L472.1,295.9 L467.2,290.3 L462.3,284.7 L457.5,279.2 L452.6,273.8 L447.7,268.5 L442.9,263.3 L438.0,258.1 L433.1,253.0 L428.3,247.9 L423.4,242.9 L418.5,237.9 L413.7,233.0 L408.8,228.1 L403.9,223.3 L399.1,218.6 L394.2,213.9 L389.3,209.4 L384.4,204.8 L379.6,200.4 L374.7,196.0 L369.8,191.6 L365.0,187.4 L360.1,183.2 L355.2,179.0 L350.4,175.0 L345.5,170.9 L340.6,167.0 L335.8,163.1 L330.9,159.3 L326.0,155.5 L321.2,151.8 L316.3,148.2 L311.4,144.6 L306.6,141.1 L301.7,137.7 L296.8,134.3 L292.0,131.0 L287.1,127.7 L282.2,124.5 L277.4,121.4 L272.5,118.4 L267.6,115.4 L262.8,112.5 L257.9,109.6 L253.0,106.8 L248.2,104.1 L243.3,101.5 L238.4,98.9 L233.6,96.4 L228.7,94.0 L223.8,91.6 L219.0,89.3 L214.1,87.1 L209.2,85.0 L204.4,83.0 L199.5,81.0 L194.6,79.2 L189.8,77.4 L184.9,75.7 L180.0,74.1 L175.2,72.6 L170.3,71.3 L165.4,70.0 L160.6,68.8 L155.7,67.8 L150.8,66.9 L146.0,66.1 L141.1,65.5 L136.2,65.0 L131.4,64.7 L126.5,64.6Z" fill="rgb(222,223,229)"/>
<path d="M126.5,60.3 L131.4,60.4 L136.2,60.7 L141.1,61.0 L146.0,61.5 L150.8,62.2 L155.7,62.9 L160.6,63.7 L165.4,64.7 L170.3,65.7 L175.2,66.8 L180.0,68.1 L184.9,69.4 L189.8,70.7 L194.6,72.2 L199.5,73.8 L204.4,75.4 L209.2,77.1 L214.1,78.9 L219.0,80.7 L223.8,82.6 L228.7,84.6 L233.6,86.6 L238.4,88.8 L243.3,90.9 L248.2,93.2 L253.0,95.5 L257.9,97.9 L262.8,100.3 L267.6,102.8 L272.5,105.4 L277.4,108.0 L282.2,110.6 L287.1,113.4 L292.0,116.2 L296.8,119.1 L301.7,122.0 L306.6,125.0 L311.4,128.1 L316.3,131.2 L321.2,134.4 L326.0,137.7 L330.9,141.0 L335.8,144.4 L340.6,147.8 L345.5,151.4 L350.4,154.9 L355.2,158.6 L360.1,162.3 L365.0,166.1 L369.8,170.0 L374.7,173.9 L379.6,177.8 L384.4,181.8 L389.3,185.9 L394.2,190.1 L399.1,194.3 L403.9,198.5 L408.8,202.9 L413.7,207.3 L418.5,211.8 L423.4,216.3 L428.3,220.9 L433.1,225.6 L438.0,230.3 L442.9,235.0 L447.7,239.9 L452.6,244.8 L457.5,249.7 L462.3,254.8 L467.2,259.9 L472.1,265.1 L476.9,270.4 L481.8,275.7 L486.7,281.2 L491.5,286.7 L496.4,292.3 L501.3,298.0 L506.1,303.8 L511.0,309.7 L515.9,315.7 L520.7,321.7 L525.6,327.9 L530.5,334.1 L535.3,340.4 L540.2,346.9 L545.1,353.4 L549.9,360.0 L554.8,366.6 L559.7,373.4 L564.5,380.3 L569.4,387.3 L574.3,394.4 L579.1,401.6 L584.0,408.9 L588.9,416.3 L593.7,423.8 L598.6,431.3 L603.5,439.0 L608.3,446.8 L613.2,454.8 L618.1,463.0 L622.9,471.5 L627.8,480.0 L632.7,488.7 L637.5,497.5 L642.4,506.4 L647.3,515.5 L652.1,524.6 L657.0,533.9 L659.5,534.2 L659.5,585.4 L657.0,585.0 L652.1,575.0 L647.3,565.1 L642.4,555.4 L637.5,545.8 L632.7,536.2 L627.8,526.9 L622.9,517.6 L618.1,508.5 L613.2,499.6 L608.3,491.0 L603.5,482.6 L598.6,474.3 L593.7,466.1 L588.9,458.1 L584.0,450.2 L579.1,442.4 L574.3,434.7 L569.4,427.1 L564.5,419.6 L559.7,412.2 L554.8,405.0 L549.9,397.8 L545.1,390.7 L540.2,383.8 L535.3,376.9 L530.5,370.1 L525.6,363.4 L520.7,356.8 L515.9,350.3 L511.0,343.9 L506.1,337.6 L501.3,331.3 L496.4,325.1 L491.5,319.1 L486.7,313.2 L481.8,307.3 L476.9,301.5 L472.1,295.9 L467.2,290.3 L462.3,284.7 L457.5,279.2 L452.6,273.8 L447.7,268.5 L442.9,263.3 L438.0,258.1 L433.1,253.0 L428.3,247.9 L423.4,242.9 L418.5,237.9 L413.7,233.0 L408.8,228.1 L403.9,223.3 L399.1,218.6 L394.2,213.9 L389.3,209.4 L384.4,204.8 L379.6,200.4 L374.7,196.0 L369.8,191.6 L365.0,187.4 L360.1,183.2 L355.2,179.0 L350.4,175.0 L345.5,170.9 L340.6,167.0 L335.8,163.1 L330.9,159.3 L326.0,155.5 L321.2,151.8 L316.3,148.2 L311.4,144.6 L306.6,141.1 L301.7,137.7 L296.8,134.3 L292.0,131.0 L287.1,127.7 L282.2,124.5 L277.4,121.4 L272.5,118.4 L267.6,115.4 L262.8,112.5 L257.9,109.6 L253.0,106.8 L248.2,104.1 L243.3,101.5 L238.4,98.9 L233.6,96.4 L228.7,94.0 L223.8,91.6 L219.0,89.3 L214.1,87.1 L209.2,85.0 L204.4,83.0 L199.5,81.0 L194.6,79.2 L189.8,77.4 L184.9,75.7 L180.0,74.1 L175.2,72.6 L170.3,71.3 L165.4,70.0 L160.6,68.8 L155.7,67.8 L150.8,66.9 L146.0,66.1 L141.1,65.5 L136.2,65.0 L131.4,64.7 L126.5,64.6Z" fill="rgb(222,223,230)"/>
<path d="M126.5,60.7 L131.4,60.8 L136.2,61.0 L141.1,61.4 L146.0,61.9 L150.8,62.6 L155.7,63.3 L160.6,64.2 L165.4,65.1 L170.3,66.2 L175.2,67.3 L180.0,68.6 L184.9,69.9 L189.8,71.3 L194.6,72.8 L199.5,74.4 L204.4,76.0 L209.2,77.7 L214.1,79.6 L219.0,81.4 L223.8,83.4 L228.7,85.4 L233.6,87.5 L238.4,89.6 L243.3,91.8 L248.2,94.1 L253.0,96.4 L257.9,98.8 L262.8,101.3 L267.6,103.8 L272.5,106.4 L277.4,109.1 L282.2,111.8 L287.1,114.6 L292.0,117.4 L296.8,120.3 L301.7,123.3 L306.6,126.4 L311.4,129.5 L316.3,132.7 L321.2,135.9 L326.0,139.2 L330.9,142.5 L335.8,146.0 L340.6,149.4 L345.5,153.0 L350.4,156.6 L355.2,160.3 L360.1,164.1 L365.0,167.9 L369.8,171.8 L374.7,175.7 L379.6,179.7 L384.4,183.8 L389.3,187.9 L394.2,192.1 L399.1,196.3 L403.9,200.6 L408.8,205.0 L413.7,209.4 L418.5,214.0 L423.4,218.5 L428.3,223.2 L433.1,227.8 L438.0,232.6 L442.9,237.4 L447.7,242.2 L452.6,247.2 L457.5,252.2 L462.3,257.3 L467.2,262.5 L472.1,267.7 L476.9,273.0 L481.8,278.4 L486.7,283.8 L491.5,289.4 L496.4,295.0 L501.3,300.8 L506.1,306.6 L511.0,312.6 L515.9,318.6 L520.7,324.7 L525.6,330.8 L530.5,337.1 L535.3,343.5 L540.2,349.9 L545.1,356.5 L549.9,363.1 L554.8,369.8 L559.7,376.7 L564.5,383.6 L569.4,390.6 L574.3,397.7 L579.1,405.0 L584.0,412.3 L588.9,419.8 L593.7,427.3 L598.6,434.9 L603.5,442.7 L608.3,450.5 L613.2,458.5 L618.1,466.8 L622.9,475.3 L627.8,483.9 L632.7,492.6 L637.5,501.5 L642.4,510.5 L647.3,519.6 L652.1,528.8 L657.0,538.2 L659.5,538.5 L659.5,585.4 L657.0,585.0 L652.1,575.0 L647.3,565.1 L642.4,555.4 L637.5,545.8 L632.7,536.2 L627.8,526.9 L622.9,517.6 L618.1,508.5 L613.2,499.6 L608.3,491.0 L603.5,482.6 L598.6,474.3 L593.7,466.1 L588.9,458.1 L584.0,450.2 L579.1,442.4 L574.3,434.7 L569.4,427.1 L564.5,419.6 L559.7,412.2 L554.8,405.0 L549.9,397.8 L545.1,390.7 L540.2,383.8 L535.3,376.9 L530.5,370.1 L525.6,363.4 L520.7,356.8 L515.9,350.3 L511.0,343.9 L506.1,337.6 L501.3,331.3 L496.4,325.1 L491.5,319.1 L486.7,313.2 L481.8,307.3 L476.9,301.5 L472.1,295.9 L467.2,290.3 L462.3,284.7 L457.5,279.2 L452.6,273.8 L447.7,268.5 L442.9,263.3 L438.0,258.1 L433.1,253.0 L428.3,247.9 L423.4,242.9 L418.5,237.9 L413.7,233.0 L408.8,228.1 L403.9,223.3 L399.1,218.6 L394.2,213.9 L389.3,209.4 L384.4,204.8 L379.6,200.4 L374.7,196.0 L369.8,191.6 L365.0,187.4 L360.1,183.2 L355.2,179.0 L350.4,175.0 L345.5,170.9 L340.6,167.0 L335.8,163.1 L330.9,159.3 L326.0,155.5 L321.2,151.8 L316.3,148.2 L311.4,144.6 L306.6,141.1 L301.7,137.7 L296.8,134.3 L292.0,131.0 L287.1,127.7 L282.2,124.5 L277.4,121.4 L272.5,118.4 L267.6,115.4 L262.8,112.5 L257.9,109.6 L253.0,106.8 L248.2,104.1 L243.3,101.5 L238.4,98.9 L233.6,96.4 L228.7,94.0 L223.8,91.6 L219.0,89.3 L214.1,87.1 L209.2,85.0 L204.4,83.0 L199.5,81.0 L194.6,79.2 L189.8,77.4 L184.9,75.7 L180.0,74.1 L175.2,72.6 L170.3,71.3 L165.4,70.0 L160.6,68.8 L155.7,67.8 L150.8,66.9 L146.0,66.1 L141.1,65.5 L136.2,65.0 L131.4,64.7 L126.5,64.6Z" fill="rgb(221,223,231)"/>
<path d="M126.5,61.1 L131.4,61.1 L136.2,61.4 L141.1,61.8 L146.0,62.3 L150.8,63.0 L155.7,63.7 L160.6,64.6 L165.4,65.6 L170.3,66.6 L175.2,67.8 L180.0,69.1 L184.9,70.4 L189.8,71.9 L194.6,73.4 L199.5,75.0 L204.4,76.7 L209.2,78.4 L214.1,80.2 L219.0,82.1 L223.8,84.1 L228.7,86.2 L233.6,88.3 L238.4,90.4 L243.3,92.7 L248.2,95.0 L253.0,97.4 L257.9,99.8 L262.8,102.3 L267.6,104.9 L272.5,107.5 L277.4,110.2 L282.2,113.0 L287.1,115.8 L292.0,118.7 L296.8,121.6 L301.7,124.6 L306.6,127.7 L311.4,130.9 L316.3,134.1 L321.2,137.3 L326.0,140.7 L330.9,144.1 L335.8,147.5 L340.6,151.0 L345.5,154.6 L350.4,158.3 L355.2,162.0 L360.1,165.8 L365.0,169.7 L369.8,173.6 L374.7,177.6 L379.6,181.6 L384.4,185.7 L389.3,189.8 L394.2,194.0 L399.1,198.3 L403.9,202.7 L408.8,207.1 L413.7,211.6 L418.5,216.1 L423.4,220.7 L428.3,225.4 L433.1,230.1 L438.0,234.9 L442.9,239.7 L447.7,244.6 L452.6,249.6 L457.5,254.7 L462.3,259.8 L467.2,265.0 L472.1,270.2 L476.9,275.6 L481.8,281.0 L486.7,286.5 L491.5,292.1 L496.4,297.8 L501.3,303.6 L506.1,309.4 L511.0,315.4 L515.9,321.5 L520.7,327.6 L525.6,333.8 L530.5,340.1 L535.3,346.5 L540.2,353.0 L545.1,359.6 L549.9,366.3 L554.8,373.0 L559.7,379.9 L564.5,386.9 L569.4,393.9 L574.3,401.1 L579.1,408.4 L584.0,415.7 L588.9,423.2 L593.7,430.8 L598.6,438.5 L603.5,446.3 L608.3,454.2 L613.2,462.3 L618.1,470.6 L622.9,479.2 L627.8,487.8 L632.7,496.6 L637.5,505.5 L642.4,514.6 L647.3,523.7 L652.1,533.0 L657.0,542.4 L659.5,542.8 L659.5,585.4 L657.0,585.0 L652.1,575.0 L647.3,565.1 L642.4,555.4 L637.5,545.8 L632.7,536.2 L627.8,526.9 L622.9,517.6 L618.1,508.5 L613.2,499.6 L608.3,491.0 L603.5,482.6 L598.6,474.3 L593.7,466.1 L588.9,458.1 L584.0,450.2 L579.1,442.4 L574.3,434.7 L569.4,427.1 L564.5,419.6 L559.7,412.2 L554.8,405.0 L549.9,397.8 L545.1,390.7 L540.2,383.8 L535.3,376.9 L530.5,370.1 L525.6,363.4 L520.7,356.8 L515.9,350.3 L511.0,343.9 L506.1,337.6 L501.3,331.3 L496.4,325.1 L491.5,319.1 L486.7,313.2 L481.8,307.3 L476.9,301.5 L472.1,295.9 L467.2,290.3 L462.3,284.7 L457.5,279.2 L452.6,273.8 L447.7,268.5 L442.9,263.3 L438.0,258.1 L433.1,253.0 L428.3,247.9 L423.4,242.9 L418.5,237.9 L413.7,233.0 L408.8,228.1 L403.9,223.3 L399.1,218.6 L394.2,213.9 L389.3,209.4 L384.4,204.8 L379.6,200.4 L374.7,196.0 L369.8,191.6 L365.0,187.4 L360.1,183.2 L355.2,179.0 L350.4,175.0 L345.5,170.9 L340.6,167.0 L335.8,163.1 L330.9,159.3 L326.0,155.5 L321.2,151.8 L316.3,148.2 L311.4,144.6 L306.6,141.1 L301.7,137.7 L296.8,134.3 L292.0,131.0 L287.1,127.7 L282.2,124.5 L277.4,121.4 L272.5,118.4 L267.6,115.4 L262.8,112.5 L257.9,109.6 L253.0,106.8 L248.2,104.1 L243.3,101.5 L238.4,98.9 L233.6,96.4 L228.7,94.0 L223.8,91.6 L219.0,89.3 L214.1,87.1 L209.2,85.0 L204.4,83.0 L199.5,81.0 L194.6,79.2 L189.8,77.4 L184.9,75.7 L180.0,74.1 L175.2,72.6 L170.3,71.3 L165.4,70.0 L160.6,68.8 L155.7,67.8 L150.8,66.9 L146.0,66.1 L141.1,65.5 L136.2,65.0 L131.4,64.7 L126.5,64.6Z" fill="rgb(220,223,231)"/>
<path d="M126.5,61.4 L131.4,61.5 L136.2,61.8 L141.1,62.2 L146.0,62.7 L150.8,63.3 L155.7,64.1 L160.6,65.0 L165.4,66.0 L170.3,67.1 L175.2,68.3 L180.0,69.6 L184.9,70.9 L189.8,72.4 L194.6,74.0 L199.5,75.6 L204.4,77.3 L209.2,79.1 L214.1,80.9 L219.0,82.9 L223.8,84.9 L228.7,86.9 L233.6,89.1 L238.4,91.3 L243.3,93.6 L248.2,95.9 L253.0,98.3 L257.9,100.8 L262.8,103.3 L267.6,105.9 L272.5,108.6 L277.4,111.3 L282.2,114.1 L287.1,117.0 L292.0,119.9 L296.8,122.9 L301.7,125.9 L306.6,129.1 L311.4,132.2 L316.3,135.5 L321.2,138.8 L326.0,142.2 L330.9,145.6 L335.8,149.1 L340.6,152.6 L345.5,156.3 L350.4,159.9 L355.2,163.7 L360.1,167.5 L365.0,171.4 L369.8,175.4 L374.7,179.4 L379.6,183.5 L384.4,187.6 L389.3,191.8 L394.2,196.0 L399.1,200.4 L403.9,204.7 L408.8,209.2 L413.7,213.7 L418.5,218.3 L423.4,223.0 L428.3,227.7 L433.1,232.4 L438.0,237.2 L442.9,242.1 L447.7,247.0 L452.6,252.0 L457.5,257.1 L462.3,262.3 L467.2,267.5 L472.1,272.8 L476.9,278.2 L481.8,283.6 L486.7,289.2 L491.5,294.8 L496.4,300.5 L501.3,306.3 L506.1,312.3 L511.0,318.3 L515.9,324.3 L520.7,330.5 L525.6,336.8 L530.5,343.1 L535.3,349.6 L540.2,356.1 L545.1,362.7 L549.9,369.4 L554.8,376.2 L559.7,383.1 L564.5,390.1 L569.4,397.2 L574.3,404.5 L579.1,411.8 L584.0,419.2 L588.9,426.7 L593.7,434.4 L598.6,442.1 L603.5,449.9 L608.3,457.9 L613.2,466.0 L618.1,474.4 L622.9,483.0 L627.8,491.7 L632.7,500.6 L637.5,509.6 L642.4,518.7 L647.3,527.9 L652.1,537.2 L657.0,546.7 L659.5,547.0 L659.5,585.4 L657.0,585.0 L652.1,575.0 L647.3,565.1 L642.4,555.4 L637.5,545.8 L632.7,536.2 L627.8,526.9 L622.9,517.6 L618.1,508.5 L613.2,499.6 L608.3,491.0 L603.5,482.6 L598.6,474.3 L593.7,466.1 L588.9,458.1 L584.0,450.2 L579.1,442.4 L574.3,434.7 L569.4,427.1 L564.5,419.6 L559.7,412.2 L554.8,405.0 L549.9,397.8 L545.1,390.7 L540.2,383.8 L535.3,376.9 L530.5,370.1 L525.6,363.4 L520.7,356.8 L515.9,350.3 L511.0,343.9 L506.1,337.6 L501.3,331.3 L496.4,325.1 L491.5,319.1 L486.7,313.2 L481.8,307.3 L476.9,301.5 L472.1,295.9 L467.2,290.3 L462.3,284.7 L457.5,279.2 L452.6,273.8 L447.7,268.5 L442.9,263.3 L438.0,258.1 L433.1,253.0 L428.3,247.9 L423.4,242.9 L418.5,237.9 L413.7,233.0 L408.8,228.1 L403.9,223.3 L399.1,218.6 L394.2,213.9 L389.3,209.4 L384.4,204.8 L379.6,200.4 L374.7,196.0 L369.8,191.6 L365.0,187.4 L360.1,183.2 L355.2,179.0 L350.4,175.0 L345.5,170.9 L340.6,167.0 L335.8,163.1 L330.9,159.3 L326.0,155.5 L321.2,151.8 L316.3,148.2 L311.4,144.6 L306.6,141.1 L301.7,137.7 L296.8,134.3 L292.0,131.0 L287.1,127.7 L282.2,124.5 L277.4,121.4 L272.5,118.4 L267.6,115.4 L262.8,112.5 L257.9,109.6 L253.0,106.8 L248.2,104.1 L243.3,101.5 L238.4,98.9 L233.6,96.4 L228.7,94.0 L223.8,91.6 L219.0,89.3 L214.1,87.1 L209.2,85.0 L204.4,83.0 L199.5,81.0 L194.6,79.2 L189.8,77.4 L184.9,75.7 L180.0,74.1 L175.2,72.6 L170.3,71.3 L165.4,70.0 L160.6,68.8 L155.7,67.8 L150.8,66.9 L146.0,66.1 L141.1,65.5 L136.2,65.0 L131.4,64.7 L126.5,64.6Z" fill="rgb(220,224,232)"/>
<path d="M126.5,61.8 L131.4,61.9 L136.2,62.1 L141.1,62.5 L146.0,63.1 L150.8,63.7 L155.7,64.5 L160.6,65.4 L165.4,66.4 L170.3,67.6 L175.2,68.8 L180.0,70.1 L184.9,71.5 L189.8,73.0 L194.6,74.5 L199.5,76.2 L204.4,77.9 L209.2,79.7 L214.1,81.6 L219.0,83.6 L223.8,85.6 L228.7,87.7 L233.6,89.9 L238.4,92.1 L243.3,94.4 L248.2,96.8 L253.0,99.3 L257.9,101.8 L262.8,104.4 L267.6,107.0 L272.5,109.7 L277.4,112.5 L282.2,115.3 L287.1,118.2 L292.0,121.1 L296.8,124.1 L301.7,127.2 L306.6,130.4 L311.4,133.6 L316.3,136.9 L321.2,140.2 L326.0,143.6 L330.9,147.1 L335.8,150.6 L340.6,154.2 L345.5,157.9 L350.4,161.6 L355.2,165.4 L360.1,169.3 L365.0,173.2 L369.8,177.2 L374.7,181.2 L379.6,185.3 L384.4,189.5 L389.3,193.7 L394.2,198.0 L399.1,202.4 L403.9,206.8 L408.8,211.3 L413.7,215.9 L418.5,220.5 L423.4,225.2 L428.3,229.9 L433.1,234.7 L438.0,239.5 L442.9,244.4 L447.7,249.4 L452.6,254.5 L457.5,259.6 L462.3,264.8 L467.2,270.0 L472.1,275.4 L476.9,280.8 L481.8,286.3 L486.7,291.8 L491.5,297.5 L496.4,303.2 L501.3,309.1 L506.1,315.1 L511.0,321.1 L515.9,327.2 L520.7,333.4 L525.6,339.7 L530.5,346.1 L535.3,352.6 L540.2,359.2 L545.1,365.8 L549.9,372.6 L554.8,379.4 L559.7,386.4 L564.5,393.4 L569.4,400.6 L574.3,407.8 L579.1,415.2 L584.0,422.6 L588.9,430.2 L593.7,437.9 L598.6,445.7 L603.5,453.5 L608.3,461.5 L613.2,469.7 L618.1,478.2 L622.9,486.8 L627.8,495.6 L632.7,504.5 L637.5,513.6 L642.4,522.7 L647.3,532.0 L652.1,541.4 L657.0,550.9 L659.5,551.3 L659.5,585.4 L657.0,585.0 L652.1,575.0 L647.3,565.1 L642.4,555.4 L637.5,545.8 L632.7,536.2 L627.8,526.9 L622.9,517.6 L618.1,508.5 L613.2,499.6 L608.3,491.0 L603.5,482.6 L598.6,474.3 L593.7,466.1 L588.9,458.1 L584.0,450.2 L579.1,442.4 L574.3,434.7 L569.4,427.1 L564.5,419.6 L559.7,412.2 L554.8,405.0 L549.9,397.8 L545.1,390.7 L540.2,383.8 L535.3,376.9 L530.5,370.1 L525.6,363.4 L520.7,356.8 L515.9,350.3 L511.0,343.9 L506.1,337.6 L501.3,331.3 L496.4,325.1 L491.5,319.1 L486.7,313.2 L481.8,307.3 L476.9,301.5 L472.1,295.9 L467.2,290.3 L462.3,284.7 L457.5,279.2 L452.6,273.8 L447.7,268.5 L442.9,263.3 L438.0,258.1 L433.1,253.0 L428.3,247.9 L423.4,242.9 L418.5,237.9 L413.7,233.0 L408.8,228.1 L403.9,223.3 L399.1,218.6 L394.2,213.9 L389.3,209.4 L384.4,204.8 L379.6,200.4 L374.7,196.0 L369.8,191.6 L365.0,187.4 L360.1,183.2 L355.2,179.0 L350.4,175.0 L345.5,170.9 L340.6,167.0 L335.8,163.1 L330.9,159.3 L326.0,155.5 L321.2,151.8 L316.3,148.2 L311.4,144.6 L306.6,141.1 L301.7,137.7 L296.8,134.3 L292.0,131.0 L287.1,127.7 L282.2,124.5 L277.4,121.4 L272.5,118.4 L267.6,115.4 L262.8,112.5 L257.9,109.6 L253.0,106.8 L248.2,104.1 L243.3,101.5 L238.4,98.9 L233.6,96.4 L228.7,94.0 L223.8,91.6 L219.0,89.3 L214.1,87.1 L209.2,85.0 L204.4,83.0 L199.5,81.0 L194.6,79.2 L189.8,77.4 L184.9,75.7 L180.0,74.1 L175.2,72.6 L170.3,71.3 L165.4,70.0 L160.6,68.8 L155.7,67.8 L150.8,66.9 L146.0,66.1 L141.1,65.5 L136.2,65.0 L131.4,64.7 L126.5,64.6Z" fill="rgb(219,224,233)"/>
<path d="M126.5,62.1 L131.4,62.2 L136.2,62.5 L141.1,62.9 L146.0,63.5 L150.8,64.1 L155.7,64.9 L160.6,65.9 L165.4,66.9 L170.3,68.0 L175.2,69.3 L180.0,70.6 L184.9,72.0 L189.8,73.5 L194.6,75.1 L199.5,76.8 L204.4,78.5 L209.2,80.4 L214.1,82.3 L219.0,84.3 L223.8,86.4 L228.7,88.5 L233.6,90.7 L238.4,93.0 L243.3,95.3 L248.2,97.7 L253.0,100.2 L257.9,102.8 L262.8,105.4 L267.6,108.0 L272.5,110.8 L277.4,113.6 L282.2,116.4 L287.1,119.4 L292.0,122.4 L296.8,125.4 L301.7,128.5 L306.6,131.7 L311.4,135.0 L316.3,138.3 L321.2,141.7 L326.0,145.1 L330.9,148.6 L335.8,152.2 L340.6,155.8 L345.5,159.5 L350.4,163.3 L355.2,167.1 L360.1,171.0 L365.0,175.0 L369.8,179.0 L374.7,183.1 L379.6,187.2 L384.4,191.4 L389.3,195.7 L394.2,200.0 L399.1,204.4 L403.9,208.9 L408.8,213.4 L413.7,218.0 L418.5,222.7 L423.4,227.4 L428.3,232.2 L433.1,237.0 L438.0,241.9 L442.9,246.8 L447.7,251.8 L452.6,256.9 L457.5,262.0 L462.3,267.3 L467.2,272.6 L472.1,277.9 L476.9,283.4 L481.8,288.9 L486.7,294.5 L491.5,300.2 L496.4,306.0 L501.3,311.9 L506.1,317.9 L511.0,324.0 L515.9,330.1 L520.7,336.4 L525.6,342.7 L530.5,349.1 L535.3,355.6 L540.2,362.2 L545.1,368.9 L549.9,375.7 L554.8,382.6 L559.7,389.6 L564.5,396.7 L569.4,403.9 L574.3,411.2 L579.1,418.6 L584.0,426.1 L588.9,433.7 L593.7,441.4 L598.6,449.2 L603.5,457.2 L608.3,465.2 L613.2,473.4 L618.1,482.0 L622.9,490.7 L627.8,499.5 L632.7,508.5 L637.5,517.6 L642.4,526.8 L647.3,536.1 L652.1,545.6 L657.0,555.2 L659.5,555.5 L659.5,585.4 L657.0,585.0 L652.1,575.0 L647.3,565.1 L642.4,555.4 L637.5,545.8 L632.7,536.2 L627.8,526.9 L622.9,517.6 L618.1,508.5 L613.2,499.6 L608.3,491.0 L603.5,482.6 L598.6,474.3 L593.7,466.1 L588.9,458.1 L584.0,450.2 L579.1,442.4 L574.3,434.7 L569.4,427.1 L564.5,419.6 L559.7,412.2 L554.8,405.0 L549.9,397.8 L545.1,390.7 L540.2,383.8 L535.3,376.9 L530.5,370.1 L525.6,363.4 L520.7,356.8 L515.9,350.3 L511.0,343.9 L506.1,337.6 L501.3,331.3 L496.4,325.1 L491.5,319.1 L486.7,313.2 L481.8,307.3 L476.9,301.5 L472.1,295.9 L467.2,290.3 L462.3,284.7 L457.5,279.2 L452.6,273.8 L447.7,268.5 L442.9,263.3 L438.0,258.1 L433.1,253.0 L428.3,247.9 L423.4,242.9 L418.5,237.9 L413.7,233.0 L408.8,228.1 L403.9,223.3 L399.1,218.6 L394.2,213.9 L389.3,209.4 L384.4,204.8 L379.6,200.4 L374.7,196.0 L369.8,191.6 L365.0,187.4 L360.1,183.2 L355.2,179.0 L350.4,175.0 L345.5,170.9 L340.6,167.0 L335.8,163.1 L330.9,159.3 L326.0,155.5 L321.2,151.8 L316.3,148.2 L311.4,144.6 L306.6,141.1 L301.7,137.7 L296.8,134.3 L292.0,131.0 L287.1,127.7 L282.2,124.5 L277.4,121.4 L272.5,118.4 L267.6,115.4 L262.8,112.5 L257.9,109.6 L253.0,106.8 L248.2,104.1 L243.3,101.5 L238.4,98.9 L233.6,96.4 L228.7,94.0 L223.8,91.6 L219.0,89.3 L214.1,87.1 L209.2,85.0 L204.4,83.0 L199.5,81.0 L194.6,79.2 L189.8,77.4 L184.9,75.7 L180.0,74.1 L175.2,72.6 L170.3,71.3 L165.4,70.0 L160.6,68.8 L155.7,67.8 L150.8,66.9 L146.0,66.1 L141.1,65.5 L136.2,65.0 L131.4,64.7 L126.5,64.6Z" fill="rgb(218,224,233)"/>
<path d="M126.5,62.5 L131.4,62.6 L136.2,62.8 L141.1,63.3 L146.0,63.8 L150.8,64.5 L155.7,65.3 L160.6,66.3 L165.4,67.3 L170.3,68.5 L175.2,69.7 L180.0,71.1 L184.9,72.5 L189.8,74.1 L194.6,75.7 L199.5,77.4 L204.4,79.2 L209.2,81.0 L214.1,83.0 L219.0,85.0 L223.8,87.1 L228.7,89.3 L233.6,91.5 L238.4,93.8 L243.3,96.2 L248.2,98.6 L253.0,101.2 L257.9,103.7 L262.8,106.4 L267.6,109.1 L272.5,111.9 L277.4,114.7 L282.2,117.6 L287.1,120.6 L292.0,123.6 L296.8,126.7 L301.7,129.8 L306.6,133.1 L311.4,136.4 L316.3,139.7 L321.2,143.1 L326.0,146.6 L330.9,150.2 L335.8,153.8 L340.6,157.4 L345.5,161.2 L350.4,165.0 L355.2,168.8 L360.1,172.7 L365.0,176.7 L369.8,180.8 L374.7,184.9 L379.6,189.1 L384.4,193.3 L389.3,197.6 L394.2,202.0 L399.1,206.4 L403.9,210.9 L408.8,215.5 L413.7,220.1 L418.5,224.8 L423.4,229.6 L428.3,234.4 L433.1,239.3 L438.0,244.2 L442.9,249.1 L447.7,254.2 L452.6,259.3 L457.5,264.5 L462.3,269.8 L467.2,275.1 L472.1,280.5 L476.9,286.0 L481.8,291.5 L486.7,297.2 L491.5,302.9 L496.4,308.7 L501.3,314.7 L506.1,320.7 L511.0,326.8 L515.9,333.0 L520.7,339.3 L525.6,345.7 L530.5,352.1 L535.3,358.7 L540.2,365.3 L545.1,372.0 L549.9,378.9 L554.8,385.8 L559.7,392.8 L564.5,400.0 L569.4,407.2 L574.3,414.5 L579.1,422.0 L584.0,429.5 L588.9,437.2 L593.7,444.9 L598.6,452.8 L603.5,460.8 L608.3,468.9 L613.2,477.2 L618.1,485.8 L622.9,494.5 L627.8,503.4 L632.7,512.5 L637.5,521.6 L642.4,530.9 L647.3,540.3 L652.1,549.8 L657.0,559.4 L659.5,559.8 L659.5,585.4 L657.0,585.0 L652.1,575.0 L647.3,565.1 L642.4,555.4 L637.5,545.8 L632.7,536.2 L627.8,526.9 L622.9,517.6 L618.1,508.5 L613.2,499.6 L608.3,491.0 L603.5,482.6 L598.6,474.3 L593.7,466.1 L588.9,458.1 L584.0,450.2 L579.1,442.4 L574.3,434.7 L569.4,427.1 L564.5,419.6 L559.7,412.2 L554.8,405.0 L549.9,397.8 L545.1,390.7 L540.2,383.8 L535.3,376.9 L530.5,370.1 L525.6,363.4 L520.7,356.8 L515.9,350.3 L511.0,343.9 L506.1,337.6 L501.3,331.3 L496.4,325.1 L491.5,319.1 L486.7,313.2 L481.8,307.3 L476.9,301.5 L472.1,295.9 L467.2,290.3 L462.3,284.7 L457.5,279.2 L452.6,273.8 L447.7,268.5 L442.9,263.3 L438.0,258.1 L433.1,253.0 L428.3,247.9 L423.4,242.9 L418.5,237.9 L413.7,233.0 L408.8,228.1 L403.9,223.3 L399.1,218.6 L394.2,213.9 L389.3,209.4 L384.4,204.8 L379.6,200.4 L374.7,196.0 L369.8,191.6 L365.0,187.4 L360.1,183.2 L355.2,179.0 L350.4,175.0 L345.5,170.9 L340.6,167.0 L335.8,163.1 L330.9,159.3 L326.0,155.5 L321.2,151.8 L316.3,148.2 L311.4,144.6 L306.6,141.1 L301.7,137.7 L296.8,134.3 L292.0,131.0 L287.1,127.7 L282.2,124.5 L277.4,121.4 L272.5,118.4 L267.6,115.4 L262.8,112.5 L257.9,109.6 L253.0,106.8 L248.2,104.1 L243.3,101.5 L238.4,98.9 L233.6,96.4 L228.7,94.0 L223.8,91.6 L219.0,89.3 L214.1,87.1 L209.2,85.0 L204.4,83.0 L199.5,81.0 L194.6,79.2 L189.8,77.4 L184.9,75.7 L180.0,74.1 L175.2,72.6 L170.3,71.3 L165.4,70.0 L160.6,68.8 L155.7,67.8 L150.8,66.9 L146.0,66.1 L141.1,65.5 L136.2,65.0 L131.4,64.7 L126.5,64.6Z" fill="rgb(218,224,234)"/>
<path d="M126.5,62.8 L131.4,62.9 L136.2,63.2 L141.1,63.6 L146.0,64.2 L150.8,64.9 L155.7,65.8 L160.6,66.7 L165.4,67.8 L170.3,68.9 L175.2,70.2 L180.0,71.6 L184.9,73.1 L189.8,74.6 L194.6,76.3 L199.5,78.0 L204.4,79.8 L209.2,81.7 L214.1,83.7 L219.0,85.7 L223.8,87.9 L228.7,90.1 L233.6,92.3 L238.4,94.7 L243.3,97.1 L248.2,99.6 L253.0,102.1 L257.9,104.7 L262.8,107.4 L267.6,110.1 L272.5,112.9 L277.4,115.8 L282.2,118.8 L287.1,121.8 L292.0,124.8 L296.8,128.0 L301.7,131.2 L306.6,134.4 L311.4,137.7 L316.3,141.1 L321.2,144.6 L326.0,148.1 L330.9,151.7 L335.8,155.3 L340.6,159.0 L345.5,162.8 L350.4,166.6 L355.2,170.5 L360.1,174.5 L365.0,178.5 L369.8,182.6 L374.7,186.8 L379.6,191.0 L384.4,195.3 L389.3,199.6 L394.2,204.0 L399.1,208.5 L403.9,213.0 L408.8,217.6 L413.7,222.3 L418.5,227.0 L423.4,231.8 L428.3,236.7 L433.1,241.5 L438.0,246.5 L442.9,251.5 L447.7,256.6 L452.6,261.7 L457.5,266.9 L462.3,272.3 L467.2,277.6 L472.1,283.1 L476.9,288.6 L481.8,294.2 L486.7,299.8 L491.5,305.6 L496.4,311.5 L501.3,317.4 L506.1,323.5 L511.0,329.7 L515.9,335.9 L520.7,342.2 L525.6,348.6 L530.5,355.1 L535.3,361.7 L540.2,368.4 L545.1,375.2 L549.9,382.0 L554.8,389.0 L559.7,396.1 L564.5,403.2 L569.4,410.5 L574.3,417.9 L579.1,425.4 L584.0,433.0 L588.9,440.7 L593.7,448.5 L598.6,456.4 L603.5,464.4 L608.3,472.6 L613.2,480.9 L618.1,489.6 L622.9,498.4 L627.8,507.3 L632.7,516.4 L637.5,525.7 L642.4,535.0 L647.3,544.4 L652.1,554.0 L657.0,563.7 L659.5,564.1 L659.5,585.4 L657.0,585.0 L652.1,575.0 L647.3,565.1 L642.4,555.4 L637.5,545.8 L632.7,536.2 L627.8,526.9 L622.9,517.6 L618.1,508.5 L613.2,499.6 L608.3,491.0 L603.5,482.6 L598.6,474.3 L593.7,466.1 L588.9,458.1 L584.0,450.2 L579.1,442.4 L574.3,434.7 L569.4,427.1 L564.5,419.6 L559.7,412.2 L554.8,405.0 L549.9,397.8 L545.1,390.7 L540.2,383.8 L535.3,376.9 L530.5,370.1 L525.6,363.4 L520.7,356.8 L515.9,350.3 L511.0,343.9 L506.1,337.6 L501.3,331.3 L496.4,325.1 L491.5,319.1 L486.7,313.2 L481.8,307.3 L476.9,301.5 L472.1,295.9 L467.2,290.3 L462.3,284.7 L457.5,279.2 L452.6,273.8 L447.7,268.5 L442.9,263.3 L438.0,258.1 L433.1,253.0 L428.3,247.9 L423.4,242.9 L418.5,237.9 L413.7,233.0 L408.8,228.1 L403.9,223.3 L399.1,218.6 L394.2,213.9 L389.3,209.4 L384.4,204.8 L379.6,200.4 L374.7,196.0 L369.8,191.6 L365.0,187.4 L360.1,183.2 L355.2,179.0 L350.4,175.0 L345.5,170.9 L340.6,167.0 L335.8,163.1 L330.9,159.3 L326.0,155.5 L321.2,151.8 L316.3,148.2 L311.4,144.6 L306.6,141.1 L301.7,137.7 L296.8,134.3 L292.0,131.0 L287.1,127.7 L282.2,124.5 L277.4,121.4 L272.5,118.4 L267.6,115.4 L262.8,112.5 L257.9,109.6 L253.0,106.8 L248.2,104.1 L243.3,101.5 L238.4,98.9 L233.6,96.4 L228.7,94.0 L223.8,91.6 L219.0,89.3 L214.1,87.1 L209.2,85.0 L204.4,83.0 L199.5,81.0 L194.6,79.2 L189.8,77.4 L184.9,75.7 L180.0,74.1 L175.2,72.6 L170.3,71.3 L165.4,70.0 L160.6,68.8 L155.7,67.8 L150.8,66.9 L146.0,66.1 L141.1,65.5 L136.2,65.0 L131.4,64.7 L126.5,64.6Z" fill="rgb(217,224,235)"/>
<path d="M126.5,63.2 L131.4,63.3 L136.2,63.6 L141.1,64.0 L146.0,64.6 L150.8,65.3 L155.7,66.2 L160.6,67.1 L165.4,68.2 L170.3,69.4 L175.2,70.7 L180.0,72.1 L184.9,73.6 L189.8,75.2 L194.6,76.8 L199.5,78.6 L204.4,80.4 L209.2,82.4 L214.1,84.4 L219.0,86.4 L223.8,88.6 L228.7,90.8 L233.6,93.1 L238.4,95.5 L243.3,97.9 L248.2,100.5 L253.0,103.0 L257.9,105.7 L262.8,108.4 L267.6,111.2 L272.5,114.0 L277.4,116.9 L282.2,119.9 L287.1,122.9 L292.0,126.1 L296.8,129.2 L301.7,132.5 L306.6,135.8 L311.4,139.1 L316.3,142.5 L321.2,146.0 L326.0,149.6 L330.9,153.2 L335.8,156.9 L340.6,160.6 L345.5,164.4 L350.4,168.3 L355.2,172.2 L360.1,176.2 L365.0,180.3 L369.8,184.4 L374.7,188.6 L379.6,192.9 L384.4,197.2 L389.3,201.5 L394.2,206.0 L399.1,210.5 L403.9,215.1 L408.8,219.7 L413.7,224.4 L418.5,229.2 L423.4,234.0 L428.3,238.9 L433.1,243.8 L438.0,248.8 L442.9,253.9 L447.7,259.0 L452.6,264.1 L457.5,269.4 L462.3,274.7 L467.2,280.1 L472.1,285.6 L476.9,291.2 L481.8,296.8 L486.7,302.5 L491.5,308.3 L496.4,314.2 L501.3,320.2 L506.1,326.3 L511.0,332.5 L515.9,338.8 L520.7,345.1 L525.6,351.6 L530.5,358.1 L535.3,364.7 L540.2,371.5 L545.1,378.3 L549.9,385.2 L554.8,392.2 L559.7,399.3 L564.5,406.5 L569.4,413.8 L574.3,421.2 L579.1,428.8 L584.0,436.4 L588.9,444.1 L593.7,452.0 L598.6,460.0 L603.5,468.1 L608.3,476.3 L613.2,484.6 L618.1,493.3 L622.9,502.2 L627.8,511.2 L632.7,520.4 L637.5,529.7 L642.4,539.0 L647.3,548.6 L652.1,558.2 L657.0,568.0 L659.5,568.3 L659.5,585.4 L657.0,585.0 L652.1,575.0 L647.3,565.1 L642.4,555.4 L637.5,545.8 L632.7,536.2 L627.8,526.9 L622.9,517.6 L618.1,508.5 L613.2,499.6 L608.3,491.0 L603.5,482.6 L598.6,474.3 L593.7,466.1 L588.9,458.1 L584.0,450.2 L579.1,442.4 L574.3,434.7 L569.4,427.1 L564.5,419.6 L559.7,412.2 L554.8,405.0 L549.9,397.8 L545.1,390.7 L540.2,383.8 L535.3,376.9 L530.5,370.1 L525.6,363.4 L520.7,356.8 L515.9,350.3 L511.0,343.9 L506.1,337.6 L501.3,331.3 L496.4,325.1 L491.5,319.1 L486.7,313.2 L481.8,307.3 L476.9,301.5 L472.1,295.9 L467.2,290.3 L462.3,284.7 L457.5,279.2 L452.6,273.8 L447.7,268.5 L442.9,263.3 L438.0,258.1 L433.1,253.0 L428.3,247.9 L423.4,242.9 L418.5,237.9 L413.7,233.0 L408.8,228.1 L403.9,223.3 L399.1,218.6 L394.2,213.9 L389.3,209.4 L384.4,204.8 L379.6,200.4 L374.7,196.0 L369.8,191.6 L365.0,187.4 L360.1,183.2 L355.2,179.0 L350.4,175.0 L345.5,170.9 L340.6,167.0 L335.8,163.1 L330.9,159.3 L326.0,155.5 L321.2,151.8 L316.3,148.2 L311.4,144.6 L306.6,141.1 L301.7,137.7 L296.8,134.3 L292.0,131.0 L287.1,127.7 L282.2,124.5 L277.4,121.4 L272.5,118.4 L267.6,115.4 L262.8,112.5 L257.9,109.6 L253.0,106.8 L248.2,104.1 L243.3,101.5 L238.4,98.9 L233.6,96.4 L228.7,94.0 L223.8,91.6 L219.0,89.3 L214.1,87.1 L209.2,85.0 L204.4,83.0 L199.5,81.0 L194.6,79.2 L189.8,77.4 L184.9,75.7 L180.0,74.1 L175.2,72.6 L170.3,71.3 L165.4,70.0 L160.6,68.8 L155.7,67.8 L150.8,66.9 L146.0,66.1 L141.1,65.5 L136.2,65.0 L131.4,64.7 L126.5,64.6Z" fill="rgb(216,224,236)"/>
<path d="M126.5,63.5 L131.4,63.6 L136.2,63.9 L141.1,64.4 L146.0,65.0 L150.8,65.7 L155.7,66.6 L160.6,67.6 L165.4,68.7 L170.3,69.9 L175.2,71.2 L180.0,72.6 L184.9,74.1 L189.8,75.7 L194.6,77.4 L199.5,79.2 L204.4,81.1 L209.2,83.0 L214.1,85.1 L219.0,87.2 L223.8,89.4 L228.7,91.6 L233.6,93.9 L238.4,96.3 L243.3,98.8 L248.2,101.4 L253.0,104.0 L257.9,106.7 L262.8,109.4 L267.6,112.2 L272.5,115.1 L277.4,118.1 L282.2,121.1 L287.1,124.1 L292.0,127.3 L296.8,130.5 L301.7,133.8 L306.6,137.1 L311.4,140.5 L316.3,144.0 L321.2,147.5 L326.0,151.1 L330.9,154.7 L335.8,158.4 L340.6,162.2 L345.5,166.1 L350.4,170.0 L355.2,173.9 L360.1,178.0 L365.0,182.1 L369.8,186.2 L374.7,190.4 L379.6,194.7 L384.4,199.1 L389.3,203.5 L394.2,208.0 L399.1,212.5 L403.9,217.1 L408.8,221.8 L413.7,226.5 L418.5,231.4 L423.4,236.2 L428.3,241.1 L433.1,246.1 L438.0,251.1 L442.9,256.2 L447.7,261.4 L452.6,266.6 L457.5,271.9 L462.3,277.2 L467.2,282.7 L472.1,288.2 L476.9,293.8 L481.8,299.4 L486.7,305.2 L491.5,311.0 L496.4,316.9 L501.3,323.0 L506.1,329.1 L511.0,335.3 L515.9,341.7 L520.7,348.1 L525.6,354.5 L530.5,361.1 L535.3,367.8 L540.2,374.5 L545.1,381.4 L549.9,388.3 L554.8,395.4 L559.7,402.5 L564.5,409.8 L569.4,417.1 L574.3,424.6 L579.1,432.2 L584.0,439.8 L588.9,447.6 L593.7,455.5 L598.6,463.5 L603.5,471.7 L608.3,479.9 L613.2,488.4 L618.1,497.1 L622.9,506.1 L627.8,515.1 L632.7,524.4 L637.5,533.7 L642.4,543.1 L647.3,552.7 L652.1,562.4 L657.0,572.2 L659.5,572.6 L659.5,585.4 L657.0,585.0 L652.1,575.0 L647.3,565.1 L642.4,555.4 L637.5,545.8 L632.7,536.2 L627.8,526.9 L622.9,517.6 L618.1,508.5 L613.2,499.6 L608.3,491.0 L603.5,482.6 L598.6,474.3 L593.7,466.1 L588.9,458.1 L584.0,450.2 L579.1,442.4 L574.3,434.7 L569.4,427.1 L564.5,419.6 L559.7,412.2 L554.8,405.0 L549.9,397.8 L545.1,390.7 L540.2,383.8 L535.3,376.9 L530.5,370.1 L525.6,363.4 L520.7,356.8 L515.9,350.3 L511.0,343.9 L506.1,337.6 L501.3,331.3 L496.4,325.1 L491.5,319.1 L486.7,313.2 L481.8,307.3 L476.9,301.5 L472.1,295.9 L467.2,290.3 L462.3,284.7 L457.5,279.2 L452.6,273.8 L447.7,268.5 L442.9,263.3 L438.0,258.1 L433.1,253.0 L428.3,247.9 L423.4,242.9 L418.5,237.9 L413.7,233.0 L408.8,228.1 L403.9,223.3 L399.1,218.6 L394.2,213.9 L389.3,209.4 L384.4,204.8 L379.6,200.4 L374.7,196.0 L369.8,191.6 L365.0,187.4 L360.1,183.2 L355.2,179.0 L350.4,175.0 L345.5,170.9 L340.6,167.0 L335.8,163.1 L330.9,159.3 L326.0,155.5 L321.2,151.8 L316.3,148.2 L311.4,144.6 L306.6,141.1 L301.7,137.7 L296.8,134.3 L292.0,131.0 L287.1,127.7 L282.2,124.5 L277.4,121.4 L272.5,118.4 L267.6,115.4 L262.8,112.5 L257.9,109.6 L253.0,106.8 L248.2,104.1 L243.3,101.5 L238.4,98.9 L233.6,96.4 L228.7,94.0 L223.8,91.6 L219.0,89.3 L214.1,87.1 L209.2,85.0 L204.4,83.0 L199.5,81.0 L194.6,79.2 L189.8,77.4 L184.9,75.7 L180.0,74.1 L175.2,72.6 L170.3,71.3 L165.4,70.0 L160.6,68.8 L155.7,67.8 L150.8,66.9 L146.0,66.1 L141.1,65.5 L136.2,65.0 L131.4,64.7 L126.5,64.6Z" fill="rgb(216,225,236)"/>
<path d="M126.5,63.9 L131.4,64.0 L136.2,64.3 L141.1,64.8 L146.0,65.4 L150.8,66.1 L155.7,67.0 L160.6,68.0 L165.4,69.1 L170.3,70.3 L175.2,71.7 L180.0,73.1 L184.9,74.6 L189.8,76.3 L194.6,78.0 L199.5,79.8 L204.4,81.7 L209.2,83.7 L214.1,85.7 L219.0,87.9 L223.8,90.1 L228.7,92.4 L233.6,94.8 L238.4,97.2 L243.3,99.7 L248.2,102.3 L253.0,104.9 L257.9,107.6 L262.8,110.4 L267.6,113.3 L272.5,116.2 L277.4,119.2 L282.2,122.2 L287.1,125.3 L292.0,128.5 L296.8,131.8 L301.7,135.1 L306.6,138.4 L311.4,141.9 L316.3,145.4 L321.2,148.9 L326.0,152.6 L330.9,156.2 L335.8,160.0 L340.6,163.8 L345.5,167.7 L350.4,171.6 L355.2,175.6 L360.1,179.7 L365.0,183.8 L369.8,188.0 L374.7,192.3 L379.6,196.6 L384.4,201.0 L389.3,205.4 L394.2,210.0 L399.1,214.5 L403.9,219.2 L408.8,223.9 L413.7,228.7 L418.5,233.5 L423.4,238.4 L428.3,243.4 L433.1,248.4 L438.0,253.5 L442.9,258.6 L447.7,263.7 L452.6,269.0 L457.5,274.3 L462.3,279.7 L467.2,285.2 L472.1,290.7 L476.9,296.4 L481.8,302.0 L486.7,307.8 L491.5,313.7 L496.4,319.7 L501.3,325.8 L506.1,331.9 L511.0,338.2 L515.9,344.5 L520.7,351.0 L525.6,357.5 L530.5,364.1 L535.3,370.8 L540.2,377.6 L545.1,384.5 L549.9,391.5 L554.8,398.6 L559.7,405.8 L564.5,413.1 L569.4,420.4 L574.3,427.9 L579.1,435.6 L584.0,443.3 L588.9,451.1 L593.7,459.1 L598.6,467.1 L603.5,475.3 L608.3,483.6 L613.2,492.1 L618.1,500.9 L622.9,509.9 L627.8,519.0 L632.7,528.3 L637.5,537.7 L642.4,547.2 L647.3,556.8 L652.1,566.6 L657.0,576.5 L659.5,576.9 L659.5,585.4 L657.0,585.0 L652.1,575.0 L647.3,565.1 L642.4,555.4 L637.5,545.8 L632.7,536.2 L627.8,526.9 L622.9,517.6 L618.1,508.5 L613.2,499.6 L608.3,491.0 L603.5,482.6 L598.6,474.3 L593.7,466.1 L588.9,458.1 L584.0,450.2 L579.1,442.4 L574.3,434.7 L569.4,427.1 L564.5,419.6 L559.7,412.2 L554.8,405.0 L549.9,397.8 L545.1,390.7 L540.2,383.8 L535.3,376.9 L530.5,370.1 L525.6,363.4 L520.7,356.8 L515.9,350.3 L511.0,343.9 L506.1,337.6 L501.3,331.3 L496.4,325.1 L491.5,319.1 L486.7,313.2 L481.8,307.3 L476.9,301.5 L472.1,295.9 L467.2,290.3 L462.3,284.7 L457.5,279.2 L452.6,273.8 L447.7,268.5 L442.9,263.3 L438.0,258.1 L433.1,253.0 L428.3,247.9 L423.4,242.9 L418.5,237.9 L413.7,233.0 L408.8,228.1 L403.9,223.3 L399.1,218.6 L394.2,213.9 L389.3,209.4 L384.4,204.8 L379.6,200.4 L374.7,196.0 L369.8,191.6 L365.0,187.4 L360.1,183.2 L355.2,179.0 L350.4,175.0 L345.5,170.9 L340.6,167.0 L335.8,163.1 L330.9,159.3 L326.0,155.5 L321.2,151.8 L316.3,148.2 L311.4,144.6 L306.6,141.1 L301.7,137.7 L296.8,134.3 L292.0,131.0 L287.1,127.7 L282.2,124.5 L277.4,121.4 L272.5,118.4 L267.6,115.4 L262.8,112.5 L257.9,109.6 L253.0,106.8 L248.2,104.1 L243.3,101.5 L238.4,98.9 L233.6,96.4 L228.7,94.0 L223.8,91.6 L219.0,89.3 L214.1,87.1 L209.2,85.0 L204.4,83.0 L199.5,81.0 L194.6,79.2 L189.8,77.4 L184.9,75.7 L180.0,74.1 L175.2,72.6 L170.3,71.3 L165.4,70.0 L160.6,68.8 L155.7,67.8 L150.8,66.9 L146.0,66.1 L141.1,65.5 L136.2,65.0 L131.4,64.7 L126.5,64.6Z" fill="rgb(215,225,237)"/>
<path d="M126.5,64.2 L131.4,64.4 L136.2,64.7 L141.1,65.1 L146.0,65.7 L150.8,66.5 L155.7,67.4 L160.6,68.4 L165.4,69.5 L170.3,70.8 L175.2,72.2 L180.0,73.6 L184.9,75.2 L189.8,76.8 L194.6,78.6 L199.5,80.4 L204.4,82.3 L209.2,84.3 L214.1,86.4 L219.0,88.6 L223.8,90.8 L228.7,93.2 L233.6,95.6 L238.4,98.0 L243.3,100.6 L248.2,103.2 L253.0,105.9 L257.9,108.6 L262.8,111.4 L267.6,114.3 L272.5,117.3 L277.4,120.3 L282.2,123.4 L287.1,126.5 L292.0,129.7 L296.8,133.0 L301.7,136.4 L306.6,139.8 L311.4,143.3 L316.3,146.8 L321.2,150.4 L326.0,154.0 L330.9,157.8 L335.8,161.6 L340.6,165.4 L345.5,169.3 L350.4,173.3 L355.2,177.3 L360.1,181.4 L365.0,185.6 L369.8,189.8 L374.7,194.1 L379.6,198.5 L384.4,202.9 L389.3,207.4 L394.2,212.0 L399.1,216.6 L403.9,221.3 L408.8,226.0 L413.7,230.8 L418.5,235.7 L423.4,240.7 L428.3,245.6 L433.1,250.7 L438.0,255.8 L442.9,260.9 L447.7,266.1 L452.6,271.4 L457.5,276.8 L462.3,282.2 L467.2,287.7 L472.1,293.3 L476.9,299.0 L481.8,304.7 L486.7,310.5 L491.5,316.4 L496.4,322.4 L501.3,328.5 L506.1,334.7 L511.0,341.0 L515.9,347.4 L520.7,353.9 L525.6,360.5 L530.5,367.1 L535.3,373.9 L540.2,380.7 L545.1,387.6 L549.9,394.6 L554.8,401.8 L559.7,409.0 L564.5,416.3 L569.4,423.8 L574.3,431.3 L579.1,439.0 L584.0,446.7 L588.9,454.6 L593.7,462.6 L598.6,470.7 L603.5,478.9 L608.3,487.3 L613.2,495.8 L618.1,504.7 L622.9,513.8 L627.8,522.9 L632.7,532.3 L637.5,541.7 L642.4,551.3 L647.3,561.0 L652.1,570.8 L657.0,580.7 L659.5,581.1 L659.5,585.4 L657.0,585.0 L652.1,575.0 L647.3,565.1 L642.4,555.4 L637.5,545.8 L632.7,536.2 L627.8,526.9 L622.9,517.6 L618.1,508.5 L613.2,499.6 L608.3,491.0 L603.5,482.6 L598.6,474.3 L593.7,466.1 L588.9,458.1 L584.0,450.2 L579.1,442.4 L574.3,434.7 L569.4,427.1 L564.5,419.6 L559.7,412.2 L554.8,405.0 L549.9,397.8 L545.1,390.7 L540.2,383.8 L535.3,376.9 L530.5,370.1 L525.6,363.4 L520.7,356.8 L515.9,350.3 L511.0,343.9 L506.1,337.6 L501.3,331.3 L496.4,325.1 L491.5,319.1 L486.7,313.2 L481.8,307.3 L476.9,301.5 L472.1,295.9 L467.2,290.3 L462.3,284.7 L457.5,279.2 L452.6,273.8 L447.7,268.5 L442.9,263.3 L438.0,258.1 L433.1,253.0 L428.3,247.9 L423.4,242.9 L418.5,237.9 L413.7,233.0 L408.8,228.1 L403.9,223.3 L399.1,218.6 L394.2,213.9 L389.3,209.4 L384.4,204.8 L379.6,200.4 L374.7,196.0 L369.8,191.6 L365.0,187.4 L360.1,183.2 L355.2,179.0 L350.4,175.0 L345.5,170.9 L340.6,167.0 L335.8,163.1 L330.9,159.3 L326.0,155.5 L321.2,151.8 L316.3,148.2 L311.4,144.6 L306.6,141.1 L301.7,137.7 L296.8,134.3 L292.0,131.0 L287.1,127.7 L282.2,124.5 L277.4,121.4 L272.5,118.4 L267.6,115.4 L262.8,112.5 L257.9,109.6 L253.0,106.8 L248.2,104.1 L243.3,101.5 L238.4,98.9 L233.6,96.4 L228.7,94.0 L223.8,91.6 L219.0,89.3 L214.1,87.1 L209.2,85.0 L204.4,83.0 L199.5,81.0 L194.6,79.2 L189.8,77.4 L184.9,75.7 L180.0,74.1 L175.2,72.6 L170.3,71.3 L165.4,70.0 L160.6,68.8 L155.7,67.8 L150.8,66.9 L146.0,66.1 L141.1,65.5 L136.2,65.0 L131.4,64.7 L126.5,64.6Z" fill="rgb(214,225,238)"/>
</g>
<!-- axes -->
<g fill="none" stroke="#8a8a8a" stroke-width="2.4">
<path d="M126.3,19 V586.3 H694"/>
<path d="M118.2,27 L126.3,18.4 L134.4,27" stroke-linecap="round" stroke-linejoin="miter"/>
<path d="M685.4,578.4 L694.2,586.3 L685.4,594.2" stroke-linecap="round" stroke-linejoin="miter"/>
</g>
<!-- curves -->
<path d="M125.30,47.60 L128.64,47.58 L131.99,47.59 L135.33,47.61 L138.68,47.65 L142.02,47.71 L145.36,47.80 L148.71,47.90 L152.05,48.02 L155.40,48.16 L158.74,48.33 L162.08,48.51 L165.43,48.71 L168.77,48.94 L172.12,49.18 L175.46,49.45 L178.80,49.74 L182.15,50.04 L185.49,50.37 L188.84,50.72 L192.18,51.10 L195.52,51.49 L198.87,51.91 L202.21,52.34 L205.56,52.80 L208.90,53.28 L212.24,53.79 L215.59,54.31 L218.93,54.85 L222.28,55.41 L225.62,55.99 L228.96,56.59 L232.31,57.21 L235.65,57.85 L239.00,58.51 L242.34,59.19 L245.68,59.90 L249.03,60.63 L252.37,61.38 L255.72,62.15 L259.06,62.95 L262.41,63.77 L265.75,64.60 L269.09,65.44 L272.44,66.30 L275.78,67.19 L279.13,68.09 L282.47,69.02 L285.81,69.99 L289.16,70.98 L292.50,72.01 L295.85,73.08 L299.19,74.20 L302.53,75.35 L305.88,76.53 L309.22,77.73 L312.57,78.96 L315.91,80.22 L319.25,81.50 L322.60,82.82 L325.94,84.15 L329.29,85.52 L332.63,86.91 L335.97,88.33 L339.32,89.78 L342.66,91.26 L346.01,92.79 L349.35,94.38 L352.69,96.01 L356.04,97.67 L359.38,99.38 L362.73,101.11 L366.07,102.88 L369.41,104.66 L372.76,106.47 L376.10,108.30 L379.45,110.13 L382.79,111.98 L386.13,113.84 L389.48,115.73 L392.82,117.65 L396.17,119.60 L399.51,121.58 L402.85,123.59 L406.20,125.64 L409.54,127.71 L412.89,129.82 L416.23,131.96 L419.57,134.14 L422.92,136.35 L426.26,138.60 L429.61,140.88 L432.95,143.20 L436.29,145.55 L439.64,147.94 L442.98,150.36 L446.33,152.81 L449.67,155.30 L453.01,157.82 L456.36,160.38 L459.70,162.98 L463.05,165.62 L466.39,168.29 L469.73,170.99 L473.08,173.73 L476.42,176.51 L479.77,179.31 L483.11,182.15 L486.45,185.03 L489.80,187.94 L493.14,190.89 L496.49,193.87 L499.83,196.89 L503.17,199.94 L506.52,203.02 L509.86,206.14 L513.21,209.29 L516.55,212.48 L519.89,215.70 L523.24,218.97 L526.58,222.27 L529.93,225.61 L533.27,229.00 L536.62,232.43 L539.96,235.90 L543.30,239.41 L546.65,242.95 L549.99,246.52 L553.34,250.12 L556.68,253.76 L560.02,257.44 L563.37,261.16 L566.71,264.92 L570.06,268.72 L573.40,272.56 L576.74,276.44 L580.09,280.36 L583.43,284.31 L586.78,288.31 L590.12,292.35 L593.46,296.39 L596.81,300.41 L600.15,304.43 L603.50,308.47 L606.84,312.54 L610.18,316.66 L613.53,320.86 L616.87,325.13 L620.22,329.44 L623.56,333.80 L626.90,338.21 L630.25,342.69 L633.59,347.25 L636.94,351.89 L640.28,356.58 L643.62,361.31 L646.97,366.09 L650.31,370.92 L653.66,375.79 L657.00,380.70" fill="none" stroke="#E54033" stroke-width="4.8" stroke-linejoin="round"/>
<circle cx="657.0" cy="380.7" r="2.4" fill="#E54033"/>
<path d="M125.30,64.60 L128.65,64.63 L131.99,64.75 L135.34,64.95 L138.68,65.24 L142.03,65.60 L145.37,66.04 L148.72,66.54 L152.06,67.11 L155.41,67.74 L158.75,68.43 L162.10,69.19 L165.44,69.99 L168.79,70.85 L172.13,71.77 L175.48,72.73 L178.82,73.74 L182.17,74.81 L185.52,75.91 L188.86,77.07 L192.21,78.26 L195.55,79.50 L198.90,80.79 L202.24,82.11 L205.59,83.47 L208.93,84.88 L212.28,86.32 L215.62,87.80 L218.97,89.32 L222.31,90.88 L225.66,92.47 L229.00,94.10 L232.35,95.76 L235.69,97.46 L239.04,99.19 L242.38,100.96 L245.73,102.76 L249.08,104.60 L252.42,106.47 L255.77,108.37 L259.11,110.30 L262.46,112.27 L265.80,114.26 L269.15,116.29 L272.49,118.36 L275.84,120.45 L279.18,122.57 L282.53,124.73 L285.87,126.91 L289.22,129.13 L292.56,131.38 L295.91,133.65 L299.25,135.96 L302.60,138.30 L305.95,140.67 L309.29,143.07 L312.64,145.50 L315.98,147.95 L319.33,150.44 L322.67,152.96 L326.02,155.51 L329.36,158.09 L332.71,160.69 L336.05,163.33 L339.40,166.00 L342.74,168.69 L346.09,171.42 L349.43,174.18 L352.78,176.96 L356.12,179.78 L359.47,182.62 L362.82,185.50 L366.16,188.41 L369.51,191.34 L372.85,194.31 L376.20,197.31 L379.54,200.33 L382.89,203.39 L386.23,206.48 L389.58,209.60 L392.92,212.75 L396.27,215.93 L399.61,219.14 L402.96,222.38 L406.30,225.66 L409.65,228.97 L412.99,232.30 L416.34,235.67 L419.68,239.07 L423.03,242.50 L426.38,245.95 L429.72,249.42 L433.07,252.91 L436.41,256.43 L439.76,259.97 L443.10,263.54 L446.45,267.14 L449.79,270.78 L453.14,274.45 L456.48,278.16 L459.83,281.90 L463.17,285.69 L466.52,289.49 L469.86,293.34 L473.21,297.21 L476.55,301.12 L479.90,305.06 L483.25,309.05 L486.59,313.07 L489.94,317.15 L493.28,321.27 L496.63,325.44 L499.97,329.66 L503.32,333.94 L506.66,338.25 L510.01,342.60 L513.35,347.00 L516.70,351.43 L520.04,355.91 L523.39,360.42 L526.73,364.98 L530.08,369.58 L533.42,374.23 L536.77,378.92 L540.12,383.65 L543.46,388.43 L546.81,393.26 L550.15,398.13 L553.50,403.04 L556.84,408.01 L560.19,413.02 L563.53,418.09 L566.88,423.20 L570.22,428.36 L573.57,433.57 L576.91,438.84 L580.26,444.15 L583.60,449.53 L586.95,454.95 L590.29,460.43 L593.64,465.97 L596.98,471.56 L600.33,477.22 L603.68,482.93 L607.02,488.70 L610.37,494.53 L613.71,500.50 L617.06,506.63 L620.40,512.86 L623.75,519.16 L627.09,525.50 L630.44,531.93 L633.78,538.42 L637.13,544.97 L640.47,551.55 L643.82,558.19 L647.16,564.89 L650.51,571.67 L653.85,578.50 L657.20,585.40" fill="none" stroke="#4E97D4" stroke-width="4.5" stroke-linejoin="round"/>
<circle cx="657.2" cy="585.4" r="2.25" fill="#4E97D4"/>
<!-- arrows between points -->
<path d="M413.15,226 V199.5 L412.55,198.5 V173.5 L411.7,172.5 V149 H416.1 V172.5 L415.25,173.5 V198.5 L414.65,199.5 V226Z" fill="url(#gv)"/>
<path d="M413.9,141.3 L421.2,148 V154.8 L413.9,148.6 L406.6,154.8 V148 Z" fill="#EC7B52" stroke="#EC7B52" stroke-width="0.6" stroke-linejoin="round"/>
<path d="M423,232.9 H470.5 L471.5,232 H510 L511,231.2 H521 V236.2 H511 L510,235.4 H471.5 L470.5,234.5 H423Z" fill="url(#gh)"/>
<path d="M528.6,233.7 L522.2,227 H515.4 L521.6,233.7 L515.4,240.4 H522.2 Z" fill="#EC7B52" stroke="#EC7B52" stroke-width="0.6" stroke-linejoin="round"/>
<!-- points -->
<circle cx="413.9" cy="130.75" r="7" fill="#fff" stroke="#E54033" stroke-width="3.2"/>
<circle cx="538.65" cy="232.7" r="7" fill="#fff" stroke="#E54033" stroke-width="3.2"/>
<circle cx="413.9" cy="233.5" r="7" fill="#fff" stroke="#4E97D4" stroke-width="3.2"/>
<!-- small arrows -->
<g fill="none" stroke-width="2.5">
<path d="M60.9,264.2 V100" stroke="#8a8a8a"/>
<path d="M60.9,365.5 V508" stroke="#bcbcbc"/>
<path d="M309.5,614.5 H215" stroke="#bcbcbc"/>
<path d="M497,614.5 H591.5" stroke="#8a8a8a"/>
</g>
<g stroke-width="0.5" stroke-linejoin="round">
<path d="M60.90,96.80 L65.00,100.40 L65.00,103.80 L60.90,100.60 L56.80,103.80 L56.80,100.40Z" fill="#8a8a8a" stroke="#8a8a8a"/>
<path d="M60.90,511.40 L56.80,507.80 L56.80,504.40 L60.90,507.60 L65.00,504.40 L65.00,507.80Z" fill="#bcbcbc" stroke="#bcbcbc"/>
<path d="M211.50,614.50 L215.10,610.40 L218.50,610.40 L215.30,614.50 L218.50,618.60 L215.10,618.60Z" fill="#bcbcbc" stroke="#bcbcbc"/>
<path d="M595.00,614.50 L591.40,618.60 L588.00,618.60 L591.20,614.50 L588.00,610.40 L591.40,610.40Z" fill="#8a8a8a" stroke="#8a8a8a"/>
</g>
<!-- text -->
<text class="l" x="31" y="68" font-size="20.6" fill="#8a8a8a">高確率</text>
<text class="l" x="31" y="560.5" font-size="20.6" fill="#c4c4c4">低確率</text>
<g class="b" font-size="24.5" letter-spacing="0.3" fill="#000" stroke="#000" text-anchor="middle">
<text x="62" y="294.2">現象の</text>
<text x="62" y="324">年間</text>
<text x="62" y="352.8">発生確率</text>
</g>
<g class="b" font-size="20.5" letter-spacing="0.35" fill="#838383" stroke="#838383">
<text x="141" y="546">気温の高い（極端な）</text>
<text x="141" y="571">現象ほど発生確率が低い</text>
</g>
<text class="l" x="142.2" y="621" font-size="20.6" fill="#c4c4c4">低い</text>
<text class="l" x="634.5" y="621" font-size="20.6" fill="#8a8a8a">高い</text>
<text class="b" x="379" y="623.2" font-size="24.5" letter-spacing="0.3" fill="#000" stroke="#000">気温</text>
<text class="b" x="537" y="62.8" font-size="24.4" fill="#E54033" stroke="#E54033" letter-spacing="0.4">現在の気候</text>
<g class="l" font-size="20.65" fill="#E8564A">
<text x="441" y="110">同じ気温だが</text>
<text x="441" y="134.5">発生確率が高い</text>
<text x="559" y="214">同じ発生確率だが</text>
<text x="559" y="239">気温が高い</text>
</g>
<g class="b" font-size="24.4" letter-spacing="0.4" fill="#4E97D4" stroke="#4E97D4">
<text x="238.8" y="248.2">工業化以前の</text>
<text x="338.5" y="278.3">気候</text>
</g>
</svg>
</body></html>
